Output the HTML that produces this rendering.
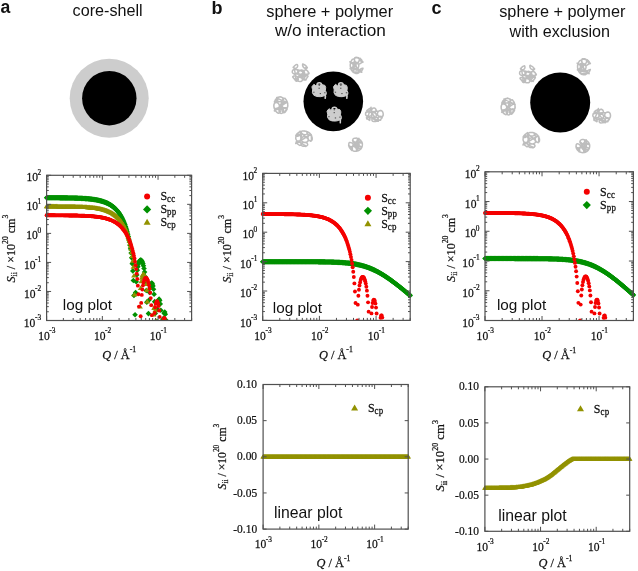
<!DOCTYPE html><html><head><meta charset="utf-8"><style>html,body{margin:0;padding:0;background:#fff;width:638px;height:571px;overflow:hidden}svg{display:block;will-change:transform}</style></head><body><svg width="638" height="571" viewBox="0 0 638 571">
<rect width="638" height="571" fill="#fff"/>
<text x="0.50" y="13.00" style="font-family:'Liberation Sans',sans-serif;font-size:17.6px;font-weight:bold" fill="#111">a</text>
<text x="211.60" y="14.20" style="font-family:'Liberation Sans',sans-serif;font-size:18px;font-weight:bold" fill="#111">b</text>
<text x="431.40" y="14.20" style="font-family:'Liberation Sans',sans-serif;font-size:18px;font-weight:bold" fill="#111">c</text>
<text x="72.60" y="15.70" textLength="70.00" lengthAdjust="spacingAndGlyphs" style="font-family:'Liberation Sans',sans-serif;font-size:16px" fill="#111">core-shell</text>
<text x="266.20" y="17.10" textLength="127.00" lengthAdjust="spacingAndGlyphs" style="font-family:'Liberation Sans',sans-serif;font-size:16.3px" fill="#111">sphere + polymer</text>
<text x="274.90" y="36.20" textLength="111.00" lengthAdjust="spacingAndGlyphs" style="font-family:'Liberation Sans',sans-serif;font-size:16.3px" fill="#111">w/o interaction</text>
<text x="499.20" y="17.00" textLength="126.20" lengthAdjust="spacingAndGlyphs" style="font-family:'Liberation Sans',sans-serif;font-size:16.3px" fill="#111">sphere + polymer</text>
<text x="509.50" y="36.90" textLength="100.50" lengthAdjust="spacingAndGlyphs" style="font-family:'Liberation Sans',sans-serif;font-size:16.3px" fill="#111">with exclusion</text>
<circle cx="109.2" cy="98.3" r="39.5" fill="#cdcdcd"/>
<circle cx="109.3" cy="98.2" r="27.2" fill="#000"/>
<circle cx="333.3" cy="101.4" r="29.8" fill="#000"/>
<circle cx="560.2" cy="102.5" r="30" fill="#000"/>
<path d="M293.2 67.4C293.3 67.5 293.6 67.9 293.9 68.1C294.2 68.3 294.8 68.4 295.2 68.4C295.6 68.4 296.1 68.2 296.5 68.0C296.9 67.8 297.2 67.4 297.4 67.0C297.6 66.6 297.7 66.2 297.7 65.7C297.6 65.3 297.4 64.7 297.2 64.5C297.0 64.3 296.8 64.4 296.5 64.5C296.3 64.5 296.0 64.8 295.7 64.9C295.4 65.1 295.1 65.4 294.8 65.6C294.6 65.8 294.3 66.1 294.1 66.3C293.9 66.6 293.7 66.8 293.5 67.0C293.3 67.2 293.0 67.3 293.2 67.5C293.3 67.7 293.8 66.1 294.2 68.2C294.7 70.3 295.8 78.4 295.8 80.1C295.9 81.9 294.8 79.4 294.4 79.0C293.9 78.5 293.5 78.0 293.2 77.6C293.0 77.2 292.5 76.9 292.8 76.6C293.2 76.3 294.5 75.7 295.3 75.8C296.0 75.9 297.0 76.4 297.5 77.0C298.0 77.6 298.3 78.7 298.3 79.4C298.3 80.0 297.8 80.8 297.4 80.9C297.0 81.1 296.5 80.5 296.0 80.3C295.5 80.0 295.0 79.5 294.5 79.1C294.1 78.7 293.6 78.2 293.3 77.8C293.0 77.4 292.4 77.0 292.7 76.7C293.0 76.4 294.2 75.8 295.0 75.8C295.7 75.8 295.9 76.9 297.3 76.8C298.7 76.6 302.4 75.6 303.3 75.0C304.2 74.3 302.6 73.5 302.6 72.8C302.7 72.1 303.1 71.2 303.7 70.7C304.2 70.3 305.1 70.0 305.8 70.1C306.5 70.1 307.3 70.7 307.8 71.2C308.2 71.8 308.4 72.8 308.3 73.5C308.2 74.2 307.7 75.1 307.1 75.5C306.5 75.9 305.6 76.1 304.9 75.9C304.2 75.8 303.4 75.2 303.1 74.6C302.7 74.0 302.5 73.0 302.7 72.3C302.8 71.6 303.4 70.8 304.0 70.4C304.6 70.1 305.6 70.0 306.2 70.1C306.9 70.3 307.7 71.0 308.0 71.6C308.3 72.2 310.1 73.6 308.2 73.9C306.2 74.3 298.1 74.1 296.4 73.9C294.6 73.7 297.4 73.2 297.6 72.7C297.9 72.2 297.9 71.5 297.8 71.0C297.6 70.5 297.2 70.0 296.7 69.7C296.2 69.3 295.5 69.2 294.9 69.2C294.3 69.2 293.6 69.5 293.2 69.8C292.7 70.2 292.4 70.8 292.3 71.3C292.2 71.8 292.3 72.5 292.6 72.9C292.9 73.4 293.5 73.8 294.1 74.0C294.6 74.2 295.4 74.2 296.0 74.0C296.5 73.9 297.1 73.5 297.4 73.0C297.8 72.6 297.9 71.9 297.9 71.4C297.8 70.9 297.5 70.3 297.1 69.9C296.6 69.5 294.2 68.8 295.3 69.2C296.5 69.5 302.4 71.1 303.9 72.0C305.3 72.8 304.2 73.7 303.9 74.4C303.7 75.2 303.1 76.0 302.5 76.3C301.9 76.6 301.0 76.7 300.4 76.5C299.7 76.3 299.0 75.6 298.7 74.9C298.4 74.3 298.2 73.2 298.4 72.5C298.6 71.7 299.1 70.9 299.7 70.5C300.3 70.1 301.2 69.9 301.8 70.0C302.5 70.2 303.2 70.8 303.6 71.4C304.0 72.0 304.2 73.1 304.1 73.8C304.0 74.6 303.5 75.5 303.0 76.0C302.4 76.4 301.5 76.7 300.9 76.6C300.2 76.5 299.4 76.0 299.0 75.4C298.6 74.9 297.3 72.3 298.3 73.1C299.3 73.8 303.7 78.9 305.0 79.8C306.4 80.7 306.0 79.0 306.4 78.6C306.8 78.2 307.1 77.7 307.4 77.3C307.6 76.9 307.9 76.5 307.9 76.3C307.9 76.0 307.8 75.8 307.3 75.7C306.8 75.6 305.5 75.5 304.7 75.7C304.0 75.9 303.2 76.4 302.8 76.8C302.4 77.3 302.3 78.0 302.5 78.6C302.7 79.1 303.5 79.8 304.0 80.0C304.5 80.1 305.2 79.6 305.7 79.3C306.2 79.0 306.6 78.4 306.9 78.0C307.2 77.6 307.5 77.1 307.7 76.8C307.8 76.4 308.3 76.2 308.0 76.0C307.8 75.8 307.1 74.9 306.2 75.6C305.2 76.2 303.2 79.2 302.4 80.1C301.6 81.1 301.8 81.1 301.3 81.3C300.8 81.5 300.1 81.4 299.5 81.4C298.9 81.3 298.2 81.2 297.7 81.0C297.2 80.8 296.8 80.4 296.6 80.0C296.5 79.5 296.7 78.8 297.1 78.4C297.4 78.0 298.0 77.6 298.6 77.4C299.2 77.3 300.0 77.3 300.6 77.5C301.2 77.7 301.8 78.1 302.1 78.5C302.4 78.9 302.5 79.6 302.4 80.1C302.3 80.5 301.8 81.1 301.4 81.3C300.9 81.5 300.1 81.4 299.5 81.4C298.9 81.3 298.2 81.2 297.7 81.0C297.3 80.8 295.2 82.1 296.7 80.0C298.1 77.9 305.4 70.2 306.7 68.2C308.0 66.2 305.0 68.4 304.4 68.0C303.7 67.7 303.1 66.8 302.8 66.2C302.5 65.5 302.6 64.3 302.7 64.0C302.9 63.7 303.2 64.1 303.5 64.3C303.9 64.5 304.4 64.7 304.8 65.0C305.3 65.3 305.8 65.8 306.1 66.1C306.5 66.5 306.9 67.0 307.1 67.3C307.3 67.6 307.5 67.8 307.1 68.0C306.8 68.2 305.5 68.5 304.8 68.2C304.1 68.0 303.3 67.3 303.0 66.6C302.6 66.0 302.6 64.5 302.7 64.1C302.7 63.7 303.0 64.1 303.3 64.2C303.6 64.3 304.3 64.7 304.6 64.9" fill="none" stroke="#bdbdbd" stroke-width="1.5" stroke-linejoin="round" stroke-linecap="round"/>
<path d="M520.5 68.8C520.6 68.9 520.9 69.3 521.2 69.5C521.5 69.7 522.1 69.8 522.5 69.8C522.9 69.8 523.4 69.6 523.8 69.4C524.2 69.2 524.5 68.8 524.7 68.4C524.9 68.0 525.0 67.6 525.0 67.1C524.9 66.7 524.7 66.1 524.5 65.9C524.3 65.7 524.1 65.8 523.8 65.9C523.6 65.9 523.3 66.2 523.0 66.3C522.7 66.5 522.4 66.8 522.1 67.0C521.9 67.2 521.6 67.5 521.4 67.7C521.2 68.0 521.0 68.2 520.8 68.4C520.6 68.6 520.3 68.7 520.5 68.9C520.6 69.1 521.1 67.5 521.5 69.6C522.0 71.7 523.1 79.8 523.1 81.5C523.2 83.3 522.1 80.8 521.7 80.4C521.2 79.9 520.8 79.4 520.5 79.0C520.3 78.6 519.8 78.3 520.1 78.0C520.5 77.7 521.8 77.1 522.6 77.2C523.3 77.3 524.3 77.8 524.8 78.4C525.3 79.0 525.6 80.1 525.6 80.8C525.6 81.4 525.1 82.2 524.7 82.3C524.3 82.5 523.8 81.9 523.3 81.7C522.8 81.4 522.3 80.9 521.8 80.5C521.4 80.1 520.9 79.6 520.6 79.2C520.3 78.8 519.7 78.4 520.0 78.1C520.3 77.8 521.5 77.2 522.3 77.2C523.0 77.2 523.2 78.3 524.6 78.2C526.0 78.0 529.7 77.0 530.6 76.4C531.5 75.7 529.9 74.9 529.9 74.2C530.0 73.5 530.4 72.6 531.0 72.1C531.5 71.7 532.4 71.4 533.1 71.5C533.8 71.5 534.6 72.1 535.1 72.6C535.5 73.2 535.7 74.2 535.6 74.9C535.5 75.6 535.0 76.5 534.4 76.9C533.8 77.3 532.9 77.5 532.2 77.3C531.5 77.2 530.7 76.6 530.4 76.0C530.0 75.4 529.8 74.4 530.0 73.7C530.1 73.0 530.7 72.2 531.3 71.8C531.9 71.5 532.9 71.4 533.5 71.5C534.2 71.7 535.0 72.4 535.3 73.0C535.6 73.6 537.4 75.0 535.5 75.3C533.5 75.7 525.4 75.5 523.7 75.3C521.9 75.1 524.7 74.6 524.9 74.1C525.2 73.6 525.2 72.9 525.1 72.4C524.9 71.9 524.5 71.4 524.0 71.1C523.5 70.7 522.8 70.6 522.2 70.6C521.6 70.6 520.9 70.9 520.5 71.2C520.0 71.6 519.7 72.2 519.6 72.7C519.5 73.2 519.6 73.9 519.9 74.3C520.2 74.8 520.8 75.2 521.4 75.4C521.9 75.6 522.7 75.6 523.3 75.4C523.8 75.3 524.4 74.9 524.7 74.4C525.1 74.0 525.2 73.3 525.2 72.8C525.1 72.3 524.8 71.7 524.4 71.3C523.9 70.9 521.5 70.2 522.6 70.6C523.8 70.9 529.7 72.5 531.2 73.4C532.6 74.2 531.5 75.1 531.2 75.8C531.0 76.6 530.4 77.4 529.8 77.7C529.2 78.0 528.3 78.1 527.7 77.9C527.0 77.7 526.3 77.0 526.0 76.3C525.7 75.7 525.5 74.6 525.7 73.9C525.9 73.1 526.4 72.3 527.0 71.9C527.6 71.5 528.5 71.3 529.1 71.4C529.8 71.6 530.5 72.2 530.9 72.8C531.3 73.4 531.5 74.5 531.4 75.2C531.3 76.0 530.8 76.9 530.3 77.4C529.7 77.8 528.8 78.1 528.2 78.0C527.5 77.9 526.7 77.4 526.3 76.8C525.9 76.3 524.6 73.7 525.6 74.5C526.6 75.2 531.0 80.3 532.3 81.2C533.7 82.1 533.3 80.4 533.7 80.0C534.1 79.6 534.4 79.1 534.7 78.7C534.9 78.3 535.2 77.9 535.2 77.7C535.2 77.4 535.1 77.2 534.6 77.1C534.1 77.0 532.8 76.9 532.0 77.1C531.3 77.3 530.5 77.8 530.1 78.2C529.7 78.7 529.6 79.4 529.8 80.0C530.0 80.5 530.8 81.2 531.3 81.4C531.8 81.5 532.5 81.0 533.0 80.7C533.5 80.4 533.9 79.8 534.2 79.4C534.5 79.0 534.8 78.5 535.0 78.2C535.1 77.8 535.6 77.6 535.3 77.4C535.1 77.2 534.4 76.3 533.5 77.0C532.5 77.6 530.5 80.6 529.7 81.5C528.9 82.5 529.1 82.5 528.6 82.7C528.1 82.9 527.4 82.8 526.8 82.8C526.2 82.7 525.5 82.6 525.0 82.4C524.5 82.2 524.1 81.8 523.9 81.4C523.8 80.9 524.0 80.2 524.4 79.8C524.7 79.4 525.3 79.0 525.9 78.8C526.5 78.7 527.3 78.7 527.9 78.9C528.5 79.1 529.1 79.5 529.4 79.9C529.7 80.3 529.8 81.0 529.7 81.5C529.6 81.9 529.1 82.5 528.7 82.7C528.2 82.9 527.4 82.8 526.8 82.8C526.2 82.7 525.5 82.6 525.0 82.4C524.6 82.2 522.5 83.5 524.0 81.4C525.4 79.3 532.7 71.6 534.0 69.6C535.3 67.6 532.3 69.8 531.7 69.4C531.0 69.1 530.4 68.2 530.1 67.6C529.8 66.9 529.9 65.7 530.0 65.4C530.2 65.1 530.5 65.5 530.8 65.7C531.2 65.9 531.7 66.1 532.1 66.4C532.6 66.7 533.1 67.2 533.4 67.5C533.8 67.9 534.2 68.4 534.4 68.7C534.6 69.0 534.8 69.2 534.4 69.4C534.1 69.6 532.8 69.9 532.1 69.6C531.4 69.4 530.6 68.7 530.3 68.0C529.9 67.4 529.9 65.9 530.0 65.5C530.0 65.1 530.3 65.5 530.6 65.6C530.9 65.7 531.6 66.1 531.9 66.3" fill="none" stroke="#bdbdbd" stroke-width="1.5" stroke-linejoin="round" stroke-linecap="round"/>
<path d="M351.5 68.8C351.8 68.7 352.8 68.5 353.2 68.1C353.7 67.8 354.1 67.2 354.3 66.7C354.5 66.2 354.5 65.5 354.3 65.0C354.1 64.5 353.7 63.9 353.2 63.6C352.7 63.2 351.8 63.0 351.4 63.0C350.9 63.0 350.6 63.3 350.4 63.6C350.2 63.9 350.3 64.4 350.3 64.8C350.2 65.2 350.2 65.7 350.3 66.1C350.3 66.5 350.4 67.0 350.5 67.4C350.5 67.8 350.5 68.4 350.8 68.6C351.1 68.8 351.9 68.8 352.4 68.6C352.9 68.4 353.6 67.9 353.9 67.5C354.2 67.0 354.1 66.7 354.4 65.8C354.7 65.0 355.2 62.9 355.7 62.4C356.2 61.9 356.9 62.5 357.3 62.8C357.8 63.1 358.2 63.6 358.5 64.1C358.7 64.6 358.8 65.3 358.8 65.8C358.7 66.4 358.5 67.1 358.2 67.5C357.8 68.0 357.3 68.4 356.8 68.5C356.3 68.7 355.7 68.7 355.2 68.6C354.7 68.4 354.1 68.1 353.8 67.6C353.4 67.2 353.2 66.6 353.1 66.0C353.0 65.4 353.1 64.8 353.3 64.2C353.5 63.7 353.9 63.2 354.4 62.9C354.8 62.6 355.5 62.4 356.0 62.4C356.5 62.4 357.1 62.6 357.5 62.9C358.0 63.3 357.7 64.5 358.6 64.3C359.4 64.2 362.0 62.3 362.7 62.0C363.4 61.6 363.0 62.3 362.8 62.3C362.7 62.3 362.1 62.2 361.7 61.9C361.3 61.6 360.8 61.0 360.6 60.4C360.3 59.9 360.3 58.9 360.2 58.5C360.2 58.2 360.1 58.4 360.1 58.5C360.2 58.5 360.4 58.7 360.6 58.9C360.8 59.0 361.1 59.3 361.3 59.6C361.6 59.9 361.8 60.2 362.0 60.6C362.2 60.9 362.4 61.3 362.6 61.6C362.7 61.9 362.9 62.2 362.8 62.3C362.8 62.4 362.7 62.4 362.4 62.2C362.1 62.0 361.3 61.7 361.0 61.2C360.7 60.8 361.2 59.9 360.3 59.3C359.5 58.7 356.7 57.6 355.7 57.5C354.8 57.3 354.7 57.8 354.5 58.3C354.4 58.9 354.4 60.1 354.6 60.8C354.8 61.6 355.3 62.3 355.8 62.7C356.3 63.0 357.0 63.1 357.5 62.9C358.0 62.7 358.6 62.1 358.9 61.4C359.2 60.8 359.4 59.6 359.3 59.0C359.2 58.4 358.8 57.9 358.4 57.6C358.0 57.3 357.4 57.4 356.9 57.4C356.4 57.3 355.9 57.3 355.5 57.5C355.0 57.8 354.6 58.2 354.5 58.9C354.3 59.5 354.5 60.6 354.8 61.3C355.1 62.0 355.6 62.6 356.1 62.9C356.7 63.1 358.8 61.8 357.9 62.7C356.9 63.6 351.9 67.5 350.7 68.4C349.5 69.2 350.4 67.9 350.6 67.9C350.7 67.8 351.2 67.9 351.6 68.1C352.0 68.3 352.9 68.7 353.2 69.2C353.5 69.6 353.5 70.4 353.4 70.8C353.4 71.2 352.9 71.6 352.7 71.6C352.4 71.6 352.1 71.1 351.9 70.7C351.7 70.4 351.4 70.0 351.2 69.6C351.0 69.2 350.9 68.8 350.8 68.6C350.7 68.3 350.5 68.0 350.6 67.9C350.6 67.8 350.8 67.9 351.2 68.0C351.6 68.2 352.5 68.5 352.9 68.9C353.3 69.3 353.5 70.0 353.5 70.5C353.5 71.0 351.6 71.5 352.8 71.7C353.9 72.0 359.0 72.1 360.3 72.1C361.6 72.1 360.6 72.0 360.7 71.8C360.9 71.7 361.2 71.4 361.4 71.2C361.6 70.9 361.8 70.7 362.0 70.4C362.1 70.1 362.3 69.8 362.4 69.5C362.6 69.2 362.7 69.0 362.8 68.8C362.8 68.5 362.9 68.3 362.9 68.2C363.0 68.1 363.1 68.1 363.0 68.2C362.8 68.2 362.2 68.2 361.8 68.4C361.4 68.6 360.8 68.8 360.5 69.2C360.2 69.5 360.0 70.0 359.9 70.4C359.9 70.9 360.0 71.5 360.1 71.8C360.3 72.0 360.4 72.0 360.6 71.9C360.8 71.9 362.8 73.0 361.2 71.4C359.6 69.8 352.5 63.8 350.7 62.3C349.0 60.9 350.4 62.7 350.6 62.8C350.8 62.9 351.5 63.0 352.1 62.9C352.7 62.7 353.6 62.4 354.0 62.0C354.4 61.6 354.7 61.0 354.7 60.5C354.6 59.9 354.1 59.1 353.7 59.0C353.3 58.8 352.8 59.1 352.4 59.4C352.1 59.7 351.8 60.2 351.5 60.6C351.3 61.0 351.1 61.5 350.9 61.8C350.8 62.1 350.7 62.5 350.6 62.6C350.6 62.8 350.4 62.8 350.8 62.8C351.2 62.8 352.4 62.9 353.0 62.6C353.6 62.4 354.2 61.9 354.5 61.4C354.7 60.9 354.0 58.4 354.4 59.7C354.8 61.1 356.9 68.0 357.0 69.7C357.1 71.3 355.7 69.5 355.1 69.6C354.5 69.6 353.9 69.8 353.4 70.1C352.9 70.4 352.5 70.9 352.4 71.2C352.3 71.4 352.6 71.6 352.8 71.8C353.1 72.0 353.4 72.3 353.8 72.6C354.3 72.8 354.8 73.1 355.3 73.2C355.9 73.4 356.6 73.5 357.1 73.4C357.6 73.4 358.2 73.3 358.6 73.0C358.9 72.7 359.1 72.2 359.2 71.8C359.2 71.4 359.0 71.0 358.7 70.6C358.4 70.3 357.8 70.0 357.3 69.8C356.8 69.6 356.0 69.5 355.4 69.5C354.8 69.6 353.9 69.9 353.6 70.0" fill="none" stroke="#bdbdbd" stroke-width="1.5" stroke-linejoin="round" stroke-linecap="round"/>
<path d="M578.8 70.2C579.1 70.1 580.1 69.9 580.5 69.5C581.0 69.2 581.4 68.6 581.6 68.1C581.8 67.6 581.8 66.9 581.6 66.4C581.4 65.9 581.0 65.3 580.5 65.0C580.0 64.6 579.1 64.4 578.7 64.4C578.2 64.4 577.9 64.7 577.7 65.0C577.5 65.3 577.6 65.8 577.6 66.2C577.5 66.6 577.5 67.1 577.6 67.5C577.6 67.9 577.7 68.4 577.8 68.8C577.8 69.2 577.8 69.8 578.1 70.0C578.4 70.2 579.2 70.2 579.7 70.0C580.2 69.8 580.9 69.3 581.2 68.9C581.5 68.4 581.4 68.1 581.7 67.2C582.0 66.4 582.5 64.3 583.0 63.8C583.5 63.3 584.2 63.9 584.6 64.2C585.1 64.5 585.5 65.0 585.8 65.5C586.0 66.0 586.1 66.7 586.1 67.2C586.0 67.8 585.8 68.5 585.5 68.9C585.1 69.4 584.6 69.8 584.1 69.9C583.6 70.1 583.0 70.1 582.5 70.0C582.0 69.8 581.4 69.5 581.1 69.0C580.7 68.6 580.5 68.0 580.4 67.4C580.3 66.8 580.4 66.2 580.6 65.6C580.8 65.1 581.2 64.6 581.7 64.3C582.1 64.0 582.8 63.8 583.3 63.8C583.8 63.8 584.4 64.0 584.8 64.3C585.3 64.7 585.0 65.9 585.9 65.7C586.7 65.6 589.3 63.7 590.0 63.4C590.7 63.0 590.3 63.7 590.1 63.7C590.0 63.7 589.4 63.6 589.0 63.3C588.6 63.0 588.1 62.4 587.9 61.8C587.6 61.3 587.6 60.3 587.5 59.9C587.5 59.6 587.4 59.8 587.4 59.9C587.5 59.9 587.7 60.1 587.9 60.3C588.1 60.4 588.4 60.7 588.6 61.0C588.9 61.3 589.1 61.6 589.3 62.0C589.5 62.3 589.7 62.7 589.9 63.0C590.0 63.3 590.2 63.6 590.1 63.7C590.1 63.8 590.0 63.8 589.7 63.6C589.4 63.4 588.6 63.1 588.3 62.6C588.0 62.2 588.5 61.3 587.6 60.7C586.8 60.1 584.0 59.0 583.0 58.9C582.1 58.7 582.0 59.2 581.8 59.7C581.7 60.3 581.7 61.5 581.9 62.2C582.1 63.0 582.6 63.7 583.1 64.1C583.6 64.4 584.3 64.5 584.8 64.3C585.3 64.1 585.9 63.5 586.2 62.8C586.5 62.2 586.7 61.0 586.6 60.4C586.5 59.8 586.1 59.3 585.7 59.0C585.3 58.7 584.7 58.8 584.2 58.8C583.7 58.7 583.2 58.7 582.8 58.9C582.3 59.2 581.9 59.6 581.8 60.3C581.6 60.9 581.8 62.0 582.1 62.7C582.4 63.4 582.9 64.0 583.4 64.3C584.0 64.5 586.1 63.2 585.2 64.1C584.2 65.0 579.2 68.9 578.0 69.8C576.8 70.6 577.7 69.3 577.9 69.3C578.0 69.2 578.5 69.3 578.9 69.5C579.3 69.7 580.2 70.1 580.5 70.6C580.8 71.0 580.8 71.8 580.7 72.2C580.7 72.6 580.2 73.0 580.0 73.0C579.7 73.0 579.4 72.5 579.2 72.1C579.0 71.8 578.7 71.4 578.5 71.0C578.3 70.6 578.2 70.2 578.1 70.0C578.0 69.7 577.8 69.4 577.9 69.3C577.9 69.2 578.1 69.3 578.5 69.4C578.9 69.6 579.8 69.9 580.2 70.3C580.6 70.7 580.8 71.4 580.8 71.9C580.8 72.4 578.9 72.9 580.1 73.1C581.2 73.4 586.3 73.5 587.6 73.5C588.9 73.5 587.9 73.4 588.0 73.2C588.2 73.1 588.5 72.8 588.7 72.6C588.9 72.3 589.1 72.1 589.3 71.8C589.4 71.5 589.6 71.2 589.7 70.9C589.9 70.6 590.0 70.4 590.1 70.2C590.1 69.9 590.2 69.7 590.2 69.6C590.3 69.5 590.4 69.5 590.3 69.6C590.1 69.6 589.5 69.6 589.1 69.8C588.7 70.0 588.1 70.2 587.8 70.6C587.5 70.9 587.3 71.4 587.2 71.8C587.2 72.3 587.3 72.9 587.4 73.2C587.6 73.4 587.7 73.4 587.9 73.3C588.1 73.3 590.1 74.4 588.5 72.8C586.9 71.2 579.8 65.2 578.0 63.7C576.3 62.3 577.7 64.1 577.9 64.2C578.1 64.3 578.8 64.4 579.4 64.3C580.0 64.1 580.9 63.8 581.3 63.4C581.7 63.0 582.0 62.4 582.0 61.9C581.9 61.3 581.4 60.5 581.0 60.4C580.6 60.2 580.1 60.5 579.7 60.8C579.4 61.1 579.1 61.6 578.8 62.0C578.6 62.4 578.4 62.9 578.2 63.2C578.1 63.5 578.0 63.9 577.9 64.0C577.9 64.2 577.7 64.2 578.1 64.2C578.5 64.2 579.7 64.3 580.3 64.0C580.9 63.8 581.5 63.3 581.8 62.8C582.0 62.3 581.3 59.8 581.7 61.1C582.1 62.5 584.2 69.4 584.3 71.1C584.4 72.7 583.0 70.9 582.4 71.0C581.8 71.0 581.2 71.2 580.7 71.5C580.2 71.8 579.8 72.3 579.7 72.6C579.6 72.8 579.9 73.0 580.1 73.2C580.4 73.4 580.7 73.7 581.1 74.0C581.6 74.2 582.1 74.5 582.6 74.6C583.2 74.8 583.9 74.9 584.4 74.8C584.9 74.8 585.5 74.7 585.9 74.4C586.2 74.1 586.4 73.6 586.5 73.2C586.5 72.8 586.3 72.4 586.0 72.0C585.7 71.7 585.1 71.4 584.6 71.2C584.1 71.0 583.3 70.9 582.7 70.9C582.1 71.0 581.2 71.3 580.9 71.4" fill="none" stroke="#bdbdbd" stroke-width="1.5" stroke-linejoin="round" stroke-linecap="round"/>
<path d="M279.2 109.2C279.3 109.0 279.7 108.3 280.0 108.0C280.4 107.7 280.8 107.6 281.2 107.5C281.6 107.5 282.1 107.7 282.4 107.9C282.8 108.2 283.1 108.6 283.3 109.0C283.5 109.5 283.6 110.1 283.6 110.6C283.6 111.1 283.5 111.7 283.3 112.1C283.1 112.5 282.7 113.0 282.3 113.2C282.0 113.4 281.5 113.5 281.1 113.5C280.7 113.5 280.3 113.2 279.9 112.9C279.6 112.6 279.3 112.2 279.2 111.7C279.0 111.2 278.9 110.6 279.0 110.1C279.0 109.6 279.2 109.0 279.5 108.6C279.7 108.2 280.9 108.9 280.5 107.7C280.1 106.5 277.7 102.2 276.8 101.2C276.0 100.3 275.9 101.7 275.5 101.8C275.1 101.9 274.6 101.8 274.5 101.8C274.3 101.7 274.5 101.7 274.5 101.6C274.6 101.5 274.7 101.2 274.8 101.0C274.9 100.8 275.1 100.5 275.2 100.2C275.4 99.9 275.6 99.6 275.8 99.4C276.0 99.1 276.3 98.8 276.5 98.6C276.7 98.4 276.9 98.2 277.1 98.1C277.3 98.0 277.4 97.7 277.5 97.9C277.6 98.1 277.8 98.8 277.8 99.3C277.8 99.7 277.6 100.3 277.4 100.6C277.1 101.0 276.7 101.4 276.3 101.6C275.9 101.8 275.3 101.5 275.0 101.8C274.6 102.1 274.5 102.7 274.4 103.4C274.2 104.0 273.9 104.8 273.9 105.6C273.8 106.3 273.9 107.3 274.2 107.9C274.5 108.6 275.0 109.4 275.6 109.6C276.2 109.8 277.2 109.6 277.8 109.2C278.5 108.8 279.1 108.0 279.3 107.2C279.5 106.4 279.4 105.4 279.1 104.6C278.8 103.9 278.1 103.2 277.4 102.9C276.8 102.6 275.8 102.5 275.2 102.8C274.6 103.1 274.1 103.9 273.9 104.6C273.7 105.3 273.9 106.2 274.0 107.0C274.1 107.8 274.2 108.8 274.7 109.2C275.2 109.7 276.3 109.8 277.0 109.6C277.6 109.5 277.8 109.9 278.9 108.2C279.9 106.4 282.5 100.8 283.1 99.0C283.6 97.3 282.7 97.9 282.2 97.6C281.7 97.2 280.8 96.8 280.1 96.8C279.4 96.8 278.6 97.2 278.0 97.5C277.4 97.8 276.8 98.2 276.5 98.6C276.2 99.0 276.1 99.5 276.3 99.9C276.4 100.4 277.0 101.0 277.6 101.2C278.2 101.5 279.1 101.7 279.8 101.7C280.5 101.7 281.4 101.4 281.9 101.1C282.4 100.8 282.9 100.2 283.0 99.7C283.2 99.2 283.0 98.6 282.7 98.1C282.4 97.7 281.7 97.2 281.0 97.0C280.4 96.8 279.5 97.0 278.8 97.1C278.2 97.3 275.7 97.3 277.1 98.1C278.4 99.0 285.0 101.4 286.8 102.4C288.5 103.3 287.5 103.3 287.6 103.8C287.8 104.3 287.8 104.9 287.7 105.5C287.7 106.0 287.9 106.7 287.6 107.1C287.3 107.6 286.7 108.0 286.1 108.2C285.5 108.3 284.6 108.2 284.0 108.0C283.4 107.8 282.8 107.3 282.5 106.8C282.1 106.3 281.9 105.6 282.0 105.0C282.0 104.4 282.2 103.7 282.6 103.3C283.0 102.8 283.7 102.4 284.3 102.2C284.9 102.0 285.8 102.0 286.3 102.2C286.9 102.4 287.3 102.9 287.6 103.4C287.8 103.9 287.7 104.5 287.7 105.1C287.8 105.6 288.2 105.5 287.6 106.7C287.1 108.0 284.9 111.7 284.6 112.4C284.3 113.1 285.6 111.5 285.9 111.0C286.3 110.6 286.6 110.0 286.8 109.6C287.0 109.2 287.4 108.9 287.2 108.6C287.0 108.3 286.4 107.8 285.8 107.7C285.1 107.7 284.1 107.8 283.5 108.1C282.9 108.4 282.3 109.0 282.1 109.6C281.9 110.2 282.0 111.0 282.3 111.5C282.6 112.1 283.5 112.8 284.0 112.8C284.6 112.8 285.0 112.1 285.5 111.6C285.9 111.2 286.2 110.6 286.5 110.2C286.8 109.7 287.1 109.3 287.1 108.9C287.1 108.6 287.1 108.2 286.6 108.0C286.2 107.8 285.5 107.5 284.3 107.8C283.2 108.1 280.7 109.2 280.0 109.9C279.2 110.6 280.3 111.4 280.1 111.9C279.8 112.5 279.0 113.3 278.5 113.3C277.9 113.4 277.3 112.7 276.8 112.2C276.3 111.8 275.8 111.3 275.5 110.8C275.2 110.4 274.9 109.9 274.8 109.5C274.7 109.2 274.4 109.0 274.8 108.7C275.3 108.5 276.5 108.2 277.3 108.3C278.1 108.4 279.0 108.8 279.5 109.3C280.0 109.8 280.3 110.6 280.3 111.3C280.2 111.9 279.6 112.9 279.1 113.1C278.6 113.3 277.9 113.0 277.3 112.7C276.8 112.3 276.3 111.7 275.9 111.3C275.5 110.8 273.2 111.4 275.0 109.9C276.7 108.5 284.6 104.0 286.2 102.6C287.7 101.3 284.7 102.2 284.2 101.9C283.7 101.5 283.3 100.9 283.2 100.4C283.1 99.9 283.3 99.1 283.6 98.8C283.9 98.5 284.4 98.3 284.8 98.3C285.2 98.4 285.5 99.0 285.8 99.4C286.1 99.7 286.3 100.2 286.6 100.5C286.8 100.9 286.9 101.3 287.1 101.6C287.2 101.9 287.3 102.2 287.3 102.4C287.4 102.6 287.6 102.7 287.4 102.7C287.2 102.8 286.6 102.8 286.1 102.6C285.6 102.4 284.6 102.2 284.1 101.8C283.7 101.4 283.3 100.9 283.2 100.4C283.1 99.8 283.5 99.0 283.6 98.8" fill="none" stroke="#bdbdbd" stroke-width="1.5" stroke-linejoin="round" stroke-linecap="round"/>
<path d="M506.5 110.6C506.6 110.4 507.0 109.7 507.3 109.4C507.7 109.1 508.1 109.0 508.5 108.9C508.9 108.9 509.4 109.1 509.7 109.3C510.1 109.6 510.4 110.0 510.6 110.4C510.8 110.9 510.9 111.5 510.9 112.0C510.9 112.5 510.8 113.1 510.6 113.5C510.4 113.9 510.0 114.4 509.6 114.6C509.3 114.8 508.8 114.9 508.4 114.9C508.0 114.9 507.6 114.6 507.2 114.3C506.9 114.0 506.6 113.6 506.5 113.1C506.3 112.6 506.2 112.0 506.3 111.5C506.3 111.0 506.5 110.4 506.8 110.0C507.0 109.6 508.2 110.3 507.8 109.1C507.4 107.9 505.0 103.6 504.1 102.6C503.3 101.7 503.2 103.1 502.8 103.2C502.4 103.3 501.9 103.2 501.8 103.2C501.6 103.1 501.8 103.1 501.8 103.0C501.9 102.9 502.0 102.6 502.1 102.4C502.2 102.2 502.4 101.9 502.5 101.6C502.7 101.3 502.9 101.0 503.1 100.8C503.3 100.5 503.6 100.2 503.8 100.0C504.0 99.8 504.2 99.6 504.4 99.5C504.6 99.4 504.7 99.1 504.8 99.3C504.9 99.5 505.1 100.2 505.1 100.7C505.1 101.1 504.9 101.7 504.7 102.0C504.4 102.4 504.0 102.8 503.6 103.0C503.2 103.2 502.6 102.9 502.3 103.2C501.9 103.5 501.8 104.1 501.7 104.8C501.5 105.4 501.2 106.2 501.2 107.0C501.1 107.7 501.2 108.7 501.5 109.3C501.8 110.0 502.3 110.8 502.9 111.0C503.5 111.2 504.5 111.0 505.1 110.6C505.8 110.2 506.4 109.4 506.6 108.6C506.8 107.8 506.7 106.8 506.4 106.0C506.1 105.3 505.4 104.6 504.7 104.3C504.1 104.0 503.1 103.9 502.5 104.2C501.9 104.5 501.4 105.3 501.2 106.0C501.0 106.7 501.2 107.6 501.3 108.4C501.4 109.2 501.5 110.2 502.0 110.6C502.5 111.1 503.6 111.2 504.3 111.0C504.9 110.9 505.1 111.3 506.2 109.6C507.2 107.8 509.8 102.2 510.4 100.4C510.9 98.7 510.0 99.3 509.5 99.0C509.0 98.6 508.1 98.2 507.4 98.2C506.7 98.2 505.9 98.6 505.3 98.9C504.7 99.2 504.1 99.6 503.8 100.0C503.5 100.4 503.4 100.9 503.6 101.3C503.7 101.8 504.3 102.4 504.9 102.6C505.5 102.9 506.4 103.1 507.1 103.1C507.8 103.1 508.7 102.8 509.2 102.5C509.7 102.2 510.2 101.6 510.3 101.1C510.5 100.6 510.3 100.0 510.0 99.5C509.7 99.1 509.0 98.6 508.3 98.4C507.7 98.2 506.8 98.4 506.1 98.5C505.5 98.7 503.0 98.7 504.4 99.5C505.7 100.4 512.3 102.8 514.1 103.8C515.8 104.7 514.8 104.7 514.9 105.2C515.1 105.7 515.1 106.3 515.0 106.9C515.0 107.4 515.2 108.1 514.9 108.5C514.6 109.0 514.0 109.4 513.4 109.6C512.8 109.7 511.9 109.6 511.3 109.4C510.7 109.2 510.1 108.7 509.8 108.2C509.4 107.7 509.2 107.0 509.3 106.4C509.3 105.8 509.5 105.1 509.9 104.7C510.3 104.2 511.0 103.8 511.6 103.6C512.2 103.4 513.1 103.4 513.6 103.6C514.2 103.8 514.6 104.3 514.9 104.8C515.1 105.3 515.0 105.9 515.0 106.5C515.1 107.0 515.5 106.9 514.9 108.1C514.4 109.4 512.2 113.1 511.9 113.8C511.6 114.5 512.9 112.9 513.2 112.4C513.6 112.0 513.9 111.4 514.1 111.0C514.3 110.6 514.7 110.3 514.5 110.0C514.3 109.7 513.7 109.2 513.1 109.1C512.4 109.1 511.4 109.2 510.8 109.5C510.2 109.8 509.6 110.4 509.4 111.0C509.2 111.6 509.3 112.4 509.6 112.9C509.9 113.5 510.8 114.2 511.3 114.2C511.9 114.2 512.3 113.5 512.8 113.0C513.2 112.6 513.5 112.0 513.8 111.6C514.1 111.1 514.4 110.7 514.4 110.3C514.4 110.0 514.4 109.6 513.9 109.4C513.5 109.2 512.8 108.9 511.6 109.2C510.5 109.5 508.0 110.6 507.3 111.3C506.5 112.0 507.6 112.8 507.4 113.3C507.1 113.9 506.3 114.7 505.8 114.7C505.2 114.8 504.6 114.1 504.1 113.6C503.6 113.2 503.1 112.7 502.8 112.2C502.5 111.8 502.2 111.3 502.1 110.9C502.0 110.6 501.7 110.4 502.1 110.1C502.6 109.9 503.8 109.6 504.6 109.7C505.4 109.8 506.3 110.2 506.8 110.7C507.3 111.2 507.6 112.0 507.6 112.7C507.5 113.3 506.9 114.3 506.4 114.5C505.9 114.7 505.2 114.4 504.6 114.1C504.1 113.7 503.6 113.1 503.2 112.7C502.8 112.2 500.5 112.8 502.3 111.3C504.0 109.9 511.9 105.4 513.5 104.0C515.0 102.7 512.0 103.6 511.5 103.3C511.0 102.9 510.6 102.3 510.5 101.8C510.4 101.3 510.6 100.5 510.9 100.2C511.2 99.9 511.7 99.7 512.1 99.7C512.5 99.8 512.8 100.4 513.1 100.8C513.4 101.1 513.6 101.6 513.9 101.9C514.1 102.3 514.2 102.7 514.4 103.0C514.5 103.3 514.6 103.6 514.6 103.8C514.7 104.0 514.9 104.1 514.7 104.1C514.5 104.2 513.9 104.2 513.4 104.0C512.9 103.8 511.9 103.6 511.4 103.2C511.0 102.8 510.6 102.3 510.5 101.8C510.4 101.2 510.8 100.4 510.9 100.2" fill="none" stroke="#bdbdbd" stroke-width="1.5" stroke-linejoin="round" stroke-linecap="round"/>
<path d="M378.6 117.1C378.9 116.9 379.9 116.2 380.5 116.3C381.1 116.3 382.2 116.8 382.3 117.2C382.5 117.5 382.0 118.0 381.6 118.4C381.3 118.8 380.8 119.3 380.3 119.6C379.9 119.9 379.4 120.2 379.0 120.4C378.7 120.6 378.3 120.9 378.1 120.8C377.9 120.7 377.7 120.5 377.7 120.0C377.7 119.5 377.8 118.3 378.1 117.7C378.5 117.1 379.2 116.5 379.8 116.4C380.4 116.2 381.4 116.4 381.8 116.7C382.1 116.9 382.1 117.6 382.0 118.0C381.8 118.4 381.2 118.9 380.8 119.2C380.4 119.6 381.5 120.5 379.5 120.2C377.4 119.8 370.4 117.6 368.3 117.1C366.3 116.6 367.2 116.9 366.9 117.0C366.6 117.1 366.5 117.3 366.5 117.6C366.6 117.8 366.9 118.1 367.1 118.3C367.3 118.6 367.6 118.9 367.9 119.1C368.2 119.4 368.5 119.6 368.8 119.8C369.0 120.0 369.3 120.1 369.4 120.2C369.6 120.3 369.6 120.5 369.7 120.3C369.7 120.2 369.9 119.6 369.8 119.2C369.8 118.8 369.6 118.2 369.3 117.8C369.0 117.4 368.5 117.1 368.1 117.0C367.7 116.9 366.9 117.0 366.7 117.1C366.4 117.2 366.5 117.5 366.6 117.7C366.7 117.9 366.5 120.1 367.2 118.5C367.9 116.9 370.2 109.7 370.8 107.9C371.5 106.2 370.9 107.9 370.9 108.2C370.9 108.4 370.9 109.1 370.7 109.5C370.5 109.9 370.2 110.3 369.8 110.6C369.4 110.9 368.8 111.1 368.3 111.1C367.8 111.2 367.0 111.0 366.8 110.9C366.5 110.8 366.8 110.8 366.9 110.7C367.0 110.5 367.2 110.3 367.4 110.1C367.6 109.9 367.9 109.7 368.1 109.5C368.4 109.3 368.7 109.0 369.0 108.9C369.2 108.7 369.6 108.5 369.8 108.4C370.1 108.2 370.4 108.1 370.6 108.1C370.7 108.0 370.9 107.8 370.9 107.9C371.0 108.0 370.8 108.3 370.9 108.7C371.1 109.0 371.3 110.0 371.6 109.9C371.9 109.9 372.1 108.7 372.6 108.3C373.0 108.0 373.8 107.9 374.3 108.0C374.8 108.1 375.5 108.6 375.8 109.1C376.0 109.6 376.2 110.4 376.0 111.0C375.9 111.6 375.4 112.2 375.0 112.5C374.5 112.8 373.7 112.9 373.2 112.8C372.7 112.6 372.1 112.1 371.9 111.6C371.6 111.0 371.5 110.2 371.7 109.7C371.8 109.1 372.3 108.5 372.8 108.2C373.3 107.9 374.1 107.9 374.6 108.1C375.1 108.3 375.7 108.8 375.9 109.4C376.1 109.9 376.1 110.7 375.9 111.3C375.8 111.8 373.9 111.7 374.7 112.7C375.5 113.6 379.4 116.5 380.7 117.0C382.1 117.6 382.4 116.5 382.9 116.0C383.3 115.5 383.2 114.5 383.2 113.8C383.1 113.0 382.9 112.1 382.5 111.6C382.1 111.1 381.3 110.6 380.6 110.5C380.0 110.5 379.0 110.9 378.4 111.4C377.9 111.9 377.5 112.8 377.4 113.6C377.4 114.3 377.7 115.3 378.2 115.9C378.7 116.5 379.6 116.9 380.3 117.0C381.0 117.1 382.0 116.8 382.5 116.3C383.0 115.8 383.2 114.9 383.2 114.2C383.2 113.5 383.0 112.6 382.7 112.0C382.3 111.4 381.7 110.7 381.1 110.6C380.5 110.4 381.1 110.8 378.8 111.1C376.5 111.3 369.3 111.7 367.1 112.0C364.9 112.4 366.0 112.7 365.7 113.1C365.5 113.6 365.5 114.2 365.6 114.6C365.7 115.1 366.0 115.6 366.6 115.9C367.1 116.2 368.1 116.3 368.8 116.3C369.5 116.3 370.4 116.0 371.0 115.7C371.5 115.4 371.9 114.8 372.0 114.4C372.2 113.9 372.0 113.3 371.6 112.9C371.2 112.5 370.4 112.1 369.8 111.9C369.1 111.8 368.1 111.8 367.4 112.0C366.7 112.1 366.1 112.5 365.8 113.0C365.5 113.4 365.5 114.0 365.6 114.4C365.7 114.9 365.8 115.4 366.3 115.7C366.8 116.1 366.7 115.4 368.5 116.3C370.3 117.2 375.7 120.4 377.3 121.1C379.0 121.7 378.4 120.5 378.5 120.0C378.6 119.5 378.3 118.7 377.9 118.2C377.5 117.7 376.8 117.3 376.2 117.1C375.5 116.9 374.7 116.9 374.0 117.1C373.4 117.3 372.7 117.8 372.3 118.3C372.0 118.8 371.8 119.6 371.9 120.1C372.0 120.6 372.5 121.1 372.9 121.4C373.4 121.6 374.1 121.5 374.8 121.4C375.4 121.4 376.1 121.3 376.6 121.2C377.2 121.1 378.0 121.1 378.3 120.7C378.6 120.3 378.5 119.4 378.3 118.8C378.1 118.3 377.5 117.7 376.9 117.4C376.4 117.1 375.6 117.6 374.8 117.0C374.0 116.3 372.6 113.9 372.1 113.5C371.5 113.2 371.6 114.5 371.6 115.0C371.5 115.5 371.6 116.1 371.8 116.6C372.0 117.0 372.3 117.5 372.7 117.7C373.0 118.0 373.5 118.2 374.0 118.2C374.4 118.2 374.9 118.0 375.2 117.7C375.6 117.4 375.9 117.0 376.1 116.5C376.3 116.0 376.3 115.4 376.3 114.9C376.2 114.4 376.0 113.9 375.8 113.5C375.5 113.1 375.1 112.7 374.7 112.6C374.3 112.4 373.8 112.4 373.4 112.5C373.0 112.6 372.5 112.9 372.2 113.3C371.9 113.7 371.7 114.2 371.6 114.7C371.5 115.2 371.7 116.0 371.7 116.3" fill="none" stroke="#bdbdbd" stroke-width="1.5" stroke-linejoin="round" stroke-linecap="round"/>
<path d="M605.9 118.5C606.2 118.3 607.2 117.6 607.8 117.7C608.4 117.7 609.5 118.2 609.6 118.6C609.8 118.9 609.3 119.4 608.9 119.8C608.6 120.2 608.1 120.7 607.6 121.0C607.2 121.3 606.7 121.6 606.3 121.8C606.0 122.0 605.6 122.3 605.4 122.2C605.2 122.1 605.0 121.9 605.0 121.4C605.0 120.9 605.1 119.7 605.4 119.1C605.8 118.5 606.5 117.9 607.1 117.8C607.7 117.6 608.7 117.8 609.1 118.1C609.4 118.3 609.4 119.0 609.3 119.4C609.1 119.8 608.5 120.3 608.1 120.6C607.7 121.0 608.8 121.9 606.8 121.6C604.7 121.2 597.7 119.0 595.6 118.5C593.6 118.0 594.5 118.3 594.2 118.4C593.9 118.5 593.8 118.7 593.8 119.0C593.9 119.2 594.2 119.5 594.4 119.7C594.6 120.0 594.9 120.3 595.2 120.5C595.5 120.8 595.8 121.0 596.1 121.2C596.3 121.4 596.6 121.5 596.7 121.6C596.9 121.7 596.9 121.9 597.0 121.7C597.0 121.6 597.2 121.0 597.1 120.6C597.1 120.2 596.9 119.6 596.6 119.2C596.3 118.8 595.8 118.5 595.4 118.4C595.0 118.3 594.2 118.4 594.0 118.5C593.7 118.6 593.8 118.9 593.9 119.1C594.0 119.3 593.8 121.5 594.5 119.9C595.2 118.3 597.5 111.1 598.1 109.3C598.8 107.6 598.2 109.3 598.2 109.6C598.2 109.8 598.2 110.5 598.0 110.9C597.8 111.3 597.5 111.7 597.1 112.0C596.7 112.3 596.1 112.5 595.6 112.5C595.1 112.6 594.3 112.4 594.1 112.3C593.8 112.2 594.1 112.2 594.2 112.1C594.3 111.9 594.5 111.7 594.7 111.5C594.9 111.3 595.2 111.1 595.4 110.9C595.7 110.7 596.0 110.4 596.3 110.3C596.5 110.1 596.9 109.9 597.1 109.8C597.4 109.6 597.7 109.5 597.9 109.5C598.0 109.4 598.2 109.2 598.2 109.3C598.3 109.4 598.1 109.7 598.2 110.1C598.4 110.4 598.6 111.4 598.9 111.3C599.2 111.3 599.4 110.1 599.9 109.7C600.3 109.4 601.1 109.3 601.6 109.4C602.1 109.5 602.8 110.0 603.1 110.5C603.3 111.0 603.5 111.8 603.3 112.4C603.2 113.0 602.7 113.6 602.3 113.9C601.8 114.2 601.0 114.3 600.5 114.2C600.0 114.0 599.4 113.5 599.2 113.0C598.9 112.4 598.8 111.6 599.0 111.1C599.1 110.5 599.6 109.9 600.1 109.6C600.6 109.3 601.4 109.3 601.9 109.5C602.4 109.7 603.0 110.2 603.2 110.8C603.4 111.3 603.4 112.1 603.2 112.7C603.1 113.2 601.2 113.1 602.0 114.1C602.8 115.0 606.7 117.9 608.0 118.4C609.4 119.0 609.7 117.9 610.2 117.4C610.6 116.9 610.5 115.9 610.5 115.2C610.4 114.4 610.2 113.5 609.8 113.0C609.4 112.5 608.6 112.0 607.9 111.9C607.3 111.9 606.3 112.3 605.7 112.8C605.2 113.3 604.8 114.2 604.7 115.0C604.7 115.7 605.0 116.7 605.5 117.3C606.0 117.9 606.9 118.3 607.6 118.4C608.3 118.5 609.3 118.2 609.8 117.7C610.3 117.2 610.5 116.3 610.5 115.6C610.5 114.9 610.3 114.0 610.0 113.4C609.6 112.8 609.0 112.1 608.4 112.0C607.8 111.8 608.4 112.2 606.1 112.5C603.8 112.7 596.6 113.1 594.4 113.4C592.2 113.8 593.3 114.1 593.0 114.5C592.8 115.0 592.8 115.6 592.9 116.0C593.0 116.5 593.3 117.0 593.9 117.3C594.4 117.6 595.4 117.7 596.1 117.7C596.8 117.7 597.7 117.4 598.3 117.1C598.8 116.8 599.2 116.2 599.3 115.8C599.5 115.3 599.3 114.7 598.9 114.3C598.5 113.9 597.7 113.5 597.1 113.3C596.4 113.2 595.4 113.2 594.7 113.4C594.0 113.5 593.4 113.9 593.1 114.4C592.8 114.8 592.8 115.4 592.9 115.8C593.0 116.3 593.1 116.8 593.6 117.1C594.1 117.5 594.0 116.8 595.8 117.7C597.6 118.6 603.0 121.8 604.6 122.5C606.3 123.1 605.7 121.9 605.8 121.4C605.9 120.9 605.6 120.1 605.2 119.6C604.8 119.1 604.1 118.7 603.5 118.5C602.8 118.3 602.0 118.3 601.3 118.5C600.7 118.7 600.0 119.2 599.6 119.7C599.3 120.2 599.1 121.0 599.2 121.5C599.3 122.0 599.8 122.5 600.2 122.8C600.7 123.0 601.4 122.9 602.1 122.8C602.7 122.8 603.4 122.7 603.9 122.6C604.5 122.5 605.3 122.5 605.6 122.1C605.9 121.7 605.8 120.8 605.6 120.2C605.4 119.7 604.8 119.1 604.2 118.8C603.7 118.5 602.9 119.0 602.1 118.4C601.3 117.7 599.9 115.3 599.4 114.9C598.8 114.6 598.9 115.9 598.9 116.4C598.8 116.9 598.9 117.5 599.1 118.0C599.3 118.4 599.6 118.9 600.0 119.1C600.3 119.4 600.8 119.6 601.3 119.6C601.7 119.6 602.2 119.4 602.5 119.1C602.9 118.8 603.2 118.4 603.4 117.9C603.6 117.4 603.6 116.8 603.6 116.3C603.5 115.8 603.3 115.3 603.1 114.9C602.8 114.5 602.4 114.1 602.0 114.0C601.6 113.8 601.1 113.8 600.7 113.9C600.3 114.0 599.8 114.3 599.5 114.7C599.2 115.1 599.0 115.6 598.9 116.1C598.8 116.6 599.0 117.4 599.0 117.7" fill="none" stroke="#bdbdbd" stroke-width="1.5" stroke-linejoin="round" stroke-linecap="round"/>
<path d="M302.5 146.1C302.8 146.1 303.6 146.2 304.1 146.2C304.7 146.2 305.3 146.1 305.8 146.0C306.3 145.9 306.9 145.8 307.2 145.5C307.5 145.3 307.7 144.8 307.7 144.4C307.6 144.0 307.4 143.5 307.1 143.2C306.7 142.9 306.2 142.6 305.6 142.5C305.1 142.3 304.4 142.3 303.8 142.3C303.3 142.4 302.6 142.7 302.2 142.9C301.8 143.2 301.5 143.6 301.3 144.0C301.2 144.4 301.3 145.0 301.5 145.3C301.7 145.6 302.1 146.0 302.6 146.1C303.0 146.3 303.6 146.2 304.2 146.2C304.7 146.2 306.9 146.8 305.8 146.0C304.8 145.1 298.7 142.2 297.7 141.3C296.6 140.5 299.1 141.4 299.6 141.0C300.1 140.6 300.6 139.8 300.8 139.0C301.0 138.2 300.9 137.1 300.6 136.4C300.4 135.7 299.7 134.9 299.2 134.7C298.6 134.4 297.8 134.5 297.2 134.8C296.7 135.2 296.1 136.0 295.9 136.7C295.7 137.5 295.7 138.6 296.0 139.4C296.2 140.1 296.8 140.9 297.4 141.2C297.9 141.5 298.7 141.5 299.3 141.2C299.9 140.9 300.5 140.1 300.7 139.4C300.9 138.7 301.0 137.5 300.8 136.8C300.6 136.0 300.0 135.2 299.5 134.8C298.9 134.5 297.7 135.1 297.6 134.6C297.4 134.2 298.5 132.8 298.8 132.4C299.2 131.9 299.5 132.0 299.8 131.9C300.0 131.7 300.2 131.5 300.3 131.6C300.5 131.7 300.5 131.9 300.5 132.4C300.4 132.9 300.3 133.8 300.0 134.4C299.7 134.9 299.2 135.5 298.6 135.8C298.1 136.1 297.2 136.2 296.7 136.2C296.2 136.2 295.9 136.0 295.8 135.8C295.7 135.6 296.0 135.4 296.2 135.1C296.3 134.8 296.6 134.4 296.8 134.1C297.1 133.8 297.4 133.5 297.7 133.2C298.1 132.9 298.4 132.6 298.7 132.4C299.1 132.2 299.4 132.0 299.7 131.9C299.9 131.8 300.0 130.6 300.3 131.6C300.7 132.6 301.6 136.4 301.8 137.8C302.0 139.2 301.2 139.4 301.4 140.1C301.5 140.8 302.2 141.6 302.9 142.0C303.5 142.4 304.6 142.6 305.4 142.5C306.2 142.4 307.2 141.8 307.7 141.3C308.1 140.7 308.4 139.7 308.3 139.0C308.2 138.3 307.6 137.4 306.9 137.0C306.3 136.6 305.2 136.3 304.4 136.4C303.6 136.5 302.6 136.9 302.1 137.5C301.6 138.1 301.2 139.0 301.3 139.7C301.4 140.4 301.9 141.3 302.5 141.8C303.1 142.3 304.2 142.6 305.0 142.6C305.8 142.5 306.8 142.1 307.4 141.6C307.9 141.0 309.3 140.8 308.3 139.4C307.3 138.0 302.6 134.4 301.5 133.0C300.3 131.7 301.2 131.6 301.5 131.3C301.7 130.9 302.5 131.0 303.1 131.0C303.7 131.0 304.5 131.0 305.1 131.1C305.8 131.2 306.5 131.4 307.0 131.6C307.5 131.8 308.0 132.0 308.0 132.4C308.0 132.8 307.5 133.6 307.0 134.0C306.4 134.4 305.5 134.7 304.8 134.7C304.0 134.7 303.1 134.5 302.5 134.1C301.9 133.8 301.4 133.1 301.3 132.6C301.2 132.1 301.4 131.4 301.8 131.2C302.2 130.9 303.0 131.0 303.6 131.0C304.3 131.0 305.0 131.1 305.7 131.2C306.3 131.3 306.9 131.6 307.4 131.7C307.8 131.9 308.1 132.1 308.5 132.3C308.8 132.5 309.3 132.8 309.6 133.1C309.9 133.4 310.3 133.8 310.5 134.1C310.8 134.4 311.0 134.7 311.1 134.9C311.2 135.1 311.5 135.2 311.3 135.2C311.1 135.2 310.4 135.3 309.8 135.1C309.2 135.0 308.3 134.7 307.8 134.3C307.3 134.0 307.0 133.3 306.9 132.8C306.9 132.4 307.2 131.9 307.4 131.8C307.6 131.7 308.0 132.0 308.3 132.2C308.7 132.4 309.1 132.7 309.5 133.0C309.8 133.3 310.2 133.6 310.4 133.9C310.7 134.2 310.9 134.6 311.0 134.8C311.2 135.0 311.3 134.2 311.3 135.2C311.3 136.2 311.6 139.9 311.3 140.8C311.0 141.7 309.9 140.9 309.4 140.6C308.9 140.3 308.4 139.7 308.1 139.1C307.9 138.5 307.8 137.6 308.0 137.0C308.2 136.3 308.6 135.6 309.1 135.3C309.6 134.9 310.5 134.7 311.0 134.9C311.4 135.0 311.6 135.6 311.8 136.2C312.0 136.7 312.1 137.4 312.2 138.0C312.2 138.6 312.3 139.4 312.1 139.9C311.8 140.4 311.3 140.8 310.8 140.9C310.2 140.9 309.4 140.7 309.0 140.3C308.5 139.9 308.1 139.2 308.0 138.5C307.8 137.9 307.9 137.0 308.2 136.4C308.5 135.8 311.5 133.9 309.6 135.0C307.7 136.1 299.1 141.9 296.9 143.1C294.6 144.3 296.3 142.6 296.3 142.3C296.3 142.1 296.4 141.7 296.8 141.5C297.2 141.4 297.9 141.2 298.4 141.2C298.9 141.2 299.5 141.4 299.9 141.7C300.3 142.0 300.7 142.5 300.9 142.9C301.0 143.3 301.0 143.9 300.9 144.3C300.7 144.7 300.3 145.3 300.0 145.4C299.7 145.5 299.4 145.2 299.1 145.0C298.8 144.8 298.4 144.6 298.1 144.3C297.8 144.1 297.5 143.8 297.2 143.5C296.9 143.2 296.7 142.9 296.5 142.6C296.3 142.4 296.0 142.2 296.2 141.9C296.4 141.7 297.4 141.4 297.7 141.2" fill="none" stroke="#bdbdbd" stroke-width="1.5" stroke-linejoin="round" stroke-linecap="round"/>
<path d="M529.8 147.5C530.1 147.5 530.9 147.6 531.4 147.6C532.0 147.6 532.6 147.5 533.1 147.4C533.6 147.3 534.2 147.2 534.5 146.9C534.8 146.7 535.0 146.2 535.0 145.8C534.9 145.4 534.7 144.9 534.4 144.6C534.0 144.3 533.5 144.0 532.9 143.9C532.4 143.7 531.7 143.7 531.1 143.7C530.6 143.8 529.9 144.1 529.5 144.3C529.1 144.6 528.8 145.0 528.6 145.4C528.5 145.8 528.6 146.4 528.8 146.7C529.0 147.0 529.4 147.4 529.9 147.5C530.3 147.7 530.9 147.6 531.5 147.6C532.0 147.6 534.2 148.2 533.1 147.4C532.1 146.5 526.0 143.6 525.0 142.7C523.9 141.9 526.4 142.8 526.9 142.4C527.4 142.0 527.9 141.2 528.1 140.4C528.3 139.6 528.2 138.5 527.9 137.8C527.7 137.1 527.0 136.3 526.5 136.1C525.9 135.8 525.1 135.9 524.5 136.2C524.0 136.6 523.4 137.4 523.2 138.1C523.0 138.9 523.0 140.0 523.3 140.8C523.5 141.5 524.1 142.3 524.7 142.6C525.2 142.9 526.0 142.9 526.6 142.6C527.2 142.3 527.8 141.5 528.0 140.8C528.2 140.1 528.3 138.9 528.1 138.2C527.9 137.4 527.3 136.6 526.8 136.2C526.2 135.9 525.0 136.5 524.9 136.0C524.7 135.6 525.8 134.2 526.1 133.8C526.5 133.3 526.8 133.4 527.1 133.3C527.3 133.1 527.5 132.9 527.6 133.0C527.8 133.1 527.8 133.3 527.8 133.8C527.7 134.3 527.6 135.2 527.3 135.8C527.0 136.3 526.5 136.9 525.9 137.2C525.4 137.5 524.5 137.6 524.0 137.6C523.5 137.6 523.2 137.4 523.1 137.2C523.0 137.0 523.3 136.8 523.5 136.5C523.6 136.2 523.9 135.8 524.1 135.5C524.4 135.2 524.7 134.9 525.0 134.6C525.4 134.3 525.7 134.0 526.0 133.8C526.4 133.6 526.7 133.4 527.0 133.3C527.2 133.2 527.3 132.0 527.6 133.0C528.0 134.0 528.9 137.8 529.1 139.2C529.3 140.6 528.5 140.8 528.7 141.5C528.8 142.2 529.5 143.0 530.2 143.4C530.8 143.8 531.9 144.0 532.7 143.9C533.5 143.8 534.5 143.2 535.0 142.7C535.4 142.1 535.7 141.1 535.6 140.4C535.5 139.7 534.9 138.8 534.2 138.4C533.6 138.0 532.5 137.7 531.7 137.8C530.9 137.9 529.9 138.3 529.4 138.9C528.9 139.5 528.5 140.4 528.6 141.1C528.7 141.8 529.2 142.7 529.8 143.2C530.4 143.7 531.5 144.0 532.3 144.0C533.1 143.9 534.1 143.5 534.7 143.0C535.2 142.4 536.6 142.2 535.6 140.8C534.6 139.4 529.9 135.8 528.8 134.4C527.6 133.1 528.5 133.0 528.8 132.7C529.0 132.3 529.8 132.4 530.4 132.4C531.0 132.4 531.8 132.4 532.4 132.5C533.1 132.6 533.8 132.8 534.3 133.0C534.8 133.2 535.3 133.4 535.3 133.8C535.3 134.2 534.8 135.0 534.3 135.4C533.7 135.8 532.8 136.1 532.1 136.1C531.3 136.1 530.4 135.9 529.8 135.5C529.2 135.2 528.7 134.5 528.6 134.0C528.5 133.5 528.7 132.8 529.1 132.6C529.5 132.3 530.3 132.4 530.9 132.4C531.6 132.4 532.3 132.5 533.0 132.6C533.6 132.7 534.2 133.0 534.7 133.1C535.1 133.3 535.4 133.5 535.8 133.7C536.1 133.9 536.6 134.2 536.9 134.5C537.2 134.8 537.6 135.2 537.8 135.5C538.1 135.8 538.3 136.1 538.4 136.3C538.5 136.5 538.8 136.6 538.6 136.6C538.4 136.6 537.7 136.7 537.1 136.5C536.5 136.4 535.6 136.1 535.1 135.7C534.6 135.4 534.3 134.7 534.2 134.2C534.2 133.8 534.5 133.3 534.7 133.2C534.9 133.1 535.3 133.4 535.6 133.6C536.0 133.8 536.4 134.1 536.8 134.4C537.1 134.7 537.5 135.0 537.7 135.3C538.0 135.6 538.2 136.0 538.3 136.2C538.5 136.4 538.6 135.6 538.6 136.6C538.6 137.6 538.9 141.3 538.6 142.2C538.3 143.1 537.2 142.3 536.7 142.0C536.2 141.7 535.7 141.1 535.4 140.5C535.2 139.9 535.1 139.0 535.3 138.4C535.5 137.7 535.9 137.0 536.4 136.7C536.9 136.3 537.8 136.1 538.3 136.3C538.7 136.4 538.9 137.0 539.1 137.6C539.3 138.1 539.4 138.8 539.5 139.4C539.5 140.0 539.6 140.8 539.4 141.3C539.1 141.8 538.6 142.2 538.1 142.3C537.5 142.3 536.7 142.1 536.3 141.7C535.8 141.3 535.4 140.6 535.3 139.9C535.1 139.3 535.2 138.4 535.5 137.8C535.8 137.2 538.8 135.3 536.9 136.4C535.0 137.5 526.4 143.3 524.2 144.5C521.9 145.7 523.6 144.0 523.6 143.7C523.6 143.5 523.7 143.1 524.1 142.9C524.5 142.8 525.2 142.6 525.7 142.6C526.2 142.6 526.8 142.8 527.2 143.1C527.6 143.4 528.0 143.9 528.2 144.3C528.3 144.7 528.3 145.3 528.2 145.7C528.0 146.1 527.6 146.7 527.3 146.8C527.0 146.9 526.7 146.6 526.4 146.4C526.1 146.2 525.7 146.0 525.4 145.7C525.1 145.5 524.8 145.2 524.5 144.9C524.2 144.6 524.0 144.3 523.8 144.0C523.6 143.8 523.3 143.6 523.5 143.3C523.7 143.1 524.7 142.8 525.0 142.6" fill="none" stroke="#bdbdbd" stroke-width="1.5" stroke-linejoin="round" stroke-linecap="round"/>
<path d="M358.0 150.8C358.2 150.7 359.0 150.4 359.4 150.1C359.9 149.8 360.3 149.4 360.7 149.0C361.1 148.6 361.6 148.2 361.6 147.7C361.6 147.3 361.2 146.6 360.7 146.4C360.2 146.1 359.1 146.0 358.5 146.3C357.8 146.5 357.1 147.1 356.8 147.8C356.4 148.4 356.4 149.5 356.5 150.1C356.6 150.6 357.1 150.9 357.5 151.0C357.9 151.0 358.4 150.7 358.9 150.4C359.3 150.2 359.9 149.8 360.3 149.5C360.7 149.1 361.2 148.6 361.3 148.2C361.5 147.8 361.7 147.2 361.4 146.8C361.0 146.5 360.7 147.1 359.3 146.1C357.9 145.0 353.8 141.1 352.9 140.5C351.9 139.9 353.3 142.0 353.8 142.5C354.2 142.9 354.9 143.2 355.4 143.1C356.0 143.0 356.7 142.6 357.0 142.0C357.4 141.5 357.6 140.5 357.6 139.8C357.6 139.2 357.2 138.5 356.8 138.2C356.4 138.0 355.8 138.1 355.3 138.2C354.8 138.2 354.2 138.1 353.8 138.4C353.4 138.6 352.9 139.1 352.8 139.7C352.8 140.3 353.0 141.4 353.3 141.9C353.7 142.5 354.3 143.0 354.9 143.1C355.4 143.2 356.1 143.0 356.6 142.6C357.0 142.1 357.4 141.3 357.5 140.6C357.7 139.9 356.9 138.6 357.2 138.3C357.5 138.1 359.1 139.2 359.4 139.3C359.7 139.4 358.9 139.0 358.8 138.9C358.6 138.8 358.6 138.7 358.6 138.8C358.5 139.0 358.6 139.3 358.7 139.8C358.8 140.3 358.9 141.1 359.2 141.6C359.5 142.1 359.9 142.6 360.4 142.8C360.8 143.0 361.6 143.0 361.8 142.9C362.1 142.9 362.0 142.7 362.0 142.4C361.9 142.2 361.7 141.8 361.5 141.5C361.4 141.2 361.1 140.9 360.9 140.6C360.6 140.3 360.3 140.0 360.1 139.8C359.8 139.6 359.5 139.4 359.3 139.2C359.1 139.1 358.9 139.0 358.7 138.9C358.6 138.8 359.4 137.8 358.6 138.8C357.8 139.9 354.5 144.2 354.0 145.2C353.6 146.3 355.3 144.9 355.8 145.1C356.3 145.3 356.9 145.7 357.3 146.2C357.6 146.7 357.9 147.4 358.0 148.0C358.0 148.7 357.9 149.5 357.6 150.0C357.3 150.5 356.8 151.0 356.3 151.2C355.8 151.4 355.2 151.3 354.7 151.2C354.2 151.1 353.5 151.1 353.1 150.8C352.7 150.4 352.3 149.7 352.2 149.1C352.1 148.5 352.1 147.7 352.3 147.1C352.5 146.5 353.0 145.9 353.4 145.5C353.9 145.2 354.6 145.0 355.1 145.0C355.7 145.0 356.3 145.3 356.8 145.7C357.2 146.0 358.0 146.9 357.8 147.3C357.7 147.7 355.8 147.9 355.8 148.1C355.8 148.2 357.2 148.3 357.7 148.0C358.2 147.7 358.8 146.9 359.0 146.2C359.2 145.5 359.2 144.5 359.0 143.8C358.7 143.1 358.2 142.3 357.7 142.0C357.1 141.7 356.3 141.7 355.8 142.0C355.3 142.2 354.7 142.9 354.4 143.6C354.2 144.3 354.2 145.4 354.4 146.1C354.5 146.8 355.1 147.6 355.6 147.9C356.1 148.3 356.9 148.3 357.4 148.1C358.0 147.9 358.6 147.2 358.9 146.5C359.1 145.9 359.2 144.8 359.0 144.1C358.9 143.4 358.4 142.5 357.9 142.2C357.4 141.8 357.1 141.0 356.1 141.9C355.1 142.7 352.5 146.3 351.9 147.4C351.3 148.6 352.4 148.6 352.4 149.0C352.4 149.5 352.1 150.1 352.0 150.2C351.8 150.4 351.7 150.1 351.5 149.9C351.3 149.8 351.0 149.5 350.7 149.3C350.5 149.0 350.2 148.7 350.0 148.4C349.8 148.1 349.6 147.8 349.5 147.5C349.3 147.2 349.2 146.9 349.1 146.7C349.0 146.5 348.8 146.3 349.0 146.3C349.2 146.2 350.0 146.2 350.5 146.4C351.0 146.6 351.6 147.0 351.9 147.4C352.2 147.9 352.4 148.5 352.4 149.0C352.4 149.5 352.1 150.1 352.0 150.2C351.8 150.4 352.0 150.8 351.5 149.9C351.0 149.1 349.2 145.8 348.8 145.2C348.4 144.7 348.9 146.1 349.1 146.5C349.2 146.8 349.4 147.3 349.9 147.4C350.4 147.4 351.3 147.2 351.9 146.9C352.4 146.6 352.9 146.1 353.0 145.6C353.2 145.1 353.2 144.4 352.9 144.0C352.7 143.5 352.1 143.0 351.6 142.8C351.0 142.5 350.0 142.4 349.5 142.5C349.1 142.6 349.1 143.1 348.9 143.4C348.8 143.8 348.8 144.3 348.8 144.7C348.8 145.1 348.8 145.5 348.9 145.9C349.0 146.3 348.9 146.9 349.3 147.1C349.6 147.3 350.5 147.4 351.0 147.2C351.6 147.1 351.6 146.2 352.7 146.2C353.7 146.2 356.9 147.3 357.6 147.2C358.3 147.0 356.9 145.9 356.9 145.3C356.8 144.7 357.0 143.9 357.4 143.4C357.7 142.8 358.3 142.3 358.9 142.1C359.5 141.8 360.4 141.7 361.0 141.8C361.5 142.0 361.9 142.5 362.2 142.9C362.4 143.4 362.4 144.0 362.4 144.6C362.4 145.1 362.3 145.7 362.2 146.2C362.1 146.8 362.0 147.4 361.6 147.8C361.2 148.1 360.6 148.5 360.0 148.4C359.5 148.4 358.6 148.1 358.1 147.7C357.6 147.3 357.2 146.7 357.0 146.0C356.8 145.4 356.8 144.7 357.0 144.1C357.2 143.4 358.0 142.7 358.2 142.4" fill="none" stroke="#bdbdbd" stroke-width="1.5" stroke-linejoin="round" stroke-linecap="round"/>
<path d="M585.3 152.2C585.5 152.1 586.3 151.8 586.7 151.5C587.2 151.2 587.6 150.8 588.0 150.4C588.4 150.0 588.9 149.6 588.9 149.1C588.9 148.7 588.5 148.0 588.0 147.8C587.5 147.5 586.4 147.4 585.8 147.7C585.1 147.9 584.4 148.5 584.1 149.2C583.7 149.8 583.7 150.9 583.8 151.5C583.9 152.0 584.4 152.3 584.8 152.4C585.2 152.4 585.7 152.1 586.2 151.8C586.6 151.6 587.2 151.2 587.6 150.9C588.0 150.5 588.5 150.0 588.6 149.6C588.8 149.2 589.0 148.6 588.7 148.2C588.3 147.9 588.0 148.5 586.6 147.5C585.2 146.4 581.1 142.5 580.2 141.9C579.2 141.3 580.6 143.4 581.1 143.9C581.5 144.3 582.2 144.6 582.7 144.5C583.3 144.4 584.0 144.0 584.3 143.4C584.7 142.9 584.9 141.9 584.9 141.2C584.9 140.6 584.5 139.9 584.1 139.6C583.7 139.4 583.1 139.5 582.6 139.6C582.1 139.6 581.5 139.5 581.1 139.8C580.7 140.0 580.2 140.5 580.1 141.1C580.1 141.7 580.3 142.8 580.6 143.3C581.0 143.9 581.6 144.4 582.2 144.5C582.7 144.6 583.4 144.4 583.9 144.0C584.3 143.5 584.7 142.7 584.8 142.0C585.0 141.3 584.2 140.0 584.5 139.7C584.8 139.5 586.4 140.6 586.7 140.7C587.0 140.8 586.2 140.4 586.1 140.3C585.9 140.2 585.9 140.1 585.9 140.2C585.8 140.4 585.9 140.7 586.0 141.2C586.1 141.7 586.2 142.5 586.5 143.0C586.8 143.5 587.2 144.0 587.7 144.2C588.1 144.4 588.9 144.4 589.1 144.3C589.4 144.3 589.3 144.1 589.3 143.8C589.2 143.6 589.0 143.2 588.8 142.9C588.7 142.6 588.4 142.3 588.2 142.0C587.9 141.7 587.6 141.4 587.4 141.2C587.1 141.0 586.8 140.8 586.6 140.6C586.4 140.5 586.2 140.4 586.0 140.3C585.9 140.2 586.7 139.2 585.9 140.2C585.1 141.3 581.8 145.6 581.3 146.6C580.9 147.7 582.6 146.3 583.1 146.5C583.6 146.7 584.2 147.1 584.6 147.6C584.9 148.1 585.2 148.8 585.3 149.4C585.3 150.1 585.2 150.9 584.9 151.4C584.6 151.9 584.1 152.4 583.6 152.6C583.1 152.8 582.5 152.7 582.0 152.6C581.5 152.5 580.8 152.5 580.4 152.2C580.0 151.8 579.6 151.1 579.5 150.5C579.4 149.9 579.4 149.1 579.6 148.5C579.8 147.9 580.3 147.3 580.7 146.9C581.2 146.6 581.9 146.4 582.4 146.4C583.0 146.4 583.6 146.7 584.1 147.1C584.5 147.4 585.3 148.3 585.1 148.7C585.0 149.1 583.1 149.3 583.1 149.5C583.1 149.6 584.5 149.7 585.0 149.4C585.5 149.1 586.1 148.3 586.3 147.6C586.5 146.9 586.5 145.9 586.3 145.2C586.0 144.5 585.5 143.7 585.0 143.4C584.4 143.1 583.6 143.1 583.1 143.4C582.6 143.6 582.0 144.3 581.7 145.0C581.5 145.7 581.5 146.8 581.7 147.5C581.8 148.2 582.4 149.0 582.9 149.3C583.4 149.7 584.2 149.7 584.7 149.5C585.3 149.3 585.9 148.6 586.2 147.9C586.4 147.3 586.5 146.2 586.3 145.5C586.2 144.8 585.7 143.9 585.2 143.6C584.7 143.2 584.4 142.4 583.4 143.3C582.4 144.1 579.8 147.7 579.2 148.8C578.6 150.0 579.7 150.0 579.7 150.4C579.7 150.9 579.4 151.5 579.3 151.6C579.1 151.8 579.0 151.5 578.8 151.3C578.6 151.2 578.3 150.9 578.0 150.7C577.8 150.4 577.5 150.1 577.3 149.8C577.1 149.5 576.9 149.2 576.8 148.9C576.6 148.6 576.5 148.3 576.4 148.1C576.3 147.9 576.1 147.7 576.3 147.7C576.5 147.6 577.3 147.6 577.8 147.8C578.3 148.0 578.9 148.4 579.2 148.8C579.5 149.3 579.7 149.9 579.7 150.4C579.7 150.9 579.4 151.5 579.3 151.6C579.1 151.8 579.3 152.2 578.8 151.3C578.3 150.5 576.5 147.2 576.1 146.6C575.7 146.1 576.2 147.5 576.4 147.9C576.5 148.2 576.7 148.7 577.2 148.8C577.7 148.8 578.6 148.6 579.2 148.3C579.7 148.0 580.2 147.5 580.3 147.0C580.5 146.5 580.5 145.8 580.2 145.4C580.0 144.9 579.4 144.4 578.9 144.2C578.3 143.9 577.3 143.8 576.8 143.9C576.4 144.0 576.4 144.5 576.2 144.8C576.1 145.2 576.1 145.7 576.1 146.1C576.1 146.5 576.1 146.9 576.2 147.3C576.3 147.7 576.2 148.3 576.6 148.5C576.9 148.7 577.8 148.8 578.3 148.6C578.9 148.5 578.9 147.6 580.0 147.6C581.0 147.6 584.2 148.7 584.9 148.6C585.6 148.4 584.2 147.3 584.2 146.7C584.1 146.1 584.3 145.3 584.7 144.8C585.0 144.2 585.6 143.7 586.2 143.5C586.8 143.2 587.7 143.1 588.3 143.2C588.8 143.4 589.2 143.9 589.5 144.3C589.7 144.8 589.7 145.4 589.7 146.0C589.7 146.5 589.6 147.1 589.5 147.6C589.4 148.2 589.3 148.8 588.9 149.2C588.5 149.5 587.9 149.9 587.3 149.8C586.8 149.8 585.9 149.5 585.4 149.1C584.9 148.7 584.5 148.1 584.3 147.4C584.1 146.8 584.1 146.1 584.3 145.5C584.5 144.8 585.3 144.1 585.5 143.8" fill="none" stroke="#bdbdbd" stroke-width="1.5" stroke-linejoin="round" stroke-linecap="round"/>
<path d="M311.9 86.8l2-2.5l2 1.5l1.5-1l2 .3l2.5-.5l3 .8l.8 2l-.3 3l1 2.5l-.5 2.2l-2.5 1l-3 .6l-3.5-.2l-3-1.2l-1.5-2.5l.2-3z" fill="#cdcdcd" stroke="#cdcdcd" stroke-width="1" stroke-linejoin="round"/><circle cx="319.3" cy="85.2" r="2.4" fill="none" stroke="#cdcdcd" stroke-width="1.4"/><path d="M324.4 93.8q1.5 2 .8 4.5" fill="none" stroke="#cdcdcd" stroke-width="1.6" stroke-linecap="round"/><rect x="318.6" y="84.8" width="1.3" height="1.1" fill="#555"/><rect x="318.5" y="87.7" width="1.3" height="1.1" fill="#555"/><rect x="313.2" y="91.7" width="1.3" height="1.1" fill="#555"/><rect x="319.7" y="93.0" width="1.3" height="1.1" fill="#555"/><rect x="324.2" y="92.2" width="1.3" height="1.1" fill="#555"/>
<path d="M333.5 86.8l2-2.5l2 1.5l1.5-1l2 .3l2.5-.5l3 .8l.8 2l-.3 3l1 2.5l-.5 2.2l-2.5 1l-3 .6l-3.5-.2l-3-1.2l-1.5-2.5l.2-3z" fill="#cdcdcd" stroke="#cdcdcd" stroke-width="1" stroke-linejoin="round"/><circle cx="340.9" cy="85.2" r="2.4" fill="none" stroke="#cdcdcd" stroke-width="1.4"/><path d="M346.0 93.8q1.5 2 .8 4.5" fill="none" stroke="#cdcdcd" stroke-width="1.6" stroke-linecap="round"/><rect x="340.2" y="84.8" width="1.3" height="1.1" fill="#555"/><rect x="340.1" y="87.7" width="1.3" height="1.1" fill="#555"/><rect x="334.8" y="91.7" width="1.3" height="1.1" fill="#555"/><rect x="341.3" y="93.0" width="1.3" height="1.1" fill="#555"/><rect x="345.8" y="92.2" width="1.3" height="1.1" fill="#555"/>
<path d="M327.0 111.2l2-2.5l2 1.5l1.5-1l2 .3l2.5-.5l3 .8l.8 2l-.3 3l1 2.5l-.5 2.2l-2.5 1l-3 .6l-3.5-.2l-3-1.2l-1.5-2.5l.2-3z" fill="#cdcdcd" stroke="#cdcdcd" stroke-width="1" stroke-linejoin="round"/><circle cx="334.4" cy="109.6" r="2.4" fill="none" stroke="#cdcdcd" stroke-width="1.4"/><path d="M339.5 118.2q1.5 2 .8 4.5" fill="none" stroke="#cdcdcd" stroke-width="1.6" stroke-linecap="round"/><rect x="333.7" y="109.2" width="1.3" height="1.1" fill="#555"/><rect x="333.6" y="112.1" width="1.3" height="1.1" fill="#555"/><rect x="328.3" y="116.1" width="1.3" height="1.1" fill="#555"/><rect x="334.8" y="117.4" width="1.3" height="1.1" fill="#555"/><rect x="339.3" y="116.6" width="1.3" height="1.1" fill="#555"/>
<defs>
<clipPath id="ca"><rect x="42.60" y="175.30" width="153.00" height="145.80"/></clipPath>
<clipPath id="cb"><rect x="258.70" y="173.40" width="155.50" height="147.60"/></clipPath>
<clipPath id="cc"><rect x="481.00" y="171.80" width="156.40" height="149.30"/></clipPath>
<clipPath id="clb"><rect x="259.10" y="384.50" width="153.10" height="145.20"/></clipPath>
<clipPath id="clc"><rect x="480.90" y="386.80" width="152.80" height="145.10"/></clipPath>
</defs>
<g clip-path="url(#ca)">
<path d="M46.60 194.96L49.40 197.76L46.60 200.56L43.80 197.76Z" fill="#009000"/><path d="M47.16 194.96L49.96 197.76L47.16 200.56L44.36 197.76Z" fill="#009000"/><path d="M47.72 194.96L50.52 197.76L47.72 200.56L44.92 197.76Z" fill="#009000"/><path d="M48.28 194.96L51.08 197.76L48.28 200.56L45.48 197.76Z" fill="#009000"/><path d="M48.84 194.96L51.64 197.76L48.84 200.56L46.04 197.76Z" fill="#009000"/><path d="M49.40 194.97L52.20 197.77L49.40 200.57L46.60 197.77Z" fill="#009000"/><path d="M49.96 194.97L52.76 197.77L49.96 200.57L47.16 197.77Z" fill="#009000"/><path d="M50.52 194.97L53.32 197.77L50.52 200.57L47.72 197.77Z" fill="#009000"/><path d="M51.08 194.97L53.88 197.77L51.08 200.57L48.28 197.77Z" fill="#009000"/><path d="M51.64 194.98L54.44 197.78L51.64 200.58L48.84 197.78Z" fill="#009000"/><path d="M52.20 194.98L55.00 197.78L52.20 200.58L49.40 197.78Z" fill="#009000"/><path d="M52.76 194.98L55.56 197.78L52.76 200.58L49.96 197.78Z" fill="#009000"/><path d="M53.32 194.98L56.12 197.78L53.32 200.58L50.52 197.78Z" fill="#009000"/><path d="M53.88 194.99L56.68 197.79L53.88 200.59L51.08 197.79Z" fill="#009000"/><path d="M54.44 194.99L57.24 197.79L54.44 200.59L51.64 197.79Z" fill="#009000"/><path d="M55.00 194.99L57.80 197.79L55.00 200.59L52.20 197.79Z" fill="#009000"/><path d="M55.56 195.00L58.36 197.80L55.56 200.60L52.76 197.80Z" fill="#009000"/><path d="M56.12 195.00L58.92 197.80L56.12 200.60L53.32 197.80Z" fill="#009000"/><path d="M56.68 195.00L59.48 197.80L56.68 200.60L53.88 197.80Z" fill="#009000"/><path d="M57.24 195.01L60.04 197.81L57.24 200.61L54.44 197.81Z" fill="#009000"/><path d="M57.80 195.01L60.60 197.81L57.80 200.61L55.00 197.81Z" fill="#009000"/><path d="M58.36 195.02L61.16 197.82L58.36 200.62L55.56 197.82Z" fill="#009000"/><path d="M58.92 195.02L61.72 197.82L58.92 200.62L56.12 197.82Z" fill="#009000"/><path d="M59.48 195.02L62.28 197.82L59.48 200.62L56.68 197.82Z" fill="#009000"/><path d="M60.04 195.03L62.84 197.83L60.04 200.63L57.24 197.83Z" fill="#009000"/><path d="M60.60 195.03L63.40 197.83L60.60 200.63L57.80 197.83Z" fill="#009000"/><path d="M61.16 195.04L63.96 197.84L61.16 200.64L58.36 197.84Z" fill="#009000"/><path d="M61.72 195.05L64.52 197.85L61.72 200.65L58.92 197.85Z" fill="#009000"/><path d="M62.28 195.05L65.08 197.85L62.28 200.65L59.48 197.85Z" fill="#009000"/><path d="M62.84 195.06L65.64 197.86L62.84 200.66L60.04 197.86Z" fill="#009000"/><path d="M63.40 195.06L66.20 197.86L63.40 200.66L60.60 197.86Z" fill="#009000"/><path d="M63.96 195.07L66.76 197.87L63.96 200.67L61.16 197.87Z" fill="#009000"/><path d="M64.52 195.08L67.32 197.88L64.52 200.68L61.72 197.88Z" fill="#009000"/><path d="M65.07 195.08L67.87 197.88L65.07 200.68L62.27 197.88Z" fill="#009000"/><path d="M65.63 195.09L68.43 197.89L65.63 200.69L62.83 197.89Z" fill="#009000"/><path d="M66.19 195.10L68.99 197.90L66.19 200.70L63.39 197.90Z" fill="#009000"/><path d="M66.75 195.11L69.55 197.91L66.75 200.71L63.95 197.91Z" fill="#009000"/><path d="M67.31 195.12L70.11 197.92L67.31 200.72L64.51 197.92Z" fill="#009000"/><path d="M67.87 195.13L70.67 197.93L67.87 200.73L65.07 197.93Z" fill="#009000"/><path d="M68.43 195.14L71.23 197.94L68.43 200.74L65.63 197.94Z" fill="#009000"/><path d="M68.99 195.15L71.79 197.95L68.99 200.75L66.19 197.95Z" fill="#009000"/><path d="M69.55 195.16L72.35 197.96L69.55 200.76L66.75 197.96Z" fill="#009000"/><path d="M70.11 195.17L72.91 197.97L70.11 200.77L67.31 197.97Z" fill="#009000"/><path d="M70.67 195.18L73.47 197.98L70.67 200.78L67.87 197.98Z" fill="#009000"/><path d="M71.23 195.19L74.03 197.99L71.23 200.79L68.43 197.99Z" fill="#009000"/><path d="M71.79 195.21L74.59 198.01L71.79 200.81L68.99 198.01Z" fill="#009000"/><path d="M72.35 195.22L75.15 198.02L72.35 200.82L69.55 198.02Z" fill="#009000"/><path d="M72.91 195.23L75.71 198.03L72.91 200.83L70.11 198.03Z" fill="#009000"/><path d="M73.47 195.25L76.27 198.05L73.47 200.85L70.67 198.05Z" fill="#009000"/><path d="M74.03 195.26L76.83 198.06L74.03 200.86L71.23 198.06Z" fill="#009000"/><path d="M74.59 195.28L77.39 198.08L74.59 200.88L71.79 198.08Z" fill="#009000"/><path d="M75.15 195.30L77.95 198.10L75.15 200.90L72.35 198.10Z" fill="#009000"/><path d="M75.71 195.31L78.51 198.11L75.71 200.91L72.91 198.11Z" fill="#009000"/><path d="M76.27 195.33L79.07 198.13L76.27 200.93L73.47 198.13Z" fill="#009000"/><path d="M76.83 195.35L79.63 198.15L76.83 200.95L74.03 198.15Z" fill="#009000"/><path d="M77.39 195.37L80.19 198.17L77.39 200.97L74.59 198.17Z" fill="#009000"/><path d="M77.95 195.39L80.75 198.19L77.95 200.99L75.15 198.19Z" fill="#009000"/><path d="M78.51 195.42L81.31 198.22L78.51 201.02L75.71 198.22Z" fill="#009000"/><path d="M79.07 195.44L81.87 198.24L79.07 201.04L76.27 198.24Z" fill="#009000"/><path d="M79.63 195.47L82.43 198.27L79.63 201.07L76.83 198.27Z" fill="#009000"/><path d="M80.19 195.49L82.99 198.29L80.19 201.09L77.39 198.29Z" fill="#009000"/><path d="M80.75 195.52L83.55 198.32L80.75 201.12L77.95 198.32Z" fill="#009000"/><path d="M81.31 195.55L84.11 198.35L81.31 201.15L78.51 198.35Z" fill="#009000"/><path d="M81.87 195.58L84.67 198.38L81.87 201.18L79.07 198.38Z" fill="#009000"/><path d="M82.43 195.61L85.23 198.41L82.43 201.21L79.63 198.41Z" fill="#009000"/><path d="M82.99 195.64L85.79 198.44L82.99 201.24L80.19 198.44Z" fill="#009000"/><path d="M83.55 195.67L86.35 198.47L83.55 201.27L80.75 198.47Z" fill="#009000"/><path d="M84.11 195.71L86.91 198.51L84.11 201.31L81.31 198.51Z" fill="#009000"/><path d="M84.67 195.75L87.47 198.55L84.67 201.35L81.87 198.55Z" fill="#009000"/><path d="M85.23 195.79L88.03 198.59L85.23 201.39L82.43 198.59Z" fill="#009000"/><path d="M85.79 195.83L88.59 198.63L85.79 201.43L82.99 198.63Z" fill="#009000"/><path d="M86.35 195.87L89.15 198.67L86.35 201.47L83.55 198.67Z" fill="#009000"/><path d="M86.91 195.92L89.71 198.72L86.91 201.52L84.11 198.72Z" fill="#009000"/><path d="M87.47 195.96L90.27 198.76L87.47 201.56L84.67 198.76Z" fill="#009000"/><path d="M88.03 196.01L90.83 198.81L88.03 201.61L85.23 198.81Z" fill="#009000"/><path d="M88.59 196.06L91.39 198.86L88.59 201.66L85.79 198.86Z" fill="#009000"/><path d="M89.15 196.12L91.95 198.92L89.15 201.72L86.35 198.92Z" fill="#009000"/><path d="M89.71 196.18L92.51 198.98L89.71 201.78L86.91 198.98Z" fill="#009000"/><path d="M90.27 196.24L93.07 199.04L90.27 201.84L87.47 199.04Z" fill="#009000"/><path d="M90.83 196.30L93.63 199.10L90.83 201.90L88.03 199.10Z" fill="#009000"/><path d="M91.39 196.36L94.19 199.16L91.39 201.96L88.59 199.16Z" fill="#009000"/><path d="M91.95 196.43L94.75 199.23L91.95 202.03L89.15 199.23Z" fill="#009000"/><path d="M92.51 196.51L95.31 199.31L92.51 202.11L89.71 199.31Z" fill="#009000"/><path d="M93.07 196.58L95.87 199.38L93.07 202.18L90.27 199.38Z" fill="#009000"/><path d="M93.63 196.66L96.43 199.46L93.63 202.26L90.83 199.46Z" fill="#009000"/><path d="M94.19 196.74L96.99 199.54L94.19 202.34L91.39 199.54Z" fill="#009000"/><path d="M94.75 196.83L97.55 199.63L94.75 202.43L91.95 199.63Z" fill="#009000"/><path d="M95.31 196.92L98.11 199.72L95.31 202.52L92.51 199.72Z" fill="#009000"/><path d="M95.87 197.02L98.67 199.82L95.87 202.62L93.07 199.82Z" fill="#009000"/><path d="M96.43 197.12L99.23 199.92L96.43 202.72L93.63 199.92Z" fill="#009000"/><path d="M96.99 197.22L99.79 200.02L96.99 202.82L94.19 200.02Z" fill="#009000"/><path d="M97.55 197.33L100.35 200.13L97.55 202.93L94.75 200.13Z" fill="#009000"/><path d="M98.11 197.45L100.91 200.25L98.11 203.05L95.31 200.25Z" fill="#009000"/><path d="M98.67 197.57L101.47 200.37L98.67 203.17L95.87 200.37Z" fill="#009000"/><path d="M99.23 197.70L102.03 200.50L99.23 203.30L96.43 200.50Z" fill="#009000"/><path d="M99.79 197.83L102.59 200.63L99.79 203.43L96.99 200.63Z" fill="#009000"/><path d="M100.35 197.97L103.15 200.77L100.35 203.57L97.55 200.77Z" fill="#009000"/><path d="M100.91 198.12L103.71 200.92L100.91 203.72L98.11 200.92Z" fill="#009000"/><path d="M101.46 198.28L104.26 201.08L101.46 203.88L98.66 201.08Z" fill="#009000"/><path d="M102.02 198.44L104.82 201.24L102.02 204.04L99.22 201.24Z" fill="#009000"/><path d="M102.58 198.61L105.38 201.41L102.58 204.21L99.78 201.41Z" fill="#009000"/><path d="M103.14 198.79L105.94 201.59L103.14 204.39L100.34 201.59Z" fill="#009000"/><path d="M103.70 198.97L106.50 201.77L103.70 204.57L100.90 201.77Z" fill="#009000"/><path d="M104.26 199.17L107.06 201.97L104.26 204.77L101.46 201.97Z" fill="#009000"/><path d="M104.82 199.38L107.62 202.18L104.82 204.98L102.02 202.18Z" fill="#009000"/><path d="M105.38 199.59L108.18 202.39L105.38 205.19L102.58 202.39Z" fill="#009000"/><path d="M105.94 199.82L108.74 202.62L105.94 205.42L103.14 202.62Z" fill="#009000"/><path d="M106.50 200.06L109.30 202.86L106.50 205.66L103.70 202.86Z" fill="#009000"/><path d="M107.06 200.31L109.86 203.11L107.06 205.91L104.26 203.11Z" fill="#009000"/><path d="M107.62 200.57L110.42 203.37L107.62 206.17L104.82 203.37Z" fill="#009000"/><path d="M108.18 200.85L110.98 203.65L108.18 206.45L105.38 203.65Z" fill="#009000"/><path d="M108.74 201.14L111.54 203.94L108.74 206.74L105.94 203.94Z" fill="#009000"/><path d="M109.30 201.45L112.10 204.25L109.30 207.05L106.50 204.25Z" fill="#009000"/><path d="M109.86 201.77L112.66 204.57L109.86 207.37L107.06 204.57Z" fill="#009000"/><path d="M110.42 202.11L113.22 204.91L110.42 207.71L107.62 204.91Z" fill="#009000"/><path d="M110.98 202.47L113.78 205.27L110.98 208.07L108.18 205.27Z" fill="#009000"/><path d="M111.54 202.84L114.34 205.64L111.54 208.44L108.74 205.64Z" fill="#009000"/><path d="M112.10 203.23L114.90 206.03L112.10 208.83L109.30 206.03Z" fill="#009000"/><path d="M112.66 203.65L115.46 206.45L112.66 209.25L109.86 206.45Z" fill="#009000"/><path d="M113.22 204.09L116.02 206.89L113.22 209.69L110.42 206.89Z" fill="#009000"/><path d="M113.78 204.55L116.58 207.35L113.78 210.15L110.98 207.35Z" fill="#009000"/><path d="M114.34 205.03L117.14 207.83L114.34 210.63L111.54 207.83Z" fill="#009000"/><path d="M114.90 205.54L117.70 208.34L114.90 211.14L112.10 208.34Z" fill="#009000"/><path d="M115.46 206.08L118.26 208.88L115.46 211.68L112.66 208.88Z" fill="#009000"/><path d="M116.02 206.65L118.82 209.45L116.02 212.25L113.22 209.45Z" fill="#009000"/><path d="M116.58 207.25L119.38 210.05L116.58 212.85L113.78 210.05Z" fill="#009000"/><path d="M117.14 207.89L119.94 210.69L117.14 213.49L114.34 210.69Z" fill="#009000"/><path d="M117.70 208.55L120.50 211.35L117.70 214.15L114.90 211.35Z" fill="#009000"/><path d="M118.26 209.26L121.06 212.06L118.26 214.86L115.46 212.06Z" fill="#009000"/><path d="M118.82 210.01L121.62 212.81L118.82 215.61L116.02 212.81Z" fill="#009000"/><path d="M119.38 210.80L122.18 213.60L119.38 216.40L116.58 213.60Z" fill="#009000"/><path d="M119.94 211.64L122.74 214.44L119.94 217.24L117.14 214.44Z" fill="#009000"/><path d="M120.50 212.53L123.30 215.33L120.50 218.13L117.70 215.33Z" fill="#009000"/><path d="M121.06 213.48L123.86 216.28L121.06 219.08L118.26 216.28Z" fill="#009000"/><path d="M121.62 214.48L124.42 217.28L121.62 220.08L118.82 217.28Z" fill="#009000"/><path d="M122.18 215.54L124.98 218.34L122.18 221.14L119.38 218.34Z" fill="#009000"/><path d="M122.74 216.68L125.54 219.48L122.74 222.28L119.94 219.48Z" fill="#009000"/><path d="M123.30 217.89L126.10 220.69L123.30 223.49L120.50 220.69Z" fill="#009000"/><path d="M123.86 219.18L126.66 221.98L123.86 224.78L121.06 221.98Z" fill="#009000"/><path d="M124.42 220.56L127.22 223.36L124.42 226.16L121.62 223.36Z" fill="#009000"/><path d="M124.98 222.04L127.78 224.84L124.98 227.64L122.18 224.84Z" fill="#009000"/><path d="M125.54 223.63L128.34 226.43L125.54 229.23L122.74 226.43Z" fill="#009000"/><path d="M126.10 225.34L128.90 228.14L126.10 230.94L123.30 228.14Z" fill="#009000"/><path d="M126.66 227.18L129.46 229.98L126.66 232.78L123.86 229.98Z" fill="#009000"/><path d="M127.22 229.18L130.02 231.98L127.22 234.78L124.42 231.98Z" fill="#009000"/><path d="M127.78 231.36L130.58 234.16L127.78 236.96L124.98 234.16Z" fill="#009000"/><path d="M128.34 233.73L131.14 236.53L128.34 239.33L125.54 236.53Z" fill="#009000"/><path d="M128.90 236.34L131.70 239.14L128.90 241.94L126.10 239.14Z" fill="#009000"/><path d="M129.46 239.22L132.26 242.02L129.46 244.82L126.66 242.02Z" fill="#009000"/><path d="M130.02 242.44L132.82 245.24L130.02 248.04L127.22 245.24Z" fill="#009000"/><path d="M130.58 246.07L133.38 248.87L130.58 251.67L127.78 248.87Z" fill="#009000"/><path d="M131.14 250.22L133.94 253.02L131.14 255.82L128.34 253.02Z" fill="#009000"/><path d="M131.70 255.05L134.50 257.85L131.70 260.65L128.90 257.85Z" fill="#009000"/><path d="M132.26 260.85L135.06 263.65L132.26 266.45L129.46 263.65Z" fill="#009000"/><path d="M132.82 268.08L135.62 270.88L132.82 273.68L130.02 270.88Z" fill="#009000"/><path d="M133.38 277.74L136.18 280.54L133.38 283.34L130.58 280.54Z" fill="#009000"/><path d="M133.94 292.58L136.74 295.38L133.94 298.18L131.14 295.38Z" fill="#009000"/><path d="M135.06 311.99L137.86 314.79L135.06 317.59L132.26 314.79Z" fill="#009000"/><path d="M135.62 289.78L138.42 292.58L135.62 295.38L132.82 292.58Z" fill="#009000"/><path d="M136.18 278.99L138.98 281.79L136.18 284.59L133.38 281.79Z" fill="#009000"/><path d="M136.74 272.13L139.54 274.93L136.74 277.73L133.94 274.93Z" fill="#009000"/><path d="M137.29 267.33L140.09 270.13L137.29 272.93L134.49 270.13Z" fill="#009000"/><path d="M137.85 263.85L140.65 266.65L137.85 269.45L135.05 266.65Z" fill="#009000"/><path d="M138.41 261.29L141.21 264.09L138.41 266.89L135.61 264.09Z" fill="#009000"/><path d="M138.97 259.45L141.77 262.25L138.97 265.05L136.17 262.25Z" fill="#009000"/><path d="M139.53 258.21L142.33 261.01L139.53 263.81L136.73 261.01Z" fill="#009000"/><path d="M140.09 257.49L142.89 260.29L140.09 263.09L137.29 260.29Z" fill="#009000"/><path d="M140.65 257.24L143.45 260.04L140.65 262.84L137.85 260.04Z" fill="#009000"/><path d="M141.21 257.44L144.01 260.24L141.21 263.04L138.41 260.24Z" fill="#009000"/><path d="M141.77 258.09L144.57 260.89L141.77 263.69L138.97 260.89Z" fill="#009000"/><path d="M142.33 259.20L145.13 262.00L142.33 264.80L139.53 262.00Z" fill="#009000"/><path d="M142.89 260.81L145.69 263.61L142.89 266.41L140.09 263.61Z" fill="#009000"/><path d="M143.45 262.96L146.25 265.76L143.45 268.56L140.65 265.76Z" fill="#009000"/><path d="M144.01 265.75L146.81 268.55L144.01 271.35L141.21 268.55Z" fill="#009000"/><path d="M144.57 269.30L147.37 272.10L144.57 274.90L141.77 272.10Z" fill="#009000"/><path d="M145.13 273.83L147.93 276.63L145.13 279.43L142.33 276.63Z" fill="#009000"/><path d="M145.69 279.71L148.49 282.51L145.69 285.31L142.89 282.51Z" fill="#009000"/><path d="M146.25 287.65L149.05 290.45L146.25 293.25L143.45 290.45Z" fill="#009000"/><path d="M146.81 299.36L149.61 302.16L146.81 304.96L144.01 302.16Z" fill="#009000"/><path d="M148.49 310.80L151.29 313.60L148.49 316.40L145.69 313.60Z" fill="#009000"/><path d="M149.05 297.27L151.85 300.07L149.05 302.87L146.25 300.07Z" fill="#009000"/><path d="M149.61 289.68L152.41 292.48L149.61 295.28L146.81 292.48Z" fill="#009000"/><path d="M150.17 284.96L152.97 287.76L150.17 290.56L147.37 287.76Z" fill="#009000"/><path d="M150.73 282.07L153.53 284.87L150.73 287.67L147.93 284.87Z" fill="#009000"/><path d="M151.29 280.58L154.09 283.38L151.29 286.18L148.49 283.38Z" fill="#009000"/><path d="M151.85 280.28L154.65 283.08L151.85 285.88L149.05 283.08Z" fill="#009000"/><path d="M152.41 281.10L155.21 283.90L152.41 286.70L149.61 283.90Z" fill="#009000"/><path d="M152.97 283.09L155.77 285.89L152.97 288.69L150.17 285.89Z" fill="#009000"/><path d="M153.53 286.41L156.33 289.21L153.53 292.01L150.73 289.21Z" fill="#009000"/><path d="M154.09 291.42L156.89 294.22L154.09 297.02L151.29 294.22Z" fill="#009000"/><path d="M154.65 298.87L157.45 301.67L154.65 304.47L151.85 301.67Z" fill="#009000"/><path d="M155.21 310.65L158.01 313.45L155.21 316.25L152.41 313.45Z" fill="#009000"/><path d="M156.89 318.69L159.69 321.49L156.89 324.29L154.09 321.49Z" fill="#009000"/><path d="M157.45 306.65L160.25 309.45L157.45 312.25L154.65 309.45Z" fill="#009000"/><path d="M158.01 300.35L160.81 303.15L158.01 305.95L155.21 303.15Z" fill="#009000"/><path d="M158.57 297.21L161.37 300.01L158.57 302.81L155.77 300.01Z" fill="#009000"/><path d="M159.13 296.37L161.93 299.17L159.13 301.97L156.33 299.17Z" fill="#009000"/><path d="M159.69 297.61L162.49 300.41L159.69 303.21L156.89 300.41Z" fill="#009000"/><path d="M160.25 301.09L163.05 303.89L160.25 306.69L157.45 303.89Z" fill="#009000"/><path d="M160.81 307.44L163.61 310.24L160.81 313.04L158.01 310.24Z" fill="#009000"/><path d="M161.37 318.46L164.17 321.26L161.37 324.06L158.57 321.26Z" fill="#009000"/><path d="M163.61 315.42L166.41 318.22L163.61 321.02L160.81 318.22Z" fill="#009000"/><path d="M164.17 310.39L166.97 313.19L164.17 315.99L161.37 313.19Z" fill="#009000"/><path d="M164.73 309.20L167.53 312.00L164.73 314.80L161.93 312.00Z" fill="#009000"/><path d="M165.29 311.34L168.09 314.14L165.29 316.94L162.49 314.14Z" fill="#009000"/><path d="M165.85 317.31L168.65 320.11L165.85 322.91L163.05 320.11Z" fill="#009000"/><path d="M169.21 320.11L172.01 322.91L169.21 325.71L166.41 322.91Z" fill="#009000"/>
<path d="M46.60 203.83L49.40 208.33L43.80 208.33Z" fill="#929200"/><path d="M47.16 203.83L49.96 208.33L44.36 208.33Z" fill="#929200"/><path d="M47.72 203.83L50.52 208.33L44.92 208.33Z" fill="#929200"/><path d="M48.28 203.83L51.08 208.33L45.48 208.33Z" fill="#929200"/><path d="M48.84 203.84L51.64 208.34L46.04 208.34Z" fill="#929200"/><path d="M49.40 203.84L52.20 208.34L46.60 208.34Z" fill="#929200"/><path d="M49.96 203.84L52.76 208.34L47.16 208.34Z" fill="#929200"/><path d="M50.52 203.84L53.32 208.34L47.72 208.34Z" fill="#929200"/><path d="M51.08 203.84L53.88 208.34L48.28 208.34Z" fill="#929200"/><path d="M51.64 203.85L54.44 208.35L48.84 208.35Z" fill="#929200"/><path d="M52.20 203.85L55.00 208.35L49.40 208.35Z" fill="#929200"/><path d="M52.76 203.85L55.56 208.35L49.96 208.35Z" fill="#929200"/><path d="M53.32 203.85L56.12 208.35L50.52 208.35Z" fill="#929200"/><path d="M53.88 203.85L56.68 208.35L51.08 208.35Z" fill="#929200"/><path d="M54.44 203.86L57.24 208.36L51.64 208.36Z" fill="#929200"/><path d="M55.00 203.86L57.80 208.36L52.20 208.36Z" fill="#929200"/><path d="M55.56 203.86L58.36 208.36L52.76 208.36Z" fill="#929200"/><path d="M56.12 203.87L58.92 208.37L53.32 208.37Z" fill="#929200"/><path d="M56.68 203.87L59.48 208.37L53.88 208.37Z" fill="#929200"/><path d="M57.24 203.87L60.04 208.37L54.44 208.37Z" fill="#929200"/><path d="M57.80 203.88L60.60 208.38L55.00 208.38Z" fill="#929200"/><path d="M58.36 203.88L61.16 208.38L55.56 208.38Z" fill="#929200"/><path d="M58.92 203.88L61.72 208.38L56.12 208.38Z" fill="#929200"/><path d="M59.48 203.89L62.28 208.39L56.68 208.39Z" fill="#929200"/><path d="M60.04 203.89L62.84 208.39L57.24 208.39Z" fill="#929200"/><path d="M60.60 203.89L63.40 208.39L57.80 208.39Z" fill="#929200"/><path d="M61.16 203.90L63.96 208.40L58.36 208.40Z" fill="#929200"/><path d="M61.72 203.90L64.52 208.40L58.92 208.40Z" fill="#929200"/><path d="M62.28 203.91L65.08 208.41L59.48 208.41Z" fill="#929200"/><path d="M62.84 203.91L65.64 208.41L60.04 208.41Z" fill="#929200"/><path d="M63.40 203.92L66.20 208.42L60.60 208.42Z" fill="#929200"/><path d="M63.96 203.92L66.76 208.42L61.16 208.42Z" fill="#929200"/><path d="M64.52 203.93L67.32 208.43L61.72 208.43Z" fill="#929200"/><path d="M65.07 203.94L67.87 208.44L62.27 208.44Z" fill="#929200"/><path d="M65.63 203.94L68.43 208.44L62.83 208.44Z" fill="#929200"/><path d="M66.19 203.95L68.99 208.45L63.39 208.45Z" fill="#929200"/><path d="M66.75 203.96L69.55 208.46L63.95 208.46Z" fill="#929200"/><path d="M67.31 203.96L70.11 208.46L64.51 208.46Z" fill="#929200"/><path d="M67.87 203.97L70.67 208.47L65.07 208.47Z" fill="#929200"/><path d="M68.43 203.98L71.23 208.48L65.63 208.48Z" fill="#929200"/><path d="M68.99 203.99L71.79 208.49L66.19 208.49Z" fill="#929200"/><path d="M69.55 204.00L72.35 208.50L66.75 208.50Z" fill="#929200"/><path d="M70.11 204.01L72.91 208.51L67.31 208.51Z" fill="#929200"/><path d="M70.67 204.01L73.47 208.51L67.87 208.51Z" fill="#929200"/><path d="M71.23 204.02L74.03 208.52L68.43 208.52Z" fill="#929200"/><path d="M71.79 204.04L74.59 208.54L68.99 208.54Z" fill="#929200"/><path d="M72.35 204.05L75.15 208.55L69.55 208.55Z" fill="#929200"/><path d="M72.91 204.06L75.71 208.56L70.11 208.56Z" fill="#929200"/><path d="M73.47 204.07L76.27 208.57L70.67 208.57Z" fill="#929200"/><path d="M74.03 204.08L76.83 208.58L71.23 208.58Z" fill="#929200"/><path d="M74.59 204.10L77.39 208.60L71.79 208.60Z" fill="#929200"/><path d="M75.15 204.11L77.95 208.61L72.35 208.61Z" fill="#929200"/><path d="M75.71 204.13L78.51 208.63L72.91 208.63Z" fill="#929200"/><path d="M76.27 204.14L79.07 208.64L73.47 208.64Z" fill="#929200"/><path d="M76.83 204.16L79.63 208.66L74.03 208.66Z" fill="#929200"/><path d="M77.39 204.17L80.19 208.67L74.59 208.67Z" fill="#929200"/><path d="M77.95 204.19L80.75 208.69L75.15 208.69Z" fill="#929200"/><path d="M78.51 204.21L81.31 208.71L75.71 208.71Z" fill="#929200"/><path d="M79.07 204.23L81.87 208.73L76.27 208.73Z" fill="#929200"/><path d="M79.63 204.25L82.43 208.75L76.83 208.75Z" fill="#929200"/><path d="M80.19 204.27L82.99 208.77L77.39 208.77Z" fill="#929200"/><path d="M80.75 204.29L83.55 208.79L77.95 208.79Z" fill="#929200"/><path d="M81.31 204.32L84.11 208.82L78.51 208.82Z" fill="#929200"/><path d="M81.87 204.34L84.67 208.84L79.07 208.84Z" fill="#929200"/><path d="M82.43 204.37L85.23 208.87L79.63 208.87Z" fill="#929200"/><path d="M82.99 204.39L85.79 208.89L80.19 208.89Z" fill="#929200"/><path d="M83.55 204.42L86.35 208.92L80.75 208.92Z" fill="#929200"/><path d="M84.11 204.45L86.91 208.95L81.31 208.95Z" fill="#929200"/><path d="M84.67 204.48L87.47 208.98L81.87 208.98Z" fill="#929200"/><path d="M85.23 204.51L88.03 209.01L82.43 209.01Z" fill="#929200"/><path d="M85.79 204.55L88.59 209.05L82.99 209.05Z" fill="#929200"/><path d="M86.35 204.58L89.15 209.08L83.55 209.08Z" fill="#929200"/><path d="M86.91 204.62L89.71 209.12L84.11 209.12Z" fill="#929200"/><path d="M87.47 204.66L90.27 209.16L84.67 209.16Z" fill="#929200"/><path d="M88.03 204.70L90.83 209.20L85.23 209.20Z" fill="#929200"/><path d="M88.59 204.74L91.39 209.24L85.79 209.24Z" fill="#929200"/><path d="M89.15 204.79L91.95 209.29L86.35 209.29Z" fill="#929200"/><path d="M89.71 204.84L92.51 209.34L86.91 209.34Z" fill="#929200"/><path d="M90.27 204.88L93.07 209.38L87.47 209.38Z" fill="#929200"/><path d="M90.83 204.94L93.63 209.44L88.03 209.44Z" fill="#929200"/><path d="M91.39 204.99L94.19 209.49L88.59 209.49Z" fill="#929200"/><path d="M91.95 205.05L94.75 209.55L89.15 209.55Z" fill="#929200"/><path d="M92.51 205.11L95.31 209.61L89.71 209.61Z" fill="#929200"/><path d="M93.07 205.17L95.87 209.67L90.27 209.67Z" fill="#929200"/><path d="M93.63 205.23L96.43 209.73L90.83 209.73Z" fill="#929200"/><path d="M94.19 205.30L96.99 209.80L91.39 209.80Z" fill="#929200"/><path d="M94.75 205.37L97.55 209.87L91.95 209.87Z" fill="#929200"/><path d="M95.31 205.45L98.11 209.95L92.51 209.95Z" fill="#929200"/><path d="M95.87 205.53L98.67 210.03L93.07 210.03Z" fill="#929200"/><path d="M96.43 205.61L99.23 210.11L93.63 210.11Z" fill="#929200"/><path d="M96.99 205.70L99.79 210.20L94.19 210.20Z" fill="#929200"/><path d="M97.55 205.79L100.35 210.29L94.75 210.29Z" fill="#929200"/><path d="M98.11 205.88L100.91 210.38L95.31 210.38Z" fill="#929200"/><path d="M98.67 205.98L101.47 210.48L95.87 210.48Z" fill="#929200"/><path d="M99.23 206.09L102.03 210.59L96.43 210.59Z" fill="#929200"/><path d="M99.79 206.20L102.59 210.70L96.99 210.70Z" fill="#929200"/><path d="M100.35 206.31L103.15 210.81L97.55 210.81Z" fill="#929200"/><path d="M100.91 206.43L103.71 210.93L98.11 210.93Z" fill="#929200"/><path d="M101.46 206.56L104.26 211.06L98.66 211.06Z" fill="#929200"/><path d="M102.02 206.69L104.82 211.19L99.22 211.19Z" fill="#929200"/><path d="M102.58 206.83L105.38 211.33L99.78 211.33Z" fill="#929200"/><path d="M103.14 206.98L105.94 211.48L100.34 211.48Z" fill="#929200"/><path d="M103.70 207.13L106.50 211.63L100.90 211.63Z" fill="#929200"/><path d="M104.26 207.29L107.06 211.79L101.46 211.79Z" fill="#929200"/><path d="M104.82 207.46L107.62 211.96L102.02 211.96Z" fill="#929200"/><path d="M105.38 207.64L108.18 212.14L102.58 212.14Z" fill="#929200"/><path d="M105.94 207.83L108.74 212.33L103.14 212.33Z" fill="#929200"/><path d="M106.50 208.02L109.30 212.52L103.70 212.52Z" fill="#929200"/><path d="M107.06 208.23L109.86 212.73L104.26 212.73Z" fill="#929200"/><path d="M107.62 208.44L110.42 212.94L104.82 212.94Z" fill="#929200"/><path d="M108.18 208.67L110.98 213.17L105.38 213.17Z" fill="#929200"/><path d="M108.74 208.91L111.54 213.41L105.94 213.41Z" fill="#929200"/><path d="M109.30 209.16L112.10 213.66L106.50 213.66Z" fill="#929200"/><path d="M109.86 209.42L112.66 213.92L107.06 213.92Z" fill="#929200"/><path d="M110.42 209.70L113.22 214.20L107.62 214.20Z" fill="#929200"/><path d="M110.98 209.99L113.78 214.49L108.18 214.49Z" fill="#929200"/><path d="M111.54 210.29L114.34 214.79L108.74 214.79Z" fill="#929200"/><path d="M112.10 210.61L114.90 215.11L109.30 215.11Z" fill="#929200"/><path d="M112.66 210.95L115.46 215.45L109.86 215.45Z" fill="#929200"/><path d="M113.22 211.30L116.02 215.80L110.42 215.80Z" fill="#929200"/><path d="M113.78 211.68L116.58 216.18L110.98 216.18Z" fill="#929200"/><path d="M114.34 212.07L117.14 216.57L111.54 216.57Z" fill="#929200"/><path d="M114.90 212.49L117.70 216.99L112.10 216.99Z" fill="#929200"/><path d="M115.46 212.92L118.26 217.42L112.66 217.42Z" fill="#929200"/><path d="M116.02 213.38L118.82 217.88L113.22 217.88Z" fill="#929200"/><path d="M116.58 213.87L119.38 218.37L113.78 218.37Z" fill="#929200"/><path d="M117.14 214.38L119.94 218.88L114.34 218.88Z" fill="#929200"/><path d="M117.70 214.92L120.50 219.42L114.90 219.42Z" fill="#929200"/><path d="M118.26 215.48L121.06 219.98L115.46 219.98Z" fill="#929200"/><path d="M118.82 216.09L121.62 220.59L116.02 220.59Z" fill="#929200"/><path d="M119.38 216.72L122.18 221.22L116.58 221.22Z" fill="#929200"/><path d="M119.94 217.39L122.74 221.89L117.14 221.89Z" fill="#929200"/><path d="M120.50 218.10L123.30 222.60L117.70 222.60Z" fill="#929200"/><path d="M121.06 218.85L123.86 223.35L118.26 223.35Z" fill="#929200"/><path d="M121.62 219.65L124.42 224.15L118.82 224.15Z" fill="#929200"/><path d="M122.18 220.49L124.98 224.99L119.38 224.99Z" fill="#929200"/><path d="M122.74 221.39L125.54 225.89L119.94 225.89Z" fill="#929200"/><path d="M123.30 222.34L126.10 226.84L120.50 226.84Z" fill="#929200"/><path d="M123.86 223.35L126.66 227.85L121.06 227.85Z" fill="#929200"/><path d="M124.42 224.43L127.22 228.93L121.62 228.93Z" fill="#929200"/><path d="M124.98 225.59L127.78 230.09L122.18 230.09Z" fill="#929200"/><path d="M125.54 226.82L128.34 231.32L122.74 231.32Z" fill="#929200"/><path d="M126.10 228.13L128.90 232.63L123.30 232.63Z" fill="#929200"/><path d="M126.66 229.55L129.46 234.05L123.86 234.05Z" fill="#929200"/><path d="M127.22 231.07L130.02 235.57L124.42 235.57Z" fill="#929200"/><path d="M127.78 232.71L130.58 237.21L124.98 237.21Z" fill="#929200"/><path d="M128.34 234.49L131.14 238.99L125.54 238.99Z" fill="#929200"/><path d="M128.90 236.43L131.70 240.93L126.10 240.93Z" fill="#929200"/><path d="M129.46 238.54L132.26 243.04L126.66 243.04Z" fill="#929200"/><path d="M130.02 240.87L132.82 245.37L127.22 245.37Z" fill="#929200"/><path d="M130.58 243.46L133.38 247.96L127.78 247.96Z" fill="#929200"/><path d="M131.14 246.37L133.94 250.87L128.34 250.87Z" fill="#929200"/><path d="M131.70 249.69L134.50 254.19L128.90 254.19Z" fill="#929200"/><path d="M132.26 253.56L135.06 258.06L129.46 258.06Z" fill="#929200"/><path d="M132.82 258.22L135.62 262.72L130.02 262.72Z" fill="#929200"/><path d="M133.38 264.21L136.18 268.71L130.58 268.71Z" fill="#929200"/><path d="M133.94 272.89L136.74 277.39L131.14 277.39Z" fill="#929200"/><path d="M134.50 292.08L137.30 296.58L131.70 296.58Z" fill="#929200"/><path d="M140.09 303.91L142.89 308.41L137.29 308.41Z" fill="#929200"/><path d="M140.65 285.48L143.45 289.98L137.85 289.98Z" fill="#929200"/><path d="M141.21 278.87L144.01 283.37L138.41 283.37Z" fill="#929200"/><path d="M141.77 275.21L144.57 279.71L138.97 279.71Z" fill="#929200"/><path d="M142.33 273.05L145.13 277.55L139.53 277.55Z" fill="#929200"/><path d="M142.89 271.90L145.69 276.40L140.09 276.40Z" fill="#929200"/><path d="M143.45 271.54L146.25 276.04L140.65 276.04Z" fill="#929200"/><path d="M144.01 271.90L146.81 276.40L141.21 276.40Z" fill="#929200"/><path d="M144.57 272.95L147.37 277.45L141.77 277.45Z" fill="#929200"/><path d="M145.13 274.77L147.93 279.27L142.33 279.27Z" fill="#929200"/><path d="M145.69 277.50L148.49 282.00L142.89 282.00Z" fill="#929200"/><path d="M146.25 281.49L149.05 285.99L143.45 285.99Z" fill="#929200"/><path d="M146.81 287.60L149.61 292.10L144.01 292.10Z" fill="#929200"/><path d="M147.37 298.95L150.17 303.45L144.57 303.45Z" fill="#929200"/><path d="M153.53 312.01L156.33 316.51L150.73 316.51Z" fill="#929200"/><path d="M154.09 305.50L156.89 310.00L151.29 310.00Z" fill="#929200"/><path d="M154.65 304.62L157.45 309.12L151.85 309.12Z" fill="#929200"/><path d="M155.21 307.71L158.01 312.21L152.41 312.21Z" fill="#929200"/><path d="M155.77 317.80L158.57 322.30L152.97 322.30Z" fill="#929200"/>
<circle cx="46.60" cy="215.30" r="1.95" fill="#f40000"/><circle cx="47.16" cy="215.30" r="1.95" fill="#f40000"/><circle cx="47.72" cy="215.31" r="1.95" fill="#f40000"/><circle cx="48.28" cy="215.31" r="1.95" fill="#f40000"/><circle cx="48.84" cy="215.31" r="1.95" fill="#f40000"/><circle cx="49.40" cy="215.31" r="1.95" fill="#f40000"/><circle cx="49.96" cy="215.31" r="1.95" fill="#f40000"/><circle cx="50.52" cy="215.31" r="1.95" fill="#f40000"/><circle cx="51.08" cy="215.31" r="1.95" fill="#f40000"/><circle cx="51.64" cy="215.32" r="1.95" fill="#f40000"/><circle cx="52.20" cy="215.32" r="1.95" fill="#f40000"/><circle cx="52.76" cy="215.32" r="1.95" fill="#f40000"/><circle cx="53.32" cy="215.32" r="1.95" fill="#f40000"/><circle cx="53.88" cy="215.32" r="1.95" fill="#f40000"/><circle cx="54.44" cy="215.32" r="1.95" fill="#f40000"/><circle cx="55.00" cy="215.33" r="1.95" fill="#f40000"/><circle cx="55.56" cy="215.33" r="1.95" fill="#f40000"/><circle cx="56.12" cy="215.33" r="1.95" fill="#f40000"/><circle cx="56.68" cy="215.33" r="1.95" fill="#f40000"/><circle cx="57.24" cy="215.34" r="1.95" fill="#f40000"/><circle cx="57.80" cy="215.34" r="1.95" fill="#f40000"/><circle cx="58.36" cy="215.34" r="1.95" fill="#f40000"/><circle cx="58.92" cy="215.34" r="1.95" fill="#f40000"/><circle cx="59.48" cy="215.35" r="1.95" fill="#f40000"/><circle cx="60.04" cy="215.35" r="1.95" fill="#f40000"/><circle cx="60.60" cy="215.35" r="1.95" fill="#f40000"/><circle cx="61.16" cy="215.36" r="1.95" fill="#f40000"/><circle cx="61.72" cy="215.36" r="1.95" fill="#f40000"/><circle cx="62.28" cy="215.36" r="1.95" fill="#f40000"/><circle cx="62.84" cy="215.37" r="1.95" fill="#f40000"/><circle cx="63.40" cy="215.37" r="1.95" fill="#f40000"/><circle cx="63.96" cy="215.38" r="1.95" fill="#f40000"/><circle cx="64.52" cy="215.38" r="1.95" fill="#f40000"/><circle cx="65.07" cy="215.39" r="1.95" fill="#f40000"/><circle cx="65.63" cy="215.39" r="1.95" fill="#f40000"/><circle cx="66.19" cy="215.40" r="1.95" fill="#f40000"/><circle cx="66.75" cy="215.40" r="1.95" fill="#f40000"/><circle cx="67.31" cy="215.41" r="1.95" fill="#f40000"/><circle cx="67.87" cy="215.41" r="1.95" fill="#f40000"/><circle cx="68.43" cy="215.42" r="1.95" fill="#f40000"/><circle cx="68.99" cy="215.43" r="1.95" fill="#f40000"/><circle cx="69.55" cy="215.43" r="1.95" fill="#f40000"/><circle cx="70.11" cy="215.44" r="1.95" fill="#f40000"/><circle cx="70.67" cy="215.45" r="1.95" fill="#f40000"/><circle cx="71.23" cy="215.46" r="1.95" fill="#f40000"/><circle cx="71.79" cy="215.47" r="1.95" fill="#f40000"/><circle cx="72.35" cy="215.47" r="1.95" fill="#f40000"/><circle cx="72.91" cy="215.48" r="1.95" fill="#f40000"/><circle cx="73.47" cy="215.49" r="1.95" fill="#f40000"/><circle cx="74.03" cy="215.50" r="1.95" fill="#f40000"/><circle cx="74.59" cy="215.51" r="1.95" fill="#f40000"/><circle cx="75.15" cy="215.52" r="1.95" fill="#f40000"/><circle cx="75.71" cy="215.54" r="1.95" fill="#f40000"/><circle cx="76.27" cy="215.55" r="1.95" fill="#f40000"/><circle cx="76.83" cy="215.56" r="1.95" fill="#f40000"/><circle cx="77.39" cy="215.57" r="1.95" fill="#f40000"/><circle cx="77.95" cy="215.59" r="1.95" fill="#f40000"/><circle cx="78.51" cy="215.60" r="1.95" fill="#f40000"/><circle cx="79.07" cy="215.62" r="1.95" fill="#f40000"/><circle cx="79.63" cy="215.63" r="1.95" fill="#f40000"/><circle cx="80.19" cy="215.65" r="1.95" fill="#f40000"/><circle cx="80.75" cy="215.67" r="1.95" fill="#f40000"/><circle cx="81.31" cy="215.69" r="1.95" fill="#f40000"/><circle cx="81.87" cy="215.71" r="1.95" fill="#f40000"/><circle cx="82.43" cy="215.73" r="1.95" fill="#f40000"/><circle cx="82.99" cy="215.75" r="1.95" fill="#f40000"/><circle cx="83.55" cy="215.77" r="1.95" fill="#f40000"/><circle cx="84.11" cy="215.79" r="1.95" fill="#f40000"/><circle cx="84.67" cy="215.82" r="1.95" fill="#f40000"/><circle cx="85.23" cy="215.84" r="1.95" fill="#f40000"/><circle cx="85.79" cy="215.87" r="1.95" fill="#f40000"/><circle cx="86.35" cy="215.90" r="1.95" fill="#f40000"/><circle cx="86.91" cy="215.93" r="1.95" fill="#f40000"/><circle cx="87.47" cy="215.96" r="1.95" fill="#f40000"/><circle cx="88.03" cy="215.99" r="1.95" fill="#f40000"/><circle cx="88.59" cy="216.02" r="1.95" fill="#f40000"/><circle cx="89.15" cy="216.06" r="1.95" fill="#f40000"/><circle cx="89.71" cy="216.09" r="1.95" fill="#f40000"/><circle cx="90.27" cy="216.13" r="1.95" fill="#f40000"/><circle cx="90.83" cy="216.17" r="1.95" fill="#f40000"/><circle cx="91.39" cy="216.22" r="1.95" fill="#f40000"/><circle cx="91.95" cy="216.26" r="1.95" fill="#f40000"/><circle cx="92.51" cy="216.31" r="1.95" fill="#f40000"/><circle cx="93.07" cy="216.36" r="1.95" fill="#f40000"/><circle cx="93.63" cy="216.41" r="1.95" fill="#f40000"/><circle cx="94.19" cy="216.46" r="1.95" fill="#f40000"/><circle cx="94.75" cy="216.52" r="1.95" fill="#f40000"/><circle cx="95.31" cy="216.58" r="1.95" fill="#f40000"/><circle cx="95.87" cy="216.64" r="1.95" fill="#f40000"/><circle cx="96.43" cy="216.70" r="1.95" fill="#f40000"/><circle cx="96.99" cy="216.77" r="1.95" fill="#f40000"/><circle cx="97.55" cy="216.84" r="1.95" fill="#f40000"/><circle cx="98.11" cy="216.92" r="1.95" fill="#f40000"/><circle cx="98.67" cy="216.99" r="1.95" fill="#f40000"/><circle cx="99.23" cy="217.08" r="1.95" fill="#f40000"/><circle cx="99.79" cy="217.16" r="1.95" fill="#f40000"/><circle cx="100.35" cy="217.25" r="1.95" fill="#f40000"/><circle cx="100.91" cy="217.35" r="1.95" fill="#f40000"/><circle cx="101.46" cy="217.45" r="1.95" fill="#f40000"/><circle cx="102.02" cy="217.55" r="1.95" fill="#f40000"/><circle cx="102.58" cy="217.66" r="1.95" fill="#f40000"/><circle cx="103.14" cy="217.77" r="1.95" fill="#f40000"/><circle cx="103.70" cy="217.89" r="1.95" fill="#f40000"/><circle cx="104.26" cy="218.02" r="1.95" fill="#f40000"/><circle cx="104.82" cy="218.15" r="1.95" fill="#f40000"/><circle cx="105.38" cy="218.29" r="1.95" fill="#f40000"/><circle cx="105.94" cy="218.43" r="1.95" fill="#f40000"/><circle cx="106.50" cy="218.59" r="1.95" fill="#f40000"/><circle cx="107.06" cy="218.75" r="1.95" fill="#f40000"/><circle cx="107.62" cy="218.91" r="1.95" fill="#f40000"/><circle cx="108.18" cy="219.09" r="1.95" fill="#f40000"/><circle cx="108.74" cy="219.27" r="1.95" fill="#f40000"/><circle cx="109.30" cy="219.47" r="1.95" fill="#f40000"/><circle cx="109.86" cy="219.67" r="1.95" fill="#f40000"/><circle cx="110.42" cy="219.88" r="1.95" fill="#f40000"/><circle cx="110.98" cy="220.11" r="1.95" fill="#f40000"/><circle cx="111.54" cy="220.34" r="1.95" fill="#f40000"/><circle cx="112.10" cy="220.59" r="1.95" fill="#f40000"/><circle cx="112.66" cy="220.85" r="1.95" fill="#f40000"/><circle cx="113.22" cy="221.12" r="1.95" fill="#f40000"/><circle cx="113.78" cy="221.41" r="1.95" fill="#f40000"/><circle cx="114.34" cy="221.71" r="1.95" fill="#f40000"/><circle cx="114.90" cy="222.03" r="1.95" fill="#f40000"/><circle cx="115.46" cy="222.36" r="1.95" fill="#f40000"/><circle cx="116.02" cy="222.71" r="1.95" fill="#f40000"/><circle cx="116.58" cy="223.08" r="1.95" fill="#f40000"/><circle cx="117.14" cy="223.47" r="1.95" fill="#f40000"/><circle cx="117.70" cy="223.88" r="1.95" fill="#f40000"/><circle cx="118.26" cy="224.31" r="1.95" fill="#f40000"/><circle cx="118.82" cy="224.76" r="1.95" fill="#f40000"/><circle cx="119.38" cy="225.24" r="1.95" fill="#f40000"/><circle cx="119.94" cy="225.74" r="1.95" fill="#f40000"/><circle cx="120.50" cy="226.27" r="1.95" fill="#f40000"/><circle cx="121.06" cy="226.83" r="1.95" fill="#f40000"/><circle cx="121.62" cy="227.42" r="1.95" fill="#f40000"/><circle cx="122.18" cy="228.04" r="1.95" fill="#f40000"/><circle cx="122.74" cy="228.70" r="1.95" fill="#f40000"/><circle cx="123.30" cy="229.39" r="1.95" fill="#f40000"/><circle cx="123.86" cy="230.13" r="1.95" fill="#f40000"/><circle cx="124.42" cy="230.91" r="1.95" fill="#f40000"/><circle cx="124.98" cy="231.73" r="1.95" fill="#f40000"/><circle cx="125.54" cy="232.60" r="1.95" fill="#f40000"/><circle cx="126.10" cy="233.53" r="1.95" fill="#f40000"/><circle cx="126.66" cy="234.51" r="1.95" fill="#f40000"/><circle cx="127.22" cy="235.55" r="1.95" fill="#f40000"/><circle cx="127.78" cy="236.67" r="1.95" fill="#f40000"/><circle cx="128.34" cy="237.85" r="1.95" fill="#f40000"/><circle cx="128.90" cy="239.11" r="1.95" fill="#f40000"/><circle cx="129.46" cy="240.46" r="1.95" fill="#f40000"/><circle cx="130.02" cy="241.91" r="1.95" fill="#f40000"/><circle cx="130.58" cy="243.46" r="1.95" fill="#f40000"/><circle cx="131.14" cy="245.12" r="1.95" fill="#f40000"/><circle cx="131.70" cy="246.92" r="1.95" fill="#f40000"/><circle cx="132.26" cy="248.86" r="1.95" fill="#f40000"/><circle cx="132.82" cy="250.97" r="1.95" fill="#f40000"/><circle cx="133.38" cy="253.27" r="1.95" fill="#f40000"/><circle cx="133.94" cy="255.79" r="1.95" fill="#f40000"/><circle cx="134.50" cy="258.57" r="1.95" fill="#f40000"/><circle cx="135.06" cy="261.67" r="1.95" fill="#f40000"/><circle cx="135.62" cy="265.13" r="1.95" fill="#f40000"/><circle cx="136.18" cy="269.08" r="1.95" fill="#f40000"/><circle cx="136.74" cy="273.64" r="1.95" fill="#f40000"/><circle cx="137.29" cy="279.04" r="1.95" fill="#f40000"/><circle cx="137.85" cy="285.66" r="1.95" fill="#f40000"/><circle cx="138.41" cy="294.25" r="1.95" fill="#f40000"/><circle cx="138.97" cy="306.60" r="1.95" fill="#f40000"/><circle cx="140.65" cy="316.32" r="1.95" fill="#f40000"/><circle cx="141.21" cy="302.91" r="1.95" fill="#f40000"/><circle cx="141.77" cy="294.92" r="1.95" fill="#f40000"/><circle cx="142.33" cy="289.49" r="1.95" fill="#f40000"/><circle cx="142.89" cy="285.58" r="1.95" fill="#f40000"/><circle cx="143.45" cy="282.72" r="1.95" fill="#f40000"/><circle cx="144.01" cy="280.64" r="1.95" fill="#f40000"/><circle cx="144.57" cy="279.20" r="1.95" fill="#f40000"/><circle cx="145.13" cy="278.30" r="1.95" fill="#f40000"/><circle cx="145.69" cy="277.89" r="1.95" fill="#f40000"/><circle cx="146.25" cy="277.94" r="1.95" fill="#f40000"/><circle cx="146.81" cy="278.44" r="1.95" fill="#f40000"/><circle cx="147.37" cy="279.39" r="1.95" fill="#f40000"/><circle cx="147.93" cy="280.82" r="1.95" fill="#f40000"/><circle cx="148.49" cy="282.77" r="1.95" fill="#f40000"/><circle cx="149.05" cy="285.33" r="1.95" fill="#f40000"/><circle cx="149.61" cy="288.59" r="1.95" fill="#f40000"/><circle cx="150.17" cy="292.74" r="1.95" fill="#f40000"/><circle cx="150.73" cy="298.08" r="1.95" fill="#f40000"/><circle cx="151.29" cy="305.14" r="1.95" fill="#f40000"/><circle cx="151.85" cy="315.14" r="1.95" fill="#f40000"/><circle cx="154.09" cy="322.18" r="1.95" fill="#f40000"/><circle cx="154.65" cy="312.97" r="1.95" fill="#f40000"/><circle cx="155.21" cy="307.38" r="1.95" fill="#f40000"/><circle cx="155.77" cy="303.91" r="1.95" fill="#f40000"/><circle cx="156.33" cy="301.97" r="1.95" fill="#f40000"/><circle cx="156.89" cy="301.26" r="1.95" fill="#f40000"/><circle cx="157.45" cy="301.70" r="1.95" fill="#f40000"/><circle cx="158.01" cy="303.27" r="1.95" fill="#f40000"/><circle cx="158.57" cy="306.10" r="1.95" fill="#f40000"/><circle cx="159.13" cy="310.46" r="1.95" fill="#f40000"/><circle cx="159.69" cy="316.91" r="1.95" fill="#f40000"/><circle cx="163.61" cy="319.56" r="1.95" fill="#f40000"/><circle cx="164.17" cy="317.97" r="1.95" fill="#f40000"/><circle cx="164.73" cy="318.50" r="1.95" fill="#f40000"/><circle cx="165.29" cy="321.16" r="1.95" fill="#f40000"/>
</g>
<rect x="46.60" y="175.30" width="145.00" height="145.20" fill="none" stroke="#505050" stroke-width="1.2"/>
<path d="M46.60 320.50v-4.5M46.60 175.30v4.5M63.37 320.50v-2.5M63.37 175.30v2.5M73.19 320.50v-2.5M73.19 175.30v2.5M80.15 320.50v-2.5M80.15 175.30v2.5M85.55 320.50v-2.5M85.55 175.30v2.5M89.96 320.50v-2.5M89.96 175.30v2.5M93.69 320.50v-2.5M93.69 175.30v2.5M96.92 320.50v-2.5M96.92 175.30v2.5M99.78 320.50v-2.5M99.78 175.30v2.5M102.33 320.50v-4.5M102.33 175.30v4.5M119.10 320.50v-2.5M119.10 175.30v2.5M128.91 320.50v-2.5M128.91 175.30v2.5M135.87 320.50v-2.5M135.87 175.30v2.5M141.28 320.50v-2.5M141.28 175.30v2.5M145.69 320.50v-2.5M145.69 175.30v2.5M149.42 320.50v-2.5M149.42 175.30v2.5M152.65 320.50v-2.5M152.65 175.30v2.5M155.50 320.50v-2.5M155.50 175.30v2.5M158.05 320.50v-4.5M158.05 175.30v4.5M174.83 320.50v-2.5M174.83 175.30v2.5M184.64 320.50v-2.5M184.64 175.30v2.5M191.60 320.50v-2.5M191.60 175.30v2.5" stroke="#505050" stroke-width="1" fill="none"/>
<text transform="translate(38.22 339.80) scale(0.89 1)" style="font-family:'Liberation Serif',serif;font-size:13.0px" fill="#111" stroke="#111" stroke-width="0.25">10</text><text transform="translate(49.33 333.10) scale(0.9 1)" style="font-family:'Liberation Serif',serif;font-size:8.2px" fill="#111" stroke="#111" stroke-width="0.25">-3</text>
<text transform="translate(94.00 339.80) scale(0.89 1)" style="font-family:'Liberation Serif',serif;font-size:13.0px" fill="#111" stroke="#111" stroke-width="0.25">10</text><text transform="translate(105.11 333.10) scale(0.9 1)" style="font-family:'Liberation Serif',serif;font-size:8.2px" fill="#111" stroke="#111" stroke-width="0.25">-2</text>
<text transform="translate(149.75 339.80) scale(0.89 1)" style="font-family:'Liberation Serif',serif;font-size:13.0px" fill="#111" stroke="#111" stroke-width="0.25">10</text><text transform="translate(160.85 333.10) scale(0.9 1)" style="font-family:'Liberation Serif',serif;font-size:8.2px" fill="#111" stroke="#111" stroke-width="0.25">-1</text>
<path d="M46.60 320.50h4.5M191.60 320.50h-4.5M46.60 311.76h2.2M191.60 311.76h-2.2M46.60 306.64h2.2M191.60 306.64h-2.2M46.60 303.02h2.2M191.60 303.02h-2.2M46.60 300.20h2.2M191.60 300.20h-2.2M46.60 297.90h2.2M191.60 297.90h-2.2M46.60 295.96h2.2M191.60 295.96h-2.2M46.60 294.27h2.2M191.60 294.27h-2.2M46.60 292.79h2.2M191.60 292.79h-2.2M46.60 291.46h4.5M191.60 291.46h-4.5M46.60 282.72h2.2M191.60 282.72h-2.2M46.60 277.60h2.2M191.60 277.60h-2.2M46.60 273.98h2.2M191.60 273.98h-2.2M46.60 271.16h2.2M191.60 271.16h-2.2M46.60 268.86h2.2M191.60 268.86h-2.2M46.60 266.92h2.2M191.60 266.92h-2.2M46.60 265.23h2.2M191.60 265.23h-2.2M46.60 263.75h2.2M191.60 263.75h-2.2M46.60 262.42h4.5M191.60 262.42h-4.5M46.60 253.68h2.2M191.60 253.68h-2.2M46.60 248.56h2.2M191.60 248.56h-2.2M46.60 244.94h2.2M191.60 244.94h-2.2M46.60 242.12h2.2M191.60 242.12h-2.2M46.60 239.82h2.2M191.60 239.82h-2.2M46.60 237.88h2.2M191.60 237.88h-2.2M46.60 236.19h2.2M191.60 236.19h-2.2M46.60 234.71h2.2M191.60 234.71h-2.2M46.60 233.38h4.5M191.60 233.38h-4.5M46.60 224.64h2.2M191.60 224.64h-2.2M46.60 219.52h2.2M191.60 219.52h-2.2M46.60 215.90h2.2M191.60 215.90h-2.2M46.60 213.08h2.2M191.60 213.08h-2.2M46.60 210.78h2.2M191.60 210.78h-2.2M46.60 208.84h2.2M191.60 208.84h-2.2M46.60 207.15h2.2M191.60 207.15h-2.2M46.60 205.67h2.2M191.60 205.67h-2.2M46.60 204.34h4.5M191.60 204.34h-4.5M46.60 195.60h2.2M191.60 195.60h-2.2M46.60 190.48h2.2M191.60 190.48h-2.2M46.60 186.86h2.2M191.60 186.86h-2.2M46.60 184.04h2.2M191.60 184.04h-2.2M46.60 181.74h2.2M191.60 181.74h-2.2M46.60 179.80h2.2M191.60 179.80h-2.2M46.60 178.11h2.2M191.60 178.11h-2.2M46.60 176.63h2.2M191.60 176.63h-2.2M46.60 175.30h4.5M191.60 175.30h-4.5" stroke="#505050" stroke-width="1" fill="none"/>
<text transform="translate(23.83 326.60) scale(0.89 1)" style="font-family:'Liberation Serif',serif;font-size:13.0px" fill="#111" stroke="#111" stroke-width="0.25">10</text><text transform="translate(34.93 319.90) scale(0.9 1)" style="font-family:'Liberation Serif',serif;font-size:8.2px" fill="#111" stroke="#111" stroke-width="0.25">-3</text>
<text transform="translate(23.94 297.56) scale(0.89 1)" style="font-family:'Liberation Serif',serif;font-size:13.0px" fill="#111" stroke="#111" stroke-width="0.25">10</text><text transform="translate(35.04 290.86) scale(0.9 1)" style="font-family:'Liberation Serif',serif;font-size:8.2px" fill="#111" stroke="#111" stroke-width="0.25">-2</text>
<text transform="translate(23.97 268.52) scale(0.89 1)" style="font-family:'Liberation Serif',serif;font-size:13.0px" fill="#111" stroke="#111" stroke-width="0.25">10</text><text transform="translate(35.08 261.82) scale(0.9 1)" style="font-family:'Liberation Serif',serif;font-size:8.2px" fill="#111" stroke="#111" stroke-width="0.25">-1</text>
<text transform="translate(26.30 239.48) scale(0.89 1)" style="font-family:'Liberation Serif',serif;font-size:13.0px" fill="#111" stroke="#111" stroke-width="0.25">10</text><text transform="translate(37.41 232.78) scale(0.9 1)" style="font-family:'Liberation Serif',serif;font-size:8.2px" fill="#111" stroke="#111" stroke-width="0.25">0</text>
<text transform="translate(26.45 210.44) scale(0.89 1)" style="font-family:'Liberation Serif',serif;font-size:13.0px" fill="#111" stroke="#111" stroke-width="0.25">10</text><text transform="translate(37.55 203.74) scale(0.9 1)" style="font-family:'Liberation Serif',serif;font-size:8.2px" fill="#111" stroke="#111" stroke-width="0.25">1</text>
<text transform="translate(26.41 181.40) scale(0.89 1)" style="font-family:'Liberation Serif',serif;font-size:13.0px" fill="#111" stroke="#111" stroke-width="0.25">10</text><text transform="translate(37.52 174.70) scale(0.9 1)" style="font-family:'Liberation Serif',serif;font-size:8.2px" fill="#111" stroke="#111" stroke-width="0.25">2</text>
<text transform="translate(119.20 358.60) scale(0.95 1)" text-anchor="middle" style="font-family:'Liberation Serif',serif;font-size:13.0px" fill="#111" stroke="#111" stroke-width="0.25"><tspan font-style="italic">Q</tspan> / Å<tspan font-size="8.2px" dy="-6.8">-1</tspan></text>
<g transform="translate(14.90 248.60) rotate(-90) scale(0.9300 1)"><text x="0" y="0" text-anchor="middle" style="font-family:'Liberation Serif',serif;font-size:13.0px" fill="#111" stroke="#111" stroke-width="0.25"><tspan font-style="italic">S</tspan><tspan font-size="8.2px" dy="2.2">ii</tspan><tspan dy="-2.2"> / ×10</tspan><tspan font-size="8.2px" dy="-6.8">20</tspan><tspan dy="6.8"> cm</tspan><tspan font-size="8.2px" dy="-6.8">3</tspan></text></g>
<circle cx="147.10" cy="196.50" r="3.0" fill="#f40000"/>
<text transform="translate(160.40 200.30) scale(0.95 1)" style="font-family:'Liberation Serif',serif;font-size:12.6px" fill="#111" stroke="#111" stroke-width="0.25">S<tspan font-size="9.4px" dy="2.1" letter-spacing="0.25">cc</tspan></text>
<path d="M147.10 205.35L151.20 209.45L147.10 213.55L143.00 209.45Z" fill="#009000"/>
<text transform="translate(160.40 213.25) scale(0.95 1)" style="font-family:'Liberation Serif',serif;font-size:12.6px" fill="#111" stroke="#111" stroke-width="0.25">S<tspan font-size="9.4px" dy="2.1" letter-spacing="0.25">pp</tspan></text>
<path d="M147.10 218.80L150.60 224.80L143.60 224.80Z" fill="#929200"/>
<text transform="translate(160.40 226.20) scale(0.95 1)" style="font-family:'Liberation Serif',serif;font-size:12.6px" fill="#111" stroke="#111" stroke-width="0.25">S<tspan font-size="9.4px" dy="2.1" letter-spacing="0.25">cp</tspan></text>
<text x="62.80" y="309.50" style="font-family:'Liberation Sans',sans-serif;font-size:15.3px" fill="#111">log plot</text>
<g clip-path="url(#cb)">
<path d="M262.70 258.89L265.50 261.69L262.70 264.49L259.90 261.69Z" fill="#009000"/><path d="M263.27 258.89L266.07 261.69L263.27 264.49L260.47 261.69Z" fill="#009000"/><path d="M263.84 258.89L266.64 261.69L263.84 264.49L261.04 261.69Z" fill="#009000"/><path d="M264.41 258.89L267.21 261.69L264.41 264.49L261.61 261.69Z" fill="#009000"/><path d="M264.98 258.89L267.78 261.69L264.98 264.49L262.18 261.69Z" fill="#009000"/><path d="M265.55 258.89L268.35 261.69L265.55 264.49L262.75 261.69Z" fill="#009000"/><path d="M266.12 258.89L268.92 261.69L266.12 264.49L263.32 261.69Z" fill="#009000"/><path d="M266.69 258.89L269.49 261.69L266.69 264.49L263.89 261.69Z" fill="#009000"/><path d="M267.26 258.89L270.06 261.69L267.26 264.49L264.46 261.69Z" fill="#009000"/><path d="M267.83 258.89L270.63 261.69L267.83 264.49L265.03 261.69Z" fill="#009000"/><path d="M268.39 258.89L271.19 261.69L268.39 264.49L265.59 261.69Z" fill="#009000"/><path d="M268.96 258.89L271.76 261.69L268.96 264.49L266.16 261.69Z" fill="#009000"/><path d="M269.53 258.89L272.33 261.69L269.53 264.49L266.73 261.69Z" fill="#009000"/><path d="M270.10 258.89L272.90 261.69L270.10 264.49L267.30 261.69Z" fill="#009000"/><path d="M270.67 258.89L273.47 261.69L270.67 264.49L267.87 261.69Z" fill="#009000"/><path d="M271.24 258.89L274.04 261.69L271.24 264.49L268.44 261.69Z" fill="#009000"/><path d="M271.81 258.89L274.61 261.69L271.81 264.49L269.01 261.69Z" fill="#009000"/><path d="M272.38 258.89L275.18 261.69L272.38 264.49L269.58 261.69Z" fill="#009000"/><path d="M272.95 258.89L275.75 261.69L272.95 264.49L270.15 261.69Z" fill="#009000"/><path d="M273.52 258.89L276.32 261.69L273.52 264.49L270.72 261.69Z" fill="#009000"/><path d="M274.09 258.89L276.89 261.69L274.09 264.49L271.29 261.69Z" fill="#009000"/><path d="M274.66 258.89L277.46 261.69L274.66 264.49L271.86 261.69Z" fill="#009000"/><path d="M275.23 258.89L278.03 261.69L275.23 264.49L272.43 261.69Z" fill="#009000"/><path d="M275.80 258.89L278.60 261.69L275.80 264.49L273.00 261.69Z" fill="#009000"/><path d="M276.37 258.89L279.17 261.69L276.37 264.49L273.57 261.69Z" fill="#009000"/><path d="M276.94 258.89L279.74 261.69L276.94 264.49L274.14 261.69Z" fill="#009000"/><path d="M277.51 258.89L280.31 261.69L277.51 264.49L274.71 261.69Z" fill="#009000"/><path d="M278.08 258.89L280.88 261.69L278.08 264.49L275.28 261.69Z" fill="#009000"/><path d="M278.65 258.90L281.45 261.70L278.65 264.50L275.85 261.70Z" fill="#009000"/><path d="M279.22 258.90L282.02 261.70L279.22 264.50L276.42 261.70Z" fill="#009000"/><path d="M279.78 258.90L282.58 261.70L279.78 264.50L276.98 261.70Z" fill="#009000"/><path d="M280.35 258.90L283.15 261.70L280.35 264.50L277.55 261.70Z" fill="#009000"/><path d="M280.92 258.90L283.72 261.70L280.92 264.50L278.12 261.70Z" fill="#009000"/><path d="M281.49 258.90L284.29 261.70L281.49 264.50L278.69 261.70Z" fill="#009000"/><path d="M282.06 258.90L284.86 261.70L282.06 264.50L279.26 261.70Z" fill="#009000"/><path d="M282.63 258.90L285.43 261.70L282.63 264.50L279.83 261.70Z" fill="#009000"/><path d="M283.20 258.90L286.00 261.70L283.20 264.50L280.40 261.70Z" fill="#009000"/><path d="M283.77 258.90L286.57 261.70L283.77 264.50L280.97 261.70Z" fill="#009000"/><path d="M284.34 258.90L287.14 261.70L284.34 264.50L281.54 261.70Z" fill="#009000"/><path d="M284.91 258.90L287.71 261.70L284.91 264.50L282.11 261.70Z" fill="#009000"/><path d="M285.48 258.90L288.28 261.70L285.48 264.50L282.68 261.70Z" fill="#009000"/><path d="M286.05 258.90L288.85 261.70L286.05 264.50L283.25 261.70Z" fill="#009000"/><path d="M286.62 258.90L289.42 261.70L286.62 264.50L283.82 261.70Z" fill="#009000"/><path d="M287.19 258.90L289.99 261.70L287.19 264.50L284.39 261.70Z" fill="#009000"/><path d="M287.76 258.90L290.56 261.70L287.76 264.50L284.96 261.70Z" fill="#009000"/><path d="M288.33 258.90L291.13 261.70L288.33 264.50L285.53 261.70Z" fill="#009000"/><path d="M288.90 258.90L291.70 261.70L288.90 264.50L286.10 261.70Z" fill="#009000"/><path d="M289.47 258.90L292.27 261.70L289.47 264.50L286.67 261.70Z" fill="#009000"/><path d="M290.04 258.90L292.84 261.70L290.04 264.50L287.24 261.70Z" fill="#009000"/><path d="M290.61 258.90L293.41 261.70L290.61 264.50L287.81 261.70Z" fill="#009000"/><path d="M291.17 258.90L293.97 261.70L291.17 264.50L288.37 261.70Z" fill="#009000"/><path d="M291.74 258.91L294.54 261.71L291.74 264.51L288.94 261.71Z" fill="#009000"/><path d="M292.31 258.91L295.11 261.71L292.31 264.51L289.51 261.71Z" fill="#009000"/><path d="M292.88 258.91L295.68 261.71L292.88 264.51L290.08 261.71Z" fill="#009000"/><path d="M293.45 258.91L296.25 261.71L293.45 264.51L290.65 261.71Z" fill="#009000"/><path d="M294.02 258.91L296.82 261.71L294.02 264.51L291.22 261.71Z" fill="#009000"/><path d="M294.59 258.91L297.39 261.71L294.59 264.51L291.79 261.71Z" fill="#009000"/><path d="M295.16 258.91L297.96 261.71L295.16 264.51L292.36 261.71Z" fill="#009000"/><path d="M295.73 258.91L298.53 261.71L295.73 264.51L292.93 261.71Z" fill="#009000"/><path d="M296.30 258.91L299.10 261.71L296.30 264.51L293.50 261.71Z" fill="#009000"/><path d="M296.87 258.91L299.67 261.71L296.87 264.51L294.07 261.71Z" fill="#009000"/><path d="M297.44 258.91L300.24 261.71L297.44 264.51L294.64 261.71Z" fill="#009000"/><path d="M298.01 258.92L300.81 261.72L298.01 264.52L295.21 261.72Z" fill="#009000"/><path d="M298.58 258.92L301.38 261.72L298.58 264.52L295.78 261.72Z" fill="#009000"/><path d="M299.15 258.92L301.95 261.72L299.15 264.52L296.35 261.72Z" fill="#009000"/><path d="M299.72 258.92L302.52 261.72L299.72 264.52L296.92 261.72Z" fill="#009000"/><path d="M300.29 258.92L303.09 261.72L300.29 264.52L297.49 261.72Z" fill="#009000"/><path d="M300.86 258.92L303.66 261.72L300.86 264.52L298.06 261.72Z" fill="#009000"/><path d="M301.43 258.92L304.23 261.72L301.43 264.52L298.63 261.72Z" fill="#009000"/><path d="M302.00 258.93L304.80 261.73L302.00 264.53L299.20 261.73Z" fill="#009000"/><path d="M302.56 258.93L305.36 261.73L302.56 264.53L299.76 261.73Z" fill="#009000"/><path d="M303.13 258.93L305.93 261.73L303.13 264.53L300.33 261.73Z" fill="#009000"/><path d="M303.70 258.93L306.50 261.73L303.70 264.53L300.90 261.73Z" fill="#009000"/><path d="M304.27 258.93L307.07 261.73L304.27 264.53L301.47 261.73Z" fill="#009000"/><path d="M304.84 258.93L307.64 261.73L304.84 264.53L302.04 261.73Z" fill="#009000"/><path d="M305.41 258.94L308.21 261.74L305.41 264.54L302.61 261.74Z" fill="#009000"/><path d="M305.98 258.94L308.78 261.74L305.98 264.54L303.18 261.74Z" fill="#009000"/><path d="M306.55 258.94L309.35 261.74L306.55 264.54L303.75 261.74Z" fill="#009000"/><path d="M307.12 258.94L309.92 261.74L307.12 264.54L304.32 261.74Z" fill="#009000"/><path d="M307.69 258.95L310.49 261.75L307.69 264.55L304.89 261.75Z" fill="#009000"/><path d="M308.26 258.95L311.06 261.75L308.26 264.55L305.46 261.75Z" fill="#009000"/><path d="M308.83 258.95L311.63 261.75L308.83 264.55L306.03 261.75Z" fill="#009000"/><path d="M309.40 258.95L312.20 261.75L309.40 264.55L306.60 261.75Z" fill="#009000"/><path d="M309.97 258.96L312.77 261.76L309.97 264.56L307.17 261.76Z" fill="#009000"/><path d="M310.54 258.96L313.34 261.76L310.54 264.56L307.74 261.76Z" fill="#009000"/><path d="M311.11 258.96L313.91 261.76L311.11 264.56L308.31 261.76Z" fill="#009000"/><path d="M311.68 258.97L314.48 261.77L311.68 264.57L308.88 261.77Z" fill="#009000"/><path d="M312.25 258.97L315.05 261.77L312.25 264.57L309.45 261.77Z" fill="#009000"/><path d="M312.82 258.98L315.62 261.78L312.82 264.58L310.02 261.78Z" fill="#009000"/><path d="M313.39 258.98L316.19 261.78L313.39 264.58L310.59 261.78Z" fill="#009000"/><path d="M313.95 258.98L316.75 261.78L313.95 264.58L311.15 261.78Z" fill="#009000"/><path d="M314.52 258.99L317.32 261.79L314.52 264.59L311.72 261.79Z" fill="#009000"/><path d="M315.09 258.99L317.89 261.79L315.09 264.59L312.29 261.79Z" fill="#009000"/><path d="M315.66 259.00L318.46 261.80L315.66 264.60L312.86 261.80Z" fill="#009000"/><path d="M316.23 259.00L319.03 261.80L316.23 264.60L313.43 261.80Z" fill="#009000"/><path d="M316.80 259.01L319.60 261.81L316.80 264.61L314.00 261.81Z" fill="#009000"/><path d="M317.37 259.01L320.17 261.81L317.37 264.61L314.57 261.81Z" fill="#009000"/><path d="M317.94 259.02L320.74 261.82L317.94 264.62L315.14 261.82Z" fill="#009000"/><path d="M318.51 259.03L321.31 261.83L318.51 264.63L315.71 261.83Z" fill="#009000"/><path d="M319.08 259.03L321.88 261.83L319.08 264.63L316.28 261.83Z" fill="#009000"/><path d="M319.65 259.04L322.45 261.84L319.65 264.64L316.85 261.84Z" fill="#009000"/><path d="M320.22 259.05L323.02 261.85L320.22 264.65L317.42 261.85Z" fill="#009000"/><path d="M320.79 259.05L323.59 261.85L320.79 264.65L317.99 261.85Z" fill="#009000"/><path d="M321.36 259.06L324.16 261.86L321.36 264.66L318.56 261.86Z" fill="#009000"/><path d="M321.93 259.07L324.73 261.87L321.93 264.67L319.13 261.87Z" fill="#009000"/><path d="M322.50 259.08L325.30 261.88L322.50 264.68L319.70 261.88Z" fill="#009000"/><path d="M323.07 259.09L325.87 261.89L323.07 264.69L320.27 261.89Z" fill="#009000"/><path d="M323.64 259.09L326.44 261.89L323.64 264.69L320.84 261.89Z" fill="#009000"/><path d="M324.21 259.10L327.01 261.90L324.21 264.70L321.41 261.90Z" fill="#009000"/><path d="M324.78 259.11L327.58 261.91L324.78 264.71L321.98 261.91Z" fill="#009000"/><path d="M325.34 259.13L328.14 261.93L325.34 264.73L322.54 261.93Z" fill="#009000"/><path d="M325.91 259.14L328.71 261.94L325.91 264.74L323.11 261.94Z" fill="#009000"/><path d="M326.48 259.15L329.28 261.95L326.48 264.75L323.68 261.95Z" fill="#009000"/><path d="M327.05 259.16L329.85 261.96L327.05 264.76L324.25 261.96Z" fill="#009000"/><path d="M327.62 259.17L330.42 261.97L327.62 264.77L324.82 261.97Z" fill="#009000"/><path d="M328.19 259.19L330.99 261.99L328.19 264.79L325.39 261.99Z" fill="#009000"/><path d="M328.76 259.20L331.56 262.00L328.76 264.80L325.96 262.00Z" fill="#009000"/><path d="M329.33 259.21L332.13 262.01L329.33 264.81L326.53 262.01Z" fill="#009000"/><path d="M329.90 259.23L332.70 262.03L329.90 264.83L327.10 262.03Z" fill="#009000"/><path d="M330.47 259.24L333.27 262.04L330.47 264.84L327.67 262.04Z" fill="#009000"/><path d="M331.04 259.26L333.84 262.06L331.04 264.86L328.24 262.06Z" fill="#009000"/><path d="M331.61 259.28L334.41 262.08L331.61 264.88L328.81 262.08Z" fill="#009000"/><path d="M332.18 259.30L334.98 262.10L332.18 264.90L329.38 262.10Z" fill="#009000"/><path d="M332.75 259.32L335.55 262.12L332.75 264.92L329.95 262.12Z" fill="#009000"/><path d="M333.32 259.34L336.12 262.14L333.32 264.94L330.52 262.14Z" fill="#009000"/><path d="M333.89 259.36L336.69 262.16L333.89 264.96L331.09 262.16Z" fill="#009000"/><path d="M334.46 259.38L337.26 262.18L334.46 264.98L331.66 262.18Z" fill="#009000"/><path d="M335.03 259.40L337.83 262.20L335.03 265.00L332.23 262.20Z" fill="#009000"/><path d="M335.60 259.42L338.40 262.22L335.60 265.02L332.80 262.22Z" fill="#009000"/><path d="M336.17 259.45L338.97 262.25L336.17 265.05L333.37 262.25Z" fill="#009000"/><path d="M336.73 259.47L339.53 262.27L336.73 265.07L333.93 262.27Z" fill="#009000"/><path d="M337.30 259.50L340.10 262.30L337.30 265.10L334.50 262.30Z" fill="#009000"/><path d="M337.87 259.53L340.67 262.33L337.87 265.13L335.07 262.33Z" fill="#009000"/><path d="M338.44 259.56L341.24 262.36L338.44 265.16L335.64 262.36Z" fill="#009000"/><path d="M339.01 259.59L341.81 262.39L339.01 265.19L336.21 262.39Z" fill="#009000"/><path d="M339.58 259.62L342.38 262.42L339.58 265.22L336.78 262.42Z" fill="#009000"/><path d="M340.15 259.65L342.95 262.45L340.15 265.25L337.35 262.45Z" fill="#009000"/><path d="M340.72 259.69L343.52 262.49L340.72 265.29L337.92 262.49Z" fill="#009000"/><path d="M341.29 259.73L344.09 262.53L341.29 265.33L338.49 262.53Z" fill="#009000"/><path d="M341.86 259.76L344.66 262.56L341.86 265.36L339.06 262.56Z" fill="#009000"/><path d="M342.43 259.80L345.23 262.60L342.43 265.40L339.63 262.60Z" fill="#009000"/><path d="M343.00 259.85L345.80 262.65L343.00 265.45L340.20 262.65Z" fill="#009000"/><path d="M343.57 259.89L346.37 262.69L343.57 265.49L340.77 262.69Z" fill="#009000"/><path d="M344.14 259.93L346.94 262.73L344.14 265.53L341.34 262.73Z" fill="#009000"/><path d="M344.71 259.98L347.51 262.78L344.71 265.58L341.91 262.78Z" fill="#009000"/><path d="M345.28 260.03L348.08 262.83L345.28 265.63L342.48 262.83Z" fill="#009000"/><path d="M345.85 260.08L348.65 262.88L345.85 265.68L343.05 262.88Z" fill="#009000"/><path d="M346.42 260.13L349.22 262.93L346.42 265.73L343.62 262.93Z" fill="#009000"/><path d="M346.99 260.19L349.79 262.99L346.99 265.79L344.19 262.99Z" fill="#009000"/><path d="M347.56 260.25L350.36 263.05L347.56 265.85L344.76 263.05Z" fill="#009000"/><path d="M348.12 260.31L350.92 263.11L348.12 265.91L345.32 263.11Z" fill="#009000"/><path d="M348.69 260.37L351.49 263.17L348.69 265.97L345.89 263.17Z" fill="#009000"/><path d="M349.26 260.44L352.06 263.24L349.26 266.04L346.46 263.24Z" fill="#009000"/><path d="M349.83 260.50L352.63 263.30L349.83 266.10L347.03 263.30Z" fill="#009000"/><path d="M350.40 260.58L353.20 263.38L350.40 266.18L347.60 263.38Z" fill="#009000"/><path d="M350.97 260.65L353.77 263.45L350.97 266.25L348.17 263.45Z" fill="#009000"/><path d="M351.54 260.73L354.34 263.53L351.54 266.33L348.74 263.53Z" fill="#009000"/><path d="M352.11 260.81L354.91 263.61L352.11 266.41L349.31 263.61Z" fill="#009000"/><path d="M352.68 260.89L355.48 263.69L352.68 266.49L349.88 263.69Z" fill="#009000"/><path d="M353.25 260.97L356.05 263.77L353.25 266.57L350.45 263.77Z" fill="#009000"/><path d="M353.82 261.06L356.62 263.86L353.82 266.66L351.02 263.86Z" fill="#009000"/><path d="M354.39 261.16L357.19 263.96L354.39 266.76L351.59 263.96Z" fill="#009000"/><path d="M354.96 261.25L357.76 264.05L354.96 266.85L352.16 264.05Z" fill="#009000"/><path d="M355.53 261.35L358.33 264.15L355.53 266.95L352.73 264.15Z" fill="#009000"/><path d="M356.10 261.46L358.90 264.26L356.10 267.06L353.30 264.26Z" fill="#009000"/><path d="M356.67 261.56L359.47 264.36L356.67 267.16L353.87 264.36Z" fill="#009000"/><path d="M357.24 261.68L360.04 264.48L357.24 267.28L354.44 264.48Z" fill="#009000"/><path d="M357.81 261.79L360.61 264.59L357.81 267.39L355.01 264.59Z" fill="#009000"/><path d="M358.38 261.91L361.18 264.71L358.38 267.51L355.58 264.71Z" fill="#009000"/><path d="M358.95 262.04L361.75 264.84L358.95 267.64L356.15 264.84Z" fill="#009000"/><path d="M359.51 262.16L362.31 264.96L359.51 267.76L356.71 264.96Z" fill="#009000"/><path d="M360.08 262.30L362.88 265.10L360.08 267.90L357.28 265.10Z" fill="#009000"/><path d="M360.65 262.44L363.45 265.24L360.65 268.04L357.85 265.24Z" fill="#009000"/><path d="M361.22 262.58L364.02 265.38L361.22 268.18L358.42 265.38Z" fill="#009000"/><path d="M361.79 262.72L364.59 265.52L361.79 268.32L358.99 265.52Z" fill="#009000"/><path d="M362.36 262.88L365.16 265.68L362.36 268.48L359.56 265.68Z" fill="#009000"/><path d="M362.93 263.03L365.73 265.83L362.93 268.63L360.13 265.83Z" fill="#009000"/><path d="M363.50 263.20L366.30 266.00L363.50 268.80L360.70 266.00Z" fill="#009000"/><path d="M364.07 263.36L366.87 266.16L364.07 268.96L361.27 266.16Z" fill="#009000"/><path d="M364.64 263.53L367.44 266.33L364.64 269.13L361.84 266.33Z" fill="#009000"/><path d="M365.21 263.71L368.01 266.51L365.21 269.31L362.41 266.51Z" fill="#009000"/><path d="M365.78 263.89L368.58 266.69L365.78 269.49L362.98 266.69Z" fill="#009000"/><path d="M366.35 264.08L369.15 266.88L366.35 269.68L363.55 266.88Z" fill="#009000"/><path d="M366.92 264.28L369.72 267.08L366.92 269.88L364.12 267.08Z" fill="#009000"/><path d="M367.49 264.48L370.29 267.28L367.49 270.08L364.69 267.28Z" fill="#009000"/><path d="M368.06 264.68L370.86 267.48L368.06 270.28L365.26 267.48Z" fill="#009000"/><path d="M368.63 264.89L371.43 267.69L368.63 270.49L365.83 267.69Z" fill="#009000"/><path d="M369.20 265.11L372.00 267.91L369.20 270.71L366.40 267.91Z" fill="#009000"/><path d="M369.77 265.33L372.57 268.13L369.77 270.93L366.97 268.13Z" fill="#009000"/><path d="M370.34 265.56L373.14 268.36L370.34 271.16L367.54 268.36Z" fill="#009000"/><path d="M370.90 265.79L373.70 268.59L370.90 271.39L368.10 268.59Z" fill="#009000"/><path d="M371.47 266.03L374.27 268.83L371.47 271.63L368.67 268.83Z" fill="#009000"/><path d="M372.04 266.27L374.84 269.07L372.04 271.87L369.24 269.07Z" fill="#009000"/><path d="M372.61 266.53L375.41 269.33L372.61 272.13L369.81 269.33Z" fill="#009000"/><path d="M373.18 266.78L375.98 269.58L373.18 272.38L370.38 269.58Z" fill="#009000"/><path d="M373.75 267.04L376.55 269.84L373.75 272.64L370.95 269.84Z" fill="#009000"/><path d="M374.32 267.31L377.12 270.11L374.32 272.91L371.52 270.11Z" fill="#009000"/><path d="M374.89 267.59L377.69 270.39L374.89 273.19L372.09 270.39Z" fill="#009000"/><path d="M375.46 267.87L378.26 270.67L375.46 273.47L372.66 270.67Z" fill="#009000"/><path d="M376.03 268.15L378.83 270.95L376.03 273.75L373.23 270.95Z" fill="#009000"/><path d="M376.60 268.44L379.40 271.24L376.60 274.04L373.80 271.24Z" fill="#009000"/><path d="M377.17 268.74L379.97 271.54L377.17 274.34L374.37 271.54Z" fill="#009000"/><path d="M377.74 269.04L380.54 271.84L377.74 274.64L374.94 271.84Z" fill="#009000"/><path d="M378.31 269.35L381.11 272.15L378.31 274.95L375.51 272.15Z" fill="#009000"/><path d="M378.88 269.66L381.68 272.46L378.88 275.26L376.08 272.46Z" fill="#009000"/><path d="M379.45 269.98L382.25 272.78L379.45 275.58L376.65 272.78Z" fill="#009000"/><path d="M380.02 270.31L382.82 273.11L380.02 275.91L377.22 273.11Z" fill="#009000"/><path d="M380.59 270.63L383.39 273.43L380.59 276.23L377.79 273.43Z" fill="#009000"/><path d="M381.16 270.97L383.96 273.77L381.16 276.57L378.36 273.77Z" fill="#009000"/><path d="M381.73 271.31L384.53 274.11L381.73 276.91L378.93 274.11Z" fill="#009000"/><path d="M382.29 271.65L385.09 274.45L382.29 277.25L379.49 274.45Z" fill="#009000"/><path d="M382.86 272.00L385.66 274.80L382.86 277.60L380.06 274.80Z" fill="#009000"/><path d="M383.43 272.36L386.23 275.16L383.43 277.96L380.63 275.16Z" fill="#009000"/><path d="M384.00 272.72L386.80 275.52L384.00 278.32L381.20 275.52Z" fill="#009000"/><path d="M384.57 273.08L387.37 275.88L384.57 278.68L381.77 275.88Z" fill="#009000"/><path d="M385.14 273.45L387.94 276.25L385.14 279.05L382.34 276.25Z" fill="#009000"/><path d="M385.71 273.82L388.51 276.62L385.71 279.42L382.91 276.62Z" fill="#009000"/><path d="M386.28 274.20L389.08 277.00L386.28 279.80L383.48 277.00Z" fill="#009000"/><path d="M386.85 274.58L389.65 277.38L386.85 280.18L384.05 277.38Z" fill="#009000"/><path d="M387.42 274.97L390.22 277.77L387.42 280.57L384.62 277.77Z" fill="#009000"/><path d="M387.99 275.36L390.79 278.16L387.99 280.96L385.19 278.16Z" fill="#009000"/><path d="M388.56 275.75L391.36 278.55L388.56 281.35L385.76 278.55Z" fill="#009000"/><path d="M389.13 276.15L391.93 278.95L389.13 281.75L386.33 278.95Z" fill="#009000"/><path d="M389.70 276.55L392.50 279.35L389.70 282.15L386.90 279.35Z" fill="#009000"/><path d="M390.27 276.96L393.07 279.76L390.27 282.56L387.47 279.76Z" fill="#009000"/><path d="M390.84 277.37L393.64 280.17L390.84 282.97L388.04 280.17Z" fill="#009000"/><path d="M391.41 277.78L394.21 280.58L391.41 283.38L388.61 280.58Z" fill="#009000"/><path d="M391.98 278.19L394.78 280.99L391.98 283.79L389.18 280.99Z" fill="#009000"/><path d="M392.55 278.61L395.35 281.41L392.55 284.21L389.75 281.41Z" fill="#009000"/><path d="M393.12 279.03L395.92 281.83L393.12 284.63L390.32 281.83Z" fill="#009000"/><path d="M393.68 279.46L396.48 282.26L393.68 285.06L390.88 282.26Z" fill="#009000"/><path d="M394.25 279.89L397.05 282.69L394.25 285.49L391.45 282.69Z" fill="#009000"/><path d="M394.82 280.32L397.62 283.12L394.82 285.92L392.02 283.12Z" fill="#009000"/><path d="M395.39 280.75L398.19 283.55L395.39 286.35L392.59 283.55Z" fill="#009000"/><path d="M395.96 281.19L398.76 283.99L395.96 286.79L393.16 283.99Z" fill="#009000"/><path d="M396.53 281.63L399.33 284.43L396.53 287.23L393.73 284.43Z" fill="#009000"/><path d="M397.10 282.07L399.90 284.87L397.10 287.67L394.30 284.87Z" fill="#009000"/><path d="M397.67 282.51L400.47 285.31L397.67 288.11L394.87 285.31Z" fill="#009000"/><path d="M398.24 282.96L401.04 285.76L398.24 288.56L395.44 285.76Z" fill="#009000"/><path d="M398.81 283.41L401.61 286.21L398.81 289.01L396.01 286.21Z" fill="#009000"/><path d="M399.38 283.86L402.18 286.66L399.38 289.46L396.58 286.66Z" fill="#009000"/><path d="M399.95 284.31L402.75 287.11L399.95 289.91L397.15 287.11Z" fill="#009000"/><path d="M400.52 284.77L403.32 287.57L400.52 290.37L397.72 287.57Z" fill="#009000"/><path d="M401.09 285.22L403.89 288.02L401.09 290.82L398.29 288.02Z" fill="#009000"/><path d="M401.66 285.68L404.46 288.48L401.66 291.28L398.86 288.48Z" fill="#009000"/><path d="M402.23 286.14L405.03 288.94L402.23 291.74L399.43 288.94Z" fill="#009000"/><path d="M402.80 286.61L405.60 289.41L402.80 292.21L400.00 289.41Z" fill="#009000"/><path d="M403.37 287.07L406.17 289.87L403.37 292.67L400.57 289.87Z" fill="#009000"/><path d="M403.94 287.54L406.74 290.34L403.94 293.14L401.14 290.34Z" fill="#009000"/><path d="M404.51 288.00L407.31 290.80L404.51 293.60L401.71 290.80Z" fill="#009000"/><path d="M405.07 288.47L407.87 291.27L405.07 294.07L402.27 291.27Z" fill="#009000"/><path d="M405.64 288.94L408.44 291.74L405.64 294.54L402.84 291.74Z" fill="#009000"/><path d="M406.21 289.41L409.01 292.21L406.21 295.01L403.41 292.21Z" fill="#009000"/><path d="M406.78 289.88L409.58 292.68L406.78 295.48L403.98 292.68Z" fill="#009000"/><path d="M407.35 290.36L410.15 293.16L407.35 295.96L404.55 293.16Z" fill="#009000"/><path d="M407.92 290.83L410.72 293.63L407.92 296.43L405.12 293.63Z" fill="#009000"/><path d="M408.49 291.31L411.29 294.11L408.49 296.91L405.69 294.11Z" fill="#009000"/><path d="M409.06 291.79L411.86 294.59L409.06 297.39L406.26 294.59Z" fill="#009000"/><path d="M409.63 292.27L412.43 295.07L409.63 297.87L406.83 295.07Z" fill="#009000"/><path d="M410.20 292.74L413.00 295.54L410.20 298.34L407.40 295.54Z" fill="#009000"/>
<circle cx="262.70" cy="214.05" r="1.95" fill="#f40000"/><circle cx="263.27" cy="214.06" r="1.95" fill="#f40000"/><circle cx="263.84" cy="214.06" r="1.95" fill="#f40000"/><circle cx="264.41" cy="214.06" r="1.95" fill="#f40000"/><circle cx="264.98" cy="214.06" r="1.95" fill="#f40000"/><circle cx="265.55" cy="214.06" r="1.95" fill="#f40000"/><circle cx="266.12" cy="214.06" r="1.95" fill="#f40000"/><circle cx="266.69" cy="214.06" r="1.95" fill="#f40000"/><circle cx="267.26" cy="214.07" r="1.95" fill="#f40000"/><circle cx="267.83" cy="214.07" r="1.95" fill="#f40000"/><circle cx="268.39" cy="214.07" r="1.95" fill="#f40000"/><circle cx="268.96" cy="214.07" r="1.95" fill="#f40000"/><circle cx="269.53" cy="214.07" r="1.95" fill="#f40000"/><circle cx="270.10" cy="214.08" r="1.95" fill="#f40000"/><circle cx="270.67" cy="214.08" r="1.95" fill="#f40000"/><circle cx="271.24" cy="214.08" r="1.95" fill="#f40000"/><circle cx="271.81" cy="214.08" r="1.95" fill="#f40000"/><circle cx="272.38" cy="214.08" r="1.95" fill="#f40000"/><circle cx="272.95" cy="214.09" r="1.95" fill="#f40000"/><circle cx="273.52" cy="214.09" r="1.95" fill="#f40000"/><circle cx="274.09" cy="214.09" r="1.95" fill="#f40000"/><circle cx="274.66" cy="214.10" r="1.95" fill="#f40000"/><circle cx="275.23" cy="214.10" r="1.95" fill="#f40000"/><circle cx="275.80" cy="214.10" r="1.95" fill="#f40000"/><circle cx="276.37" cy="214.11" r="1.95" fill="#f40000"/><circle cx="276.94" cy="214.11" r="1.95" fill="#f40000"/><circle cx="277.51" cy="214.11" r="1.95" fill="#f40000"/><circle cx="278.08" cy="214.12" r="1.95" fill="#f40000"/><circle cx="278.65" cy="214.12" r="1.95" fill="#f40000"/><circle cx="279.22" cy="214.13" r="1.95" fill="#f40000"/><circle cx="279.78" cy="214.13" r="1.95" fill="#f40000"/><circle cx="280.35" cy="214.13" r="1.95" fill="#f40000"/><circle cx="280.92" cy="214.14" r="1.95" fill="#f40000"/><circle cx="281.49" cy="214.14" r="1.95" fill="#f40000"/><circle cx="282.06" cy="214.15" r="1.95" fill="#f40000"/><circle cx="282.63" cy="214.16" r="1.95" fill="#f40000"/><circle cx="283.20" cy="214.16" r="1.95" fill="#f40000"/><circle cx="283.77" cy="214.17" r="1.95" fill="#f40000"/><circle cx="284.34" cy="214.18" r="1.95" fill="#f40000"/><circle cx="284.91" cy="214.18" r="1.95" fill="#f40000"/><circle cx="285.48" cy="214.19" r="1.95" fill="#f40000"/><circle cx="286.05" cy="214.20" r="1.95" fill="#f40000"/><circle cx="286.62" cy="214.20" r="1.95" fill="#f40000"/><circle cx="287.19" cy="214.21" r="1.95" fill="#f40000"/><circle cx="287.76" cy="214.22" r="1.95" fill="#f40000"/><circle cx="288.33" cy="214.23" r="1.95" fill="#f40000"/><circle cx="288.90" cy="214.24" r="1.95" fill="#f40000"/><circle cx="289.47" cy="214.25" r="1.95" fill="#f40000"/><circle cx="290.04" cy="214.26" r="1.95" fill="#f40000"/><circle cx="290.61" cy="214.27" r="1.95" fill="#f40000"/><circle cx="291.17" cy="214.28" r="1.95" fill="#f40000"/><circle cx="291.74" cy="214.30" r="1.95" fill="#f40000"/><circle cx="292.31" cy="214.31" r="1.95" fill="#f40000"/><circle cx="292.88" cy="214.32" r="1.95" fill="#f40000"/><circle cx="293.45" cy="214.33" r="1.95" fill="#f40000"/><circle cx="294.02" cy="214.35" r="1.95" fill="#f40000"/><circle cx="294.59" cy="214.36" r="1.95" fill="#f40000"/><circle cx="295.16" cy="214.38" r="1.95" fill="#f40000"/><circle cx="295.73" cy="214.40" r="1.95" fill="#f40000"/><circle cx="296.30" cy="214.41" r="1.95" fill="#f40000"/><circle cx="296.87" cy="214.43" r="1.95" fill="#f40000"/><circle cx="297.44" cy="214.45" r="1.95" fill="#f40000"/><circle cx="298.01" cy="214.47" r="1.95" fill="#f40000"/><circle cx="298.58" cy="214.49" r="1.95" fill="#f40000"/><circle cx="299.15" cy="214.52" r="1.95" fill="#f40000"/><circle cx="299.72" cy="214.54" r="1.95" fill="#f40000"/><circle cx="300.29" cy="214.56" r="1.95" fill="#f40000"/><circle cx="300.86" cy="214.59" r="1.95" fill="#f40000"/><circle cx="301.43" cy="214.61" r="1.95" fill="#f40000"/><circle cx="302.00" cy="214.64" r="1.95" fill="#f40000"/><circle cx="302.56" cy="214.67" r="1.95" fill="#f40000"/><circle cx="303.13" cy="214.70" r="1.95" fill="#f40000"/><circle cx="303.70" cy="214.73" r="1.95" fill="#f40000"/><circle cx="304.27" cy="214.77" r="1.95" fill="#f40000"/><circle cx="304.84" cy="214.80" r="1.95" fill="#f40000"/><circle cx="305.41" cy="214.84" r="1.95" fill="#f40000"/><circle cx="305.98" cy="214.88" r="1.95" fill="#f40000"/><circle cx="306.55" cy="214.92" r="1.95" fill="#f40000"/><circle cx="307.12" cy="214.96" r="1.95" fill="#f40000"/><circle cx="307.69" cy="215.00" r="1.95" fill="#f40000"/><circle cx="308.26" cy="215.05" r="1.95" fill="#f40000"/><circle cx="308.83" cy="215.10" r="1.95" fill="#f40000"/><circle cx="309.40" cy="215.15" r="1.95" fill="#f40000"/><circle cx="309.97" cy="215.20" r="1.95" fill="#f40000"/><circle cx="310.54" cy="215.26" r="1.95" fill="#f40000"/><circle cx="311.11" cy="215.32" r="1.95" fill="#f40000"/><circle cx="311.68" cy="215.38" r="1.95" fill="#f40000"/><circle cx="312.25" cy="215.44" r="1.95" fill="#f40000"/><circle cx="312.82" cy="215.51" r="1.95" fill="#f40000"/><circle cx="313.39" cy="215.58" r="1.95" fill="#f40000"/><circle cx="313.95" cy="215.66" r="1.95" fill="#f40000"/><circle cx="314.52" cy="215.74" r="1.95" fill="#f40000"/><circle cx="315.09" cy="215.82" r="1.95" fill="#f40000"/><circle cx="315.66" cy="215.90" r="1.95" fill="#f40000"/><circle cx="316.23" cy="215.99" r="1.95" fill="#f40000"/><circle cx="316.80" cy="216.09" r="1.95" fill="#f40000"/><circle cx="317.37" cy="216.18" r="1.95" fill="#f40000"/><circle cx="317.94" cy="216.29" r="1.95" fill="#f40000"/><circle cx="318.51" cy="216.40" r="1.95" fill="#f40000"/><circle cx="319.08" cy="216.51" r="1.95" fill="#f40000"/><circle cx="319.65" cy="216.63" r="1.95" fill="#f40000"/><circle cx="320.22" cy="216.75" r="1.95" fill="#f40000"/><circle cx="320.79" cy="216.89" r="1.95" fill="#f40000"/><circle cx="321.36" cy="217.02" r="1.95" fill="#f40000"/><circle cx="321.93" cy="217.17" r="1.95" fill="#f40000"/><circle cx="322.50" cy="217.32" r="1.95" fill="#f40000"/><circle cx="323.07" cy="217.48" r="1.95" fill="#f40000"/><circle cx="323.64" cy="217.64" r="1.95" fill="#f40000"/><circle cx="324.21" cy="217.82" r="1.95" fill="#f40000"/><circle cx="324.78" cy="218.00" r="1.95" fill="#f40000"/><circle cx="325.34" cy="218.20" r="1.95" fill="#f40000"/><circle cx="325.91" cy="218.40" r="1.95" fill="#f40000"/><circle cx="326.48" cy="218.61" r="1.95" fill="#f40000"/><circle cx="327.05" cy="218.83" r="1.95" fill="#f40000"/><circle cx="327.62" cy="219.07" r="1.95" fill="#f40000"/><circle cx="328.19" cy="219.31" r="1.95" fill="#f40000"/><circle cx="328.76" cy="219.57" r="1.95" fill="#f40000"/><circle cx="329.33" cy="219.84" r="1.95" fill="#f40000"/><circle cx="329.90" cy="220.13" r="1.95" fill="#f40000"/><circle cx="330.47" cy="220.43" r="1.95" fill="#f40000"/><circle cx="331.04" cy="220.75" r="1.95" fill="#f40000"/><circle cx="331.61" cy="221.08" r="1.95" fill="#f40000"/><circle cx="332.18" cy="221.43" r="1.95" fill="#f40000"/><circle cx="332.75" cy="221.79" r="1.95" fill="#f40000"/><circle cx="333.32" cy="222.18" r="1.95" fill="#f40000"/><circle cx="333.89" cy="222.58" r="1.95" fill="#f40000"/><circle cx="334.46" cy="223.01" r="1.95" fill="#f40000"/><circle cx="335.03" cy="223.46" r="1.95" fill="#f40000"/><circle cx="335.60" cy="223.94" r="1.95" fill="#f40000"/><circle cx="336.17" cy="224.44" r="1.95" fill="#f40000"/><circle cx="336.73" cy="224.96" r="1.95" fill="#f40000"/><circle cx="337.30" cy="225.52" r="1.95" fill="#f40000"/><circle cx="337.87" cy="226.11" r="1.95" fill="#f40000"/><circle cx="338.44" cy="226.73" r="1.95" fill="#f40000"/><circle cx="339.01" cy="227.38" r="1.95" fill="#f40000"/><circle cx="339.58" cy="228.07" r="1.95" fill="#f40000"/><circle cx="340.15" cy="228.80" r="1.95" fill="#f40000"/><circle cx="340.72" cy="229.58" r="1.95" fill="#f40000"/><circle cx="341.29" cy="230.40" r="1.95" fill="#f40000"/><circle cx="341.86" cy="231.26" r="1.95" fill="#f40000"/><circle cx="342.43" cy="232.18" r="1.95" fill="#f40000"/><circle cx="343.00" cy="233.16" r="1.95" fill="#f40000"/><circle cx="343.57" cy="234.20" r="1.95" fill="#f40000"/><circle cx="344.14" cy="235.30" r="1.95" fill="#f40000"/><circle cx="344.71" cy="236.48" r="1.95" fill="#f40000"/><circle cx="345.28" cy="237.73" r="1.95" fill="#f40000"/><circle cx="345.85" cy="239.07" r="1.95" fill="#f40000"/><circle cx="346.42" cy="240.51" r="1.95" fill="#f40000"/><circle cx="346.99" cy="242.04" r="1.95" fill="#f40000"/><circle cx="347.56" cy="243.70" r="1.95" fill="#f40000"/><circle cx="348.12" cy="245.48" r="1.95" fill="#f40000"/><circle cx="348.69" cy="247.40" r="1.95" fill="#f40000"/><circle cx="349.26" cy="249.49" r="1.95" fill="#f40000"/><circle cx="349.83" cy="251.77" r="1.95" fill="#f40000"/><circle cx="350.40" cy="254.26" r="1.95" fill="#f40000"/><circle cx="350.97" cy="257.00" r="1.95" fill="#f40000"/><circle cx="351.54" cy="260.05" r="1.95" fill="#f40000"/><circle cx="352.11" cy="263.46" r="1.95" fill="#f40000"/><circle cx="352.68" cy="267.32" r="1.95" fill="#f40000"/><circle cx="353.25" cy="271.78" r="1.95" fill="#f40000"/><circle cx="353.82" cy="277.02" r="1.95" fill="#f40000"/><circle cx="354.39" cy="283.40" r="1.95" fill="#f40000"/><circle cx="354.96" cy="291.55" r="1.95" fill="#f40000"/><circle cx="355.53" cy="302.94" r="1.95" fill="#f40000"/><circle cx="356.10" cy="322.42" r="1.95" fill="#f40000"/><circle cx="357.24" cy="320.44" r="1.95" fill="#f40000"/><circle cx="357.81" cy="304.66" r="1.95" fill="#f40000"/><circle cx="358.38" cy="295.74" r="1.95" fill="#f40000"/><circle cx="358.95" cy="289.77" r="1.95" fill="#f40000"/><circle cx="359.51" cy="285.51" r="1.95" fill="#f40000"/><circle cx="360.08" cy="282.39" r="1.95" fill="#f40000"/><circle cx="360.65" cy="280.11" r="1.95" fill="#f40000"/><circle cx="361.22" cy="278.50" r="1.95" fill="#f40000"/><circle cx="361.79" cy="277.45" r="1.95" fill="#f40000"/><circle cx="362.36" cy="276.91" r="1.95" fill="#f40000"/><circle cx="362.93" cy="276.83" r="1.95" fill="#f40000"/><circle cx="363.50" cy="277.20" r="1.95" fill="#f40000"/><circle cx="364.07" cy="278.04" r="1.95" fill="#f40000"/><circle cx="364.64" cy="279.35" r="1.95" fill="#f40000"/><circle cx="365.21" cy="281.17" r="1.95" fill="#f40000"/><circle cx="365.78" cy="283.59" r="1.95" fill="#f40000"/><circle cx="366.35" cy="286.69" r="1.95" fill="#f40000"/><circle cx="366.92" cy="290.64" r="1.95" fill="#f40000"/><circle cx="367.49" cy="295.70" r="1.95" fill="#f40000"/><circle cx="368.06" cy="302.37" r="1.95" fill="#f40000"/><circle cx="368.63" cy="311.64" r="1.95" fill="#f40000"/><circle cx="371.47" cy="313.38" r="1.95" fill="#f40000"/><circle cx="372.04" cy="307.06" r="1.95" fill="#f40000"/><circle cx="372.61" cy="303.09" r="1.95" fill="#f40000"/><circle cx="373.18" cy="300.75" r="1.95" fill="#f40000"/><circle cx="373.75" cy="299.72" r="1.95" fill="#f40000"/><circle cx="374.32" cy="299.84" r="1.95" fill="#f40000"/><circle cx="374.89" cy="301.11" r="1.95" fill="#f40000"/><circle cx="375.46" cy="303.61" r="1.95" fill="#f40000"/><circle cx="376.03" cy="307.58" r="1.95" fill="#f40000"/><circle cx="376.60" cy="313.49" r="1.95" fill="#f40000"/><circle cx="377.17" cy="322.43" r="1.95" fill="#f40000"/><circle cx="380.02" cy="322.76" r="1.95" fill="#f40000"/><circle cx="380.59" cy="317.80" r="1.95" fill="#f40000"/><circle cx="381.16" cy="315.57" r="1.95" fill="#f40000"/><circle cx="381.73" cy="315.53" r="1.95" fill="#f40000"/><circle cx="382.29" cy="317.61" r="1.95" fill="#f40000"/><circle cx="382.86" cy="322.13" r="1.95" fill="#f40000"/>
</g>
<rect x="262.70" y="173.40" width="147.50" height="147.00" fill="none" stroke="#505050" stroke-width="1.2"/>
<path d="M262.70 320.40v-4.5M262.70 173.40v4.5M279.76 320.40v-2.5M279.76 173.40v2.5M289.75 320.40v-2.5M289.75 173.40v2.5M296.83 320.40v-2.5M296.83 173.40v2.5M302.32 320.40v-2.5M302.32 173.40v2.5M306.81 320.40v-2.5M306.81 173.40v2.5M310.61 320.40v-2.5M310.61 173.40v2.5M313.89 320.40v-2.5M313.89 173.40v2.5M316.79 320.40v-2.5M316.79 173.40v2.5M319.39 320.40v-4.5M319.39 173.40v4.5M336.45 320.40v-2.5M336.45 173.40v2.5M346.43 320.40v-2.5M346.43 173.40v2.5M353.51 320.40v-2.5M353.51 173.40v2.5M359.01 320.40v-2.5M359.01 173.40v2.5M363.50 320.40v-2.5M363.50 173.40v2.5M367.29 320.40v-2.5M367.29 173.40v2.5M370.58 320.40v-2.5M370.58 173.40v2.5M373.48 320.40v-2.5M373.48 173.40v2.5M376.07 320.40v-4.5M376.07 173.40v4.5M393.14 320.40v-2.5M393.14 173.40v2.5M403.12 320.40v-2.5M403.12 173.40v2.5M410.20 320.40v-2.5M410.20 173.40v2.5" stroke="#505050" stroke-width="1" fill="none"/>
<text transform="translate(254.32 339.70) scale(0.89 1)" style="font-family:'Liberation Serif',serif;font-size:13.0px" fill="#111" stroke="#111" stroke-width="0.25">10</text><text transform="translate(265.43 333.00) scale(0.9 1)" style="font-family:'Liberation Serif',serif;font-size:8.2px" fill="#111" stroke="#111" stroke-width="0.25">-3</text>
<text transform="translate(311.06 339.70) scale(0.89 1)" style="font-family:'Liberation Serif',serif;font-size:13.0px" fill="#111" stroke="#111" stroke-width="0.25">10</text><text transform="translate(322.17 333.00) scale(0.9 1)" style="font-family:'Liberation Serif',serif;font-size:8.2px" fill="#111" stroke="#111" stroke-width="0.25">-2</text>
<text transform="translate(367.77 339.70) scale(0.89 1)" style="font-family:'Liberation Serif',serif;font-size:13.0px" fill="#111" stroke="#111" stroke-width="0.25">10</text><text transform="translate(378.87 333.00) scale(0.9 1)" style="font-family:'Liberation Serif',serif;font-size:8.2px" fill="#111" stroke="#111" stroke-width="0.25">-1</text>
<path d="M262.70 320.40h4.5M410.20 320.40h-4.5M262.70 311.55h2.2M410.20 311.55h-2.2M262.70 306.37h2.2M410.20 306.37h-2.2M262.70 302.70h2.2M410.20 302.70h-2.2M262.70 299.85h2.2M410.20 299.85h-2.2M262.70 297.52h2.2M410.20 297.52h-2.2M262.70 295.55h2.2M410.20 295.55h-2.2M262.70 293.85h2.2M410.20 293.85h-2.2M262.70 292.35h2.2M410.20 292.35h-2.2M262.70 291.00h4.5M410.20 291.00h-4.5M262.70 282.15h2.2M410.20 282.15h-2.2M262.70 276.97h2.2M410.20 276.97h-2.2M262.70 273.30h2.2M410.20 273.30h-2.2M262.70 270.45h2.2M410.20 270.45h-2.2M262.70 268.12h2.2M410.20 268.12h-2.2M262.70 266.15h2.2M410.20 266.15h-2.2M262.70 264.45h2.2M410.20 264.45h-2.2M262.70 262.95h2.2M410.20 262.95h-2.2M262.70 261.60h4.5M410.20 261.60h-4.5M262.70 252.75h2.2M410.20 252.75h-2.2M262.70 247.57h2.2M410.20 247.57h-2.2M262.70 243.90h2.2M410.20 243.90h-2.2M262.70 241.05h2.2M410.20 241.05h-2.2M262.70 238.72h2.2M410.20 238.72h-2.2M262.70 236.75h2.2M410.20 236.75h-2.2M262.70 235.05h2.2M410.20 235.05h-2.2M262.70 233.55h2.2M410.20 233.55h-2.2M262.70 232.20h4.5M410.20 232.20h-4.5M262.70 223.35h2.2M410.20 223.35h-2.2M262.70 218.17h2.2M410.20 218.17h-2.2M262.70 214.50h2.2M410.20 214.50h-2.2M262.70 211.65h2.2M410.20 211.65h-2.2M262.70 209.32h2.2M410.20 209.32h-2.2M262.70 207.35h2.2M410.20 207.35h-2.2M262.70 205.65h2.2M410.20 205.65h-2.2M262.70 204.15h2.2M410.20 204.15h-2.2M262.70 202.80h4.5M410.20 202.80h-4.5M262.70 193.95h2.2M410.20 193.95h-2.2M262.70 188.77h2.2M410.20 188.77h-2.2M262.70 185.10h2.2M410.20 185.10h-2.2M262.70 182.25h2.2M410.20 182.25h-2.2M262.70 179.92h2.2M410.20 179.92h-2.2M262.70 177.95h2.2M410.20 177.95h-2.2M262.70 176.25h2.2M410.20 176.25h-2.2M262.70 174.75h2.2M410.20 174.75h-2.2M262.70 173.40h4.5M410.20 173.40h-4.5" stroke="#505050" stroke-width="1" fill="none"/>
<text transform="translate(239.93 326.50) scale(0.89 1)" style="font-family:'Liberation Serif',serif;font-size:13.0px" fill="#111" stroke="#111" stroke-width="0.25">10</text><text transform="translate(251.03 319.80) scale(0.9 1)" style="font-family:'Liberation Serif',serif;font-size:8.2px" fill="#111" stroke="#111" stroke-width="0.25">-3</text>
<text transform="translate(240.04 297.10) scale(0.89 1)" style="font-family:'Liberation Serif',serif;font-size:13.0px" fill="#111" stroke="#111" stroke-width="0.25">10</text><text transform="translate(251.14 290.40) scale(0.9 1)" style="font-family:'Liberation Serif',serif;font-size:8.2px" fill="#111" stroke="#111" stroke-width="0.25">-2</text>
<text transform="translate(240.07 267.70) scale(0.89 1)" style="font-family:'Liberation Serif',serif;font-size:13.0px" fill="#111" stroke="#111" stroke-width="0.25">10</text><text transform="translate(251.18 261.00) scale(0.9 1)" style="font-family:'Liberation Serif',serif;font-size:8.2px" fill="#111" stroke="#111" stroke-width="0.25">-1</text>
<text transform="translate(242.40 238.30) scale(0.89 1)" style="font-family:'Liberation Serif',serif;font-size:13.0px" fill="#111" stroke="#111" stroke-width="0.25">10</text><text transform="translate(253.51 231.60) scale(0.9 1)" style="font-family:'Liberation Serif',serif;font-size:8.2px" fill="#111" stroke="#111" stroke-width="0.25">0</text>
<text transform="translate(242.55 208.90) scale(0.89 1)" style="font-family:'Liberation Serif',serif;font-size:13.0px" fill="#111" stroke="#111" stroke-width="0.25">10</text><text transform="translate(253.65 202.20) scale(0.9 1)" style="font-family:'Liberation Serif',serif;font-size:8.2px" fill="#111" stroke="#111" stroke-width="0.25">1</text>
<text transform="translate(242.51 179.50) scale(0.89 1)" style="font-family:'Liberation Serif',serif;font-size:13.0px" fill="#111" stroke="#111" stroke-width="0.25">10</text><text transform="translate(253.62 172.80) scale(0.9 1)" style="font-family:'Liberation Serif',serif;font-size:8.2px" fill="#111" stroke="#111" stroke-width="0.25">2</text>
<text transform="translate(335.90 358.80) scale(0.95 1)" text-anchor="middle" style="font-family:'Liberation Serif',serif;font-size:13.0px" fill="#111" stroke="#111" stroke-width="0.25"><tspan font-style="italic">Q</tspan> / Å<tspan font-size="8.2px" dy="-6.8">-1</tspan></text>
<g transform="translate(230.50 248.90) rotate(-90) scale(0.9300 1)"><text x="0" y="0" text-anchor="middle" style="font-family:'Liberation Serif',serif;font-size:13.0px" fill="#111" stroke="#111" stroke-width="0.25"><tspan font-style="italic">S</tspan><tspan font-size="8.2px" dy="2.2">ii</tspan><tspan dy="-2.2"> / ×10</tspan><tspan font-size="8.2px" dy="-6.8">20</tspan><tspan dy="6.8"> cm</tspan><tspan font-size="8.2px" dy="-6.8">3</tspan></text></g>
<circle cx="367.90" cy="197.70" r="3.0" fill="#f40000"/>
<text transform="translate(381.20 201.50) scale(0.95 1)" style="font-family:'Liberation Serif',serif;font-size:12.6px" fill="#111" stroke="#111" stroke-width="0.25">S<tspan font-size="9.4px" dy="2.1" letter-spacing="0.25">cc</tspan></text>
<path d="M367.90 206.70L372.00 210.80L367.90 214.90L363.80 210.80Z" fill="#009000"/>
<text transform="translate(381.20 214.60) scale(0.95 1)" style="font-family:'Liberation Serif',serif;font-size:12.6px" fill="#111" stroke="#111" stroke-width="0.25">S<tspan font-size="9.4px" dy="2.1" letter-spacing="0.25">pp</tspan></text>
<path d="M367.90 220.30L371.40 226.30L364.40 226.30Z" fill="#929200"/>
<text transform="translate(381.20 227.70) scale(0.95 1)" style="font-family:'Liberation Serif',serif;font-size:12.6px" fill="#111" stroke="#111" stroke-width="0.25">S<tspan font-size="9.4px" dy="2.1" letter-spacing="0.25">cp</tspan></text>
<text x="272.80" y="312.90" style="font-family:'Liberation Sans',sans-serif;font-size:15.3px" fill="#111">log plot</text>
<g clip-path="url(#cc)">
<path d="M485.00 255.76L487.80 258.56L485.00 261.36L482.20 258.56Z" fill="#009000"/><path d="M485.57 255.76L488.37 258.56L485.57 261.36L482.77 258.56Z" fill="#009000"/><path d="M486.15 255.76L488.95 258.56L486.15 261.36L483.35 258.56Z" fill="#009000"/><path d="M486.72 255.76L489.52 258.56L486.72 261.36L483.92 258.56Z" fill="#009000"/><path d="M487.29 255.76L490.09 258.56L487.29 261.36L484.49 258.56Z" fill="#009000"/><path d="M487.86 255.76L490.66 258.56L487.86 261.36L485.06 258.56Z" fill="#009000"/><path d="M488.44 255.76L491.24 258.56L488.44 261.36L485.64 258.56Z" fill="#009000"/><path d="M489.01 255.76L491.81 258.56L489.01 261.36L486.21 258.56Z" fill="#009000"/><path d="M489.58 255.76L492.38 258.56L489.58 261.36L486.78 258.56Z" fill="#009000"/><path d="M490.16 255.76L492.96 258.56L490.16 261.36L487.36 258.56Z" fill="#009000"/><path d="M490.73 255.76L493.53 258.56L490.73 261.36L487.93 258.56Z" fill="#009000"/><path d="M491.30 255.76L494.10 258.56L491.30 261.36L488.50 258.56Z" fill="#009000"/><path d="M491.88 255.76L494.68 258.56L491.88 261.36L489.08 258.56Z" fill="#009000"/><path d="M492.45 255.76L495.25 258.56L492.45 261.36L489.65 258.56Z" fill="#009000"/><path d="M493.02 255.76L495.82 258.56L493.02 261.36L490.22 258.56Z" fill="#009000"/><path d="M493.59 255.76L496.39 258.56L493.59 261.36L490.79 258.56Z" fill="#009000"/><path d="M494.17 255.76L496.97 258.56L494.17 261.36L491.37 258.56Z" fill="#009000"/><path d="M494.74 255.76L497.54 258.56L494.74 261.36L491.94 258.56Z" fill="#009000"/><path d="M495.31 255.76L498.11 258.56L495.31 261.36L492.51 258.56Z" fill="#009000"/><path d="M495.89 255.76L498.69 258.56L495.89 261.36L493.09 258.56Z" fill="#009000"/><path d="M496.46 255.76L499.26 258.56L496.46 261.36L493.66 258.56Z" fill="#009000"/><path d="M497.03 255.76L499.83 258.56L497.03 261.36L494.23 258.56Z" fill="#009000"/><path d="M497.61 255.76L500.41 258.56L497.61 261.36L494.81 258.56Z" fill="#009000"/><path d="M498.18 255.76L500.98 258.56L498.18 261.36L495.38 258.56Z" fill="#009000"/><path d="M498.75 255.76L501.55 258.56L498.75 261.36L495.95 258.56Z" fill="#009000"/><path d="M499.32 255.76L502.12 258.56L499.32 261.36L496.52 258.56Z" fill="#009000"/><path d="M499.90 255.76L502.70 258.56L499.90 261.36L497.10 258.56Z" fill="#009000"/><path d="M500.47 255.76L503.27 258.56L500.47 261.36L497.67 258.56Z" fill="#009000"/><path d="M501.04 255.76L503.84 258.56L501.04 261.36L498.24 258.56Z" fill="#009000"/><path d="M501.62 255.76L504.42 258.56L501.62 261.36L498.82 258.56Z" fill="#009000"/><path d="M502.19 255.76L504.99 258.56L502.19 261.36L499.39 258.56Z" fill="#009000"/><path d="M502.76 255.76L505.56 258.56L502.76 261.36L499.96 258.56Z" fill="#009000"/><path d="M503.34 255.77L506.14 258.57L503.34 261.37L500.54 258.57Z" fill="#009000"/><path d="M503.91 255.77L506.71 258.57L503.91 261.37L501.11 258.57Z" fill="#009000"/><path d="M504.48 255.77L507.28 258.57L504.48 261.37L501.68 258.57Z" fill="#009000"/><path d="M505.05 255.77L507.85 258.57L505.05 261.37L502.25 258.57Z" fill="#009000"/><path d="M505.63 255.77L508.43 258.57L505.63 261.37L502.83 258.57Z" fill="#009000"/><path d="M506.20 255.77L509.00 258.57L506.20 261.37L503.40 258.57Z" fill="#009000"/><path d="M506.77 255.77L509.57 258.57L506.77 261.37L503.97 258.57Z" fill="#009000"/><path d="M507.35 255.77L510.15 258.57L507.35 261.37L504.55 258.57Z" fill="#009000"/><path d="M507.92 255.77L510.72 258.57L507.92 261.37L505.12 258.57Z" fill="#009000"/><path d="M508.49 255.77L511.29 258.57L508.49 261.37L505.69 258.57Z" fill="#009000"/><path d="M509.06 255.77L511.86 258.57L509.06 261.37L506.26 258.57Z" fill="#009000"/><path d="M509.64 255.77L512.44 258.57L509.64 261.37L506.84 258.57Z" fill="#009000"/><path d="M510.21 255.77L513.01 258.57L510.21 261.37L507.41 258.57Z" fill="#009000"/><path d="M510.78 255.77L513.58 258.57L510.78 261.37L507.98 258.57Z" fill="#009000"/><path d="M511.36 255.77L514.16 258.57L511.36 261.37L508.56 258.57Z" fill="#009000"/><path d="M511.93 255.77L514.73 258.57L511.93 261.37L509.13 258.57Z" fill="#009000"/><path d="M512.50 255.77L515.30 258.57L512.50 261.37L509.70 258.57Z" fill="#009000"/><path d="M513.08 255.77L515.88 258.57L513.08 261.37L510.28 258.57Z" fill="#009000"/><path d="M513.65 255.77L516.45 258.57L513.65 261.37L510.85 258.57Z" fill="#009000"/><path d="M514.22 255.77L517.02 258.57L514.22 261.37L511.42 258.57Z" fill="#009000"/><path d="M514.79 255.78L517.59 258.58L514.79 261.38L511.99 258.58Z" fill="#009000"/><path d="M515.37 255.78L518.17 258.58L515.37 261.38L512.57 258.58Z" fill="#009000"/><path d="M515.94 255.78L518.74 258.58L515.94 261.38L513.14 258.58Z" fill="#009000"/><path d="M516.51 255.78L519.31 258.58L516.51 261.38L513.71 258.58Z" fill="#009000"/><path d="M517.09 255.78L519.89 258.58L517.09 261.38L514.29 258.58Z" fill="#009000"/><path d="M517.66 255.78L520.46 258.58L517.66 261.38L514.86 258.58Z" fill="#009000"/><path d="M518.23 255.78L521.03 258.58L518.23 261.38L515.43 258.58Z" fill="#009000"/><path d="M518.81 255.78L521.61 258.58L518.81 261.38L516.01 258.58Z" fill="#009000"/><path d="M519.38 255.78L522.18 258.58L519.38 261.38L516.58 258.58Z" fill="#009000"/><path d="M519.95 255.78L522.75 258.58L519.95 261.38L517.15 258.58Z" fill="#009000"/><path d="M520.52 255.79L523.32 258.59L520.52 261.39L517.72 258.59Z" fill="#009000"/><path d="M521.10 255.79L523.90 258.59L521.10 261.39L518.30 258.59Z" fill="#009000"/><path d="M521.67 255.79L524.47 258.59L521.67 261.39L518.87 258.59Z" fill="#009000"/><path d="M522.24 255.79L525.04 258.59L522.24 261.39L519.44 258.59Z" fill="#009000"/><path d="M522.82 255.79L525.62 258.59L522.82 261.39L520.02 258.59Z" fill="#009000"/><path d="M523.39 255.79L526.19 258.59L523.39 261.39L520.59 258.59Z" fill="#009000"/><path d="M523.96 255.80L526.76 258.60L523.96 261.40L521.16 258.60Z" fill="#009000"/><path d="M524.54 255.80L527.34 258.60L524.54 261.40L521.74 258.60Z" fill="#009000"/><path d="M525.11 255.80L527.91 258.60L525.11 261.40L522.31 258.60Z" fill="#009000"/><path d="M525.68 255.80L528.48 258.60L525.68 261.40L522.88 258.60Z" fill="#009000"/><path d="M526.25 255.80L529.05 258.60L526.25 261.40L523.45 258.60Z" fill="#009000"/><path d="M526.83 255.81L529.63 258.61L526.83 261.41L524.03 258.61Z" fill="#009000"/><path d="M527.40 255.81L530.20 258.61L527.40 261.41L524.60 258.61Z" fill="#009000"/><path d="M527.97 255.81L530.77 258.61L527.97 261.41L525.17 258.61Z" fill="#009000"/><path d="M528.55 255.81L531.35 258.61L528.55 261.41L525.75 258.61Z" fill="#009000"/><path d="M529.12 255.81L531.92 258.61L529.12 261.41L526.32 258.61Z" fill="#009000"/><path d="M529.69 255.82L532.49 258.62L529.69 261.42L526.89 258.62Z" fill="#009000"/><path d="M530.26 255.82L533.06 258.62L530.26 261.42L527.46 258.62Z" fill="#009000"/><path d="M530.84 255.82L533.64 258.62L530.84 261.42L528.04 258.62Z" fill="#009000"/><path d="M531.41 255.83L534.21 258.63L531.41 261.43L528.61 258.63Z" fill="#009000"/><path d="M531.98 255.83L534.78 258.63L531.98 261.43L529.18 258.63Z" fill="#009000"/><path d="M532.56 255.83L535.36 258.63L532.56 261.43L529.76 258.63Z" fill="#009000"/><path d="M533.13 255.84L535.93 258.64L533.13 261.44L530.33 258.64Z" fill="#009000"/><path d="M533.70 255.84L536.50 258.64L533.70 261.44L530.90 258.64Z" fill="#009000"/><path d="M534.28 255.84L537.08 258.64L534.28 261.44L531.48 258.64Z" fill="#009000"/><path d="M534.85 255.85L537.65 258.65L534.85 261.45L532.05 258.65Z" fill="#009000"/><path d="M535.42 255.85L538.22 258.65L535.42 261.45L532.62 258.65Z" fill="#009000"/><path d="M535.99 255.86L538.79 258.66L535.99 261.46L533.19 258.66Z" fill="#009000"/><path d="M536.57 255.86L539.37 258.66L536.57 261.46L533.77 258.66Z" fill="#009000"/><path d="M537.14 255.87L539.94 258.67L537.14 261.47L534.34 258.67Z" fill="#009000"/><path d="M537.71 255.87L540.51 258.67L537.71 261.47L534.91 258.67Z" fill="#009000"/><path d="M538.29 255.88L541.09 258.68L538.29 261.48L535.49 258.68Z" fill="#009000"/><path d="M538.86 255.88L541.66 258.68L538.86 261.48L536.06 258.68Z" fill="#009000"/><path d="M539.43 255.89L542.23 258.69L539.43 261.49L536.63 258.69Z" fill="#009000"/><path d="M540.01 255.89L542.81 258.69L540.01 261.49L537.21 258.69Z" fill="#009000"/><path d="M540.58 255.90L543.38 258.70L540.58 261.50L537.78 258.70Z" fill="#009000"/><path d="M541.15 255.91L543.95 258.71L541.15 261.51L538.35 258.71Z" fill="#009000"/><path d="M541.72 255.91L544.52 258.71L541.72 261.51L538.92 258.71Z" fill="#009000"/><path d="M542.30 255.92L545.10 258.72L542.30 261.52L539.50 258.72Z" fill="#009000"/><path d="M542.87 255.93L545.67 258.73L542.87 261.53L540.07 258.73Z" fill="#009000"/><path d="M543.44 255.94L546.24 258.74L543.44 261.54L540.64 258.74Z" fill="#009000"/><path d="M544.02 255.95L546.82 258.75L544.02 261.55L541.22 258.75Z" fill="#009000"/><path d="M544.59 255.95L547.39 258.75L544.59 261.55L541.79 258.75Z" fill="#009000"/><path d="M545.16 255.96L547.96 258.76L545.16 261.56L542.36 258.76Z" fill="#009000"/><path d="M545.74 255.97L548.54 258.77L545.74 261.57L542.94 258.77Z" fill="#009000"/><path d="M546.31 255.98L549.11 258.78L546.31 261.58L543.51 258.78Z" fill="#009000"/><path d="M546.88 255.99L549.68 258.79L546.88 261.59L544.08 258.79Z" fill="#009000"/><path d="M547.45 256.00L550.25 258.80L547.45 261.60L544.65 258.80Z" fill="#009000"/><path d="M548.03 256.02L550.83 258.82L548.03 261.62L545.23 258.82Z" fill="#009000"/><path d="M548.60 256.03L551.40 258.83L548.60 261.63L545.80 258.83Z" fill="#009000"/><path d="M549.17 256.04L551.97 258.84L549.17 261.64L546.37 258.84Z" fill="#009000"/><path d="M549.75 256.05L552.55 258.85L549.75 261.65L546.95 258.85Z" fill="#009000"/><path d="M550.32 256.07L553.12 258.87L550.32 261.67L547.52 258.87Z" fill="#009000"/><path d="M550.89 256.08L553.69 258.88L550.89 261.68L548.09 258.88Z" fill="#009000"/><path d="M551.46 256.10L554.26 258.90L551.46 261.70L548.66 258.90Z" fill="#009000"/><path d="M552.04 256.11L554.84 258.91L552.04 261.71L549.24 258.91Z" fill="#009000"/><path d="M552.61 256.13L555.41 258.93L552.61 261.73L549.81 258.93Z" fill="#009000"/><path d="M553.18 256.15L555.98 258.95L553.18 261.75L550.38 258.95Z" fill="#009000"/><path d="M553.76 256.17L556.56 258.97L553.76 261.77L550.96 258.97Z" fill="#009000"/><path d="M554.33 256.18L557.13 258.98L554.33 261.78L551.53 258.98Z" fill="#009000"/><path d="M554.90 256.20L557.70 259.00L554.90 261.80L552.10 259.00Z" fill="#009000"/><path d="M555.48 256.22L558.28 259.02L555.48 261.82L552.68 259.02Z" fill="#009000"/><path d="M556.05 256.25L558.85 259.05L556.05 261.85L553.25 259.05Z" fill="#009000"/><path d="M556.62 256.27L559.42 259.07L556.62 261.87L553.82 259.07Z" fill="#009000"/><path d="M557.19 256.29L559.99 259.09L557.19 261.89L554.39 259.09Z" fill="#009000"/><path d="M557.77 256.32L560.57 259.12L557.77 261.92L554.97 259.12Z" fill="#009000"/><path d="M558.34 256.34L561.14 259.14L558.34 261.94L555.54 259.14Z" fill="#009000"/><path d="M558.91 256.37L561.71 259.17L558.91 261.97L556.11 259.17Z" fill="#009000"/><path d="M559.49 256.40L562.29 259.20L559.49 262.00L556.69 259.20Z" fill="#009000"/><path d="M560.06 256.43L562.86 259.23L560.06 262.03L557.26 259.23Z" fill="#009000"/><path d="M560.63 256.46L563.43 259.26L560.63 262.06L557.83 259.26Z" fill="#009000"/><path d="M561.21 256.49L564.01 259.29L561.21 262.09L558.41 259.29Z" fill="#009000"/><path d="M561.78 256.52L564.58 259.32L561.78 262.12L558.98 259.32Z" fill="#009000"/><path d="M562.35 256.56L565.15 259.36L562.35 262.16L559.55 259.36Z" fill="#009000"/><path d="M562.92 256.60L565.72 259.40L562.92 262.20L560.12 259.40Z" fill="#009000"/><path d="M563.50 256.63L566.30 259.43L563.50 262.23L560.70 259.43Z" fill="#009000"/><path d="M564.07 256.67L566.87 259.47L564.07 262.27L561.27 259.47Z" fill="#009000"/><path d="M564.64 256.72L567.44 259.52L564.64 262.32L561.84 259.52Z" fill="#009000"/><path d="M565.22 256.76L568.02 259.56L565.22 262.36L562.42 259.56Z" fill="#009000"/><path d="M565.79 256.80L568.59 259.60L565.79 262.40L562.99 259.60Z" fill="#009000"/><path d="M566.36 256.85L569.16 259.65L566.36 262.45L563.56 259.65Z" fill="#009000"/><path d="M566.94 256.90L569.74 259.70L566.94 262.50L564.14 259.70Z" fill="#009000"/><path d="M567.51 256.95L570.31 259.75L567.51 262.55L564.71 259.75Z" fill="#009000"/><path d="M568.08 257.01L570.88 259.81L568.08 262.61L565.28 259.81Z" fill="#009000"/><path d="M568.65 257.06L571.45 259.86L568.65 262.66L565.85 259.86Z" fill="#009000"/><path d="M569.23 257.12L572.03 259.92L569.23 262.72L566.43 259.92Z" fill="#009000"/><path d="M569.80 257.18L572.60 259.98L569.80 262.78L567.00 259.98Z" fill="#009000"/><path d="M570.37 257.25L573.17 260.05L570.37 262.85L567.57 260.05Z" fill="#009000"/><path d="M570.95 257.31L573.75 260.11L570.95 262.91L568.15 260.11Z" fill="#009000"/><path d="M571.52 257.38L574.32 260.18L571.52 262.98L568.72 260.18Z" fill="#009000"/><path d="M572.09 257.45L574.89 260.25L572.09 263.05L569.29 260.25Z" fill="#009000"/><path d="M572.66 257.53L575.46 260.33L572.66 263.13L569.86 260.33Z" fill="#009000"/><path d="M573.24 257.60L576.04 260.40L573.24 263.20L570.44 260.40Z" fill="#009000"/><path d="M573.81 257.68L576.61 260.48L573.81 263.28L571.01 260.48Z" fill="#009000"/><path d="M574.38 257.77L577.18 260.57L574.38 263.37L571.58 260.57Z" fill="#009000"/><path d="M574.96 257.85L577.76 260.65L574.96 263.45L572.16 260.65Z" fill="#009000"/><path d="M575.53 257.94L578.33 260.74L575.53 263.54L572.73 260.74Z" fill="#009000"/><path d="M576.10 258.04L578.90 260.84L576.10 263.64L573.30 260.84Z" fill="#009000"/><path d="M576.68 258.14L579.48 260.94L576.68 263.74L573.88 260.94Z" fill="#009000"/><path d="M577.25 258.24L580.05 261.04L577.25 263.84L574.45 261.04Z" fill="#009000"/><path d="M577.82 258.34L580.62 261.14L577.82 263.94L575.02 261.14Z" fill="#009000"/><path d="M578.39 258.45L581.19 261.25L578.39 264.05L575.59 261.25Z" fill="#009000"/><path d="M578.97 258.57L581.77 261.37L578.97 264.17L576.17 261.37Z" fill="#009000"/><path d="M579.54 258.68L582.34 261.48L579.54 264.28L576.74 261.48Z" fill="#009000"/><path d="M580.11 258.80L582.91 261.60L580.11 264.40L577.31 261.60Z" fill="#009000"/><path d="M580.69 258.93L583.49 261.73L580.69 264.53L577.89 261.73Z" fill="#009000"/><path d="M581.26 259.06L584.06 261.86L581.26 264.66L578.46 261.86Z" fill="#009000"/><path d="M581.83 259.20L584.63 262.00L581.83 264.80L579.03 262.00Z" fill="#009000"/><path d="M582.41 259.34L585.21 262.14L582.41 264.94L579.61 262.14Z" fill="#009000"/><path d="M582.98 259.48L585.78 262.28L582.98 265.08L580.18 262.28Z" fill="#009000"/><path d="M583.55 259.63L586.35 262.43L583.55 265.23L580.75 262.43Z" fill="#009000"/><path d="M584.12 259.79L586.92 262.59L584.12 265.39L581.32 262.59Z" fill="#009000"/><path d="M584.70 259.95L587.50 262.75L584.70 265.55L581.90 262.75Z" fill="#009000"/><path d="M585.27 260.11L588.07 262.91L585.27 265.71L582.47 262.91Z" fill="#009000"/><path d="M585.84 260.28L588.64 263.08L585.84 265.88L583.04 263.08Z" fill="#009000"/><path d="M586.42 260.46L589.22 263.26L586.42 266.06L583.62 263.26Z" fill="#009000"/><path d="M586.99 260.64L589.79 263.44L586.99 266.24L584.19 263.44Z" fill="#009000"/><path d="M587.56 260.83L590.36 263.63L587.56 266.43L584.76 263.63Z" fill="#009000"/><path d="M588.14 261.02L590.94 263.82L588.14 266.62L585.34 263.82Z" fill="#009000"/><path d="M588.71 261.22L591.51 264.02L588.71 266.82L585.91 264.02Z" fill="#009000"/><path d="M589.28 261.42L592.08 264.22L589.28 267.02L586.48 264.22Z" fill="#009000"/><path d="M589.85 261.64L592.65 264.44L589.85 267.24L587.05 264.44Z" fill="#009000"/><path d="M590.43 261.85L593.23 264.65L590.43 267.45L587.63 264.65Z" fill="#009000"/><path d="M591.00 262.07L593.80 264.87L591.00 267.67L588.20 264.87Z" fill="#009000"/><path d="M591.57 262.30L594.37 265.10L591.57 267.90L588.77 265.10Z" fill="#009000"/><path d="M592.15 262.54L594.95 265.34L592.15 268.14L589.35 265.34Z" fill="#009000"/><path d="M592.72 262.78L595.52 265.58L592.72 268.38L589.92 265.58Z" fill="#009000"/><path d="M593.29 263.02L596.09 265.82L593.29 268.62L590.49 265.82Z" fill="#009000"/><path d="M593.86 263.28L596.66 266.08L593.86 268.88L591.06 266.08Z" fill="#009000"/><path d="M594.44 263.54L597.24 266.34L594.44 269.14L591.64 266.34Z" fill="#009000"/><path d="M595.01 263.80L597.81 266.60L595.01 269.40L592.21 266.60Z" fill="#009000"/><path d="M595.58 264.07L598.38 266.87L595.58 269.67L592.78 266.87Z" fill="#009000"/><path d="M596.16 264.35L598.96 267.15L596.16 269.95L593.36 267.15Z" fill="#009000"/><path d="M596.73 264.64L599.53 267.44L596.73 270.24L593.93 267.44Z" fill="#009000"/><path d="M597.30 264.93L600.10 267.73L597.30 270.53L594.50 267.73Z" fill="#009000"/><path d="M597.88 265.22L600.68 268.02L597.88 270.82L595.08 268.02Z" fill="#009000"/><path d="M598.45 265.53L601.25 268.33L598.45 271.13L595.65 268.33Z" fill="#009000"/><path d="M599.02 265.83L601.82 268.63L599.02 271.43L596.22 268.63Z" fill="#009000"/><path d="M599.59 266.15L602.39 268.95L599.59 271.75L596.79 268.95Z" fill="#009000"/><path d="M600.17 266.47L602.97 269.27L600.17 272.07L597.37 269.27Z" fill="#009000"/><path d="M600.74 266.80L603.54 269.60L600.74 272.40L597.94 269.60Z" fill="#009000"/><path d="M601.31 267.13L604.11 269.93L601.31 272.73L598.51 269.93Z" fill="#009000"/><path d="M601.89 267.47L604.69 270.27L601.89 273.07L599.09 270.27Z" fill="#009000"/><path d="M602.46 267.81L605.26 270.61L602.46 273.41L599.66 270.61Z" fill="#009000"/><path d="M603.03 268.16L605.83 270.96L603.03 273.76L600.23 270.96Z" fill="#009000"/><path d="M603.61 268.52L606.41 271.32L603.61 274.12L600.81 271.32Z" fill="#009000"/><path d="M604.18 268.88L606.98 271.68L604.18 274.48L601.38 271.68Z" fill="#009000"/><path d="M604.75 269.25L607.55 272.05L604.75 274.85L601.95 272.05Z" fill="#009000"/><path d="M605.32 269.62L608.12 272.42L605.32 275.22L602.52 272.42Z" fill="#009000"/><path d="M605.90 269.99L608.70 272.79L605.90 275.59L603.10 272.79Z" fill="#009000"/><path d="M606.47 270.38L609.27 273.18L606.47 275.98L603.67 273.18Z" fill="#009000"/><path d="M607.04 270.76L609.84 273.56L607.04 276.36L604.24 273.56Z" fill="#009000"/><path d="M607.62 271.16L610.42 273.96L607.62 276.76L604.82 273.96Z" fill="#009000"/><path d="M608.19 271.55L610.99 274.35L608.19 277.15L605.39 274.35Z" fill="#009000"/><path d="M608.76 271.96L611.56 274.76L608.76 277.56L605.96 274.76Z" fill="#009000"/><path d="M609.34 272.36L612.14 275.16L609.34 277.96L606.54 275.16Z" fill="#009000"/><path d="M609.91 272.77L612.71 275.57L609.91 278.37L607.11 275.57Z" fill="#009000"/><path d="M610.48 273.19L613.28 275.99L610.48 278.79L607.68 275.99Z" fill="#009000"/><path d="M611.05 273.61L613.85 276.41L611.05 279.21L608.25 276.41Z" fill="#009000"/><path d="M611.63 274.03L614.43 276.83L611.63 279.63L608.83 276.83Z" fill="#009000"/><path d="M612.20 274.46L615.00 277.26L612.20 280.06L609.40 277.26Z" fill="#009000"/><path d="M612.77 274.89L615.57 277.69L612.77 280.49L609.97 277.69Z" fill="#009000"/><path d="M613.35 275.33L616.15 278.13L613.35 280.93L610.55 278.13Z" fill="#009000"/><path d="M613.92 275.77L616.72 278.57L613.92 281.37L611.12 278.57Z" fill="#009000"/><path d="M614.49 276.21L617.29 279.01L614.49 281.81L611.69 279.01Z" fill="#009000"/><path d="M615.06 276.66L617.86 279.46L615.06 282.26L612.26 279.46Z" fill="#009000"/><path d="M615.64 277.11L618.44 279.91L615.64 282.71L612.84 279.91Z" fill="#009000"/><path d="M616.21 277.56L619.01 280.36L616.21 283.16L613.41 280.36Z" fill="#009000"/><path d="M616.78 278.02L619.58 280.82L616.78 283.62L613.98 280.82Z" fill="#009000"/><path d="M617.36 278.48L620.16 281.28L617.36 284.08L614.56 281.28Z" fill="#009000"/><path d="M617.93 278.94L620.73 281.74L617.93 284.54L615.13 281.74Z" fill="#009000"/><path d="M618.50 279.41L621.30 282.21L618.50 285.01L615.70 282.21Z" fill="#009000"/><path d="M619.08 279.88L621.88 282.68L619.08 285.48L616.28 282.68Z" fill="#009000"/><path d="M619.65 280.35L622.45 283.15L619.65 285.95L616.85 283.15Z" fill="#009000"/><path d="M620.22 280.83L623.02 283.63L620.22 286.43L617.42 283.63Z" fill="#009000"/><path d="M620.79 281.30L623.59 284.10L620.79 286.90L617.99 284.10Z" fill="#009000"/><path d="M621.37 281.78L624.17 284.58L621.37 287.38L618.57 284.58Z" fill="#009000"/><path d="M621.94 282.26L624.74 285.06L621.94 287.86L619.14 285.06Z" fill="#009000"/><path d="M622.51 282.75L625.31 285.55L622.51 288.35L619.71 285.55Z" fill="#009000"/><path d="M623.09 283.23L625.89 286.03L623.09 288.83L620.29 286.03Z" fill="#009000"/><path d="M623.66 283.72L626.46 286.52L623.66 289.32L620.86 286.52Z" fill="#009000"/><path d="M624.23 284.21L627.03 287.01L624.23 289.81L621.43 287.01Z" fill="#009000"/><path d="M624.81 284.70L627.61 287.50L624.81 290.30L622.01 287.50Z" fill="#009000"/><path d="M625.38 285.20L628.18 288.00L625.38 290.80L622.58 288.00Z" fill="#009000"/><path d="M625.95 285.69L628.75 288.49L625.95 291.29L623.15 288.49Z" fill="#009000"/><path d="M626.52 286.19L629.32 288.99L626.52 291.79L623.72 288.99Z" fill="#009000"/><path d="M627.10 286.69L629.90 289.49L627.10 292.29L624.30 289.49Z" fill="#009000"/><path d="M627.67 287.19L630.47 289.99L627.67 292.79L624.87 289.99Z" fill="#009000"/><path d="M628.24 287.70L631.04 290.50L628.24 293.30L625.44 290.50Z" fill="#009000"/><path d="M628.82 288.20L631.62 291.00L628.82 293.80L626.02 291.00Z" fill="#009000"/><path d="M629.39 288.71L632.19 291.51L629.39 294.31L626.59 291.51Z" fill="#009000"/><path d="M629.96 289.21L632.76 292.01L629.96 294.81L627.16 292.01Z" fill="#009000"/><path d="M630.54 289.72L633.34 292.52L630.54 295.32L627.74 292.52Z" fill="#009000"/><path d="M631.11 290.23L633.91 293.03L631.11 295.83L628.31 293.03Z" fill="#009000"/><path d="M631.68 290.74L634.48 293.54L631.68 296.34L628.88 293.54Z" fill="#009000"/><path d="M632.25 291.25L635.05 294.05L632.25 296.85L629.45 294.05Z" fill="#009000"/><path d="M632.83 291.77L635.63 294.57L632.83 297.37L630.03 294.57Z" fill="#009000"/><path d="M633.40 292.28L636.20 295.08L633.40 297.88L630.60 295.08Z" fill="#009000"/>
<circle cx="485.00" cy="212.92" r="1.95" fill="#f40000"/><circle cx="485.57" cy="212.93" r="1.95" fill="#f40000"/><circle cx="486.15" cy="212.93" r="1.95" fill="#f40000"/><circle cx="486.72" cy="212.93" r="1.95" fill="#f40000"/><circle cx="487.29" cy="212.93" r="1.95" fill="#f40000"/><circle cx="487.86" cy="212.93" r="1.95" fill="#f40000"/><circle cx="488.44" cy="212.93" r="1.95" fill="#f40000"/><circle cx="489.01" cy="212.93" r="1.95" fill="#f40000"/><circle cx="489.58" cy="212.94" r="1.95" fill="#f40000"/><circle cx="490.16" cy="212.94" r="1.95" fill="#f40000"/><circle cx="490.73" cy="212.94" r="1.95" fill="#f40000"/><circle cx="491.30" cy="212.94" r="1.95" fill="#f40000"/><circle cx="491.88" cy="212.94" r="1.95" fill="#f40000"/><circle cx="492.45" cy="212.95" r="1.95" fill="#f40000"/><circle cx="493.02" cy="212.95" r="1.95" fill="#f40000"/><circle cx="493.59" cy="212.95" r="1.95" fill="#f40000"/><circle cx="494.17" cy="212.95" r="1.95" fill="#f40000"/><circle cx="494.74" cy="212.95" r="1.95" fill="#f40000"/><circle cx="495.31" cy="212.96" r="1.95" fill="#f40000"/><circle cx="495.89" cy="212.96" r="1.95" fill="#f40000"/><circle cx="496.46" cy="212.96" r="1.95" fill="#f40000"/><circle cx="497.03" cy="212.97" r="1.95" fill="#f40000"/><circle cx="497.61" cy="212.97" r="1.95" fill="#f40000"/><circle cx="498.18" cy="212.97" r="1.95" fill="#f40000"/><circle cx="498.75" cy="212.98" r="1.95" fill="#f40000"/><circle cx="499.32" cy="212.98" r="1.95" fill="#f40000"/><circle cx="499.90" cy="212.98" r="1.95" fill="#f40000"/><circle cx="500.47" cy="212.99" r="1.95" fill="#f40000"/><circle cx="501.04" cy="212.99" r="1.95" fill="#f40000"/><circle cx="501.62" cy="213.00" r="1.95" fill="#f40000"/><circle cx="502.19" cy="213.00" r="1.95" fill="#f40000"/><circle cx="502.76" cy="213.01" r="1.95" fill="#f40000"/><circle cx="503.34" cy="213.01" r="1.95" fill="#f40000"/><circle cx="503.91" cy="213.02" r="1.95" fill="#f40000"/><circle cx="504.48" cy="213.02" r="1.95" fill="#f40000"/><circle cx="505.05" cy="213.03" r="1.95" fill="#f40000"/><circle cx="505.63" cy="213.03" r="1.95" fill="#f40000"/><circle cx="506.20" cy="213.04" r="1.95" fill="#f40000"/><circle cx="506.77" cy="213.05" r="1.95" fill="#f40000"/><circle cx="507.35" cy="213.05" r="1.95" fill="#f40000"/><circle cx="507.92" cy="213.06" r="1.95" fill="#f40000"/><circle cx="508.49" cy="213.07" r="1.95" fill="#f40000"/><circle cx="509.06" cy="213.08" r="1.95" fill="#f40000"/><circle cx="509.64" cy="213.08" r="1.95" fill="#f40000"/><circle cx="510.21" cy="213.09" r="1.95" fill="#f40000"/><circle cx="510.78" cy="213.10" r="1.95" fill="#f40000"/><circle cx="511.36" cy="213.11" r="1.95" fill="#f40000"/><circle cx="511.93" cy="213.12" r="1.95" fill="#f40000"/><circle cx="512.50" cy="213.13" r="1.95" fill="#f40000"/><circle cx="513.08" cy="213.14" r="1.95" fill="#f40000"/><circle cx="513.65" cy="213.16" r="1.95" fill="#f40000"/><circle cx="514.22" cy="213.17" r="1.95" fill="#f40000"/><circle cx="514.79" cy="213.18" r="1.95" fill="#f40000"/><circle cx="515.37" cy="213.19" r="1.95" fill="#f40000"/><circle cx="515.94" cy="213.21" r="1.95" fill="#f40000"/><circle cx="516.51" cy="213.22" r="1.95" fill="#f40000"/><circle cx="517.09" cy="213.24" r="1.95" fill="#f40000"/><circle cx="517.66" cy="213.25" r="1.95" fill="#f40000"/><circle cx="518.23" cy="213.27" r="1.95" fill="#f40000"/><circle cx="518.81" cy="213.29" r="1.95" fill="#f40000"/><circle cx="519.38" cy="213.31" r="1.95" fill="#f40000"/><circle cx="519.95" cy="213.33" r="1.95" fill="#f40000"/><circle cx="520.52" cy="213.35" r="1.95" fill="#f40000"/><circle cx="521.10" cy="213.37" r="1.95" fill="#f40000"/><circle cx="521.67" cy="213.39" r="1.95" fill="#f40000"/><circle cx="522.24" cy="213.41" r="1.95" fill="#f40000"/><circle cx="522.82" cy="213.44" r="1.95" fill="#f40000"/><circle cx="523.39" cy="213.46" r="1.95" fill="#f40000"/><circle cx="523.96" cy="213.49" r="1.95" fill="#f40000"/><circle cx="524.54" cy="213.52" r="1.95" fill="#f40000"/><circle cx="525.11" cy="213.55" r="1.95" fill="#f40000"/><circle cx="525.68" cy="213.58" r="1.95" fill="#f40000"/><circle cx="526.25" cy="213.61" r="1.95" fill="#f40000"/><circle cx="526.83" cy="213.65" r="1.95" fill="#f40000"/><circle cx="527.40" cy="213.68" r="1.95" fill="#f40000"/><circle cx="527.97" cy="213.72" r="1.95" fill="#f40000"/><circle cx="528.55" cy="213.76" r="1.95" fill="#f40000"/><circle cx="529.12" cy="213.80" r="1.95" fill="#f40000"/><circle cx="529.69" cy="213.84" r="1.95" fill="#f40000"/><circle cx="530.26" cy="213.89" r="1.95" fill="#f40000"/><circle cx="530.84" cy="213.93" r="1.95" fill="#f40000"/><circle cx="531.41" cy="213.98" r="1.95" fill="#f40000"/><circle cx="531.98" cy="214.03" r="1.95" fill="#f40000"/><circle cx="532.56" cy="214.09" r="1.95" fill="#f40000"/><circle cx="533.13" cy="214.14" r="1.95" fill="#f40000"/><circle cx="533.70" cy="214.20" r="1.95" fill="#f40000"/><circle cx="534.28" cy="214.27" r="1.95" fill="#f40000"/><circle cx="534.85" cy="214.33" r="1.95" fill="#f40000"/><circle cx="535.42" cy="214.40" r="1.95" fill="#f40000"/><circle cx="535.99" cy="214.47" r="1.95" fill="#f40000"/><circle cx="536.57" cy="214.55" r="1.95" fill="#f40000"/><circle cx="537.14" cy="214.62" r="1.95" fill="#f40000"/><circle cx="537.71" cy="214.71" r="1.95" fill="#f40000"/><circle cx="538.29" cy="214.79" r="1.95" fill="#f40000"/><circle cx="538.86" cy="214.88" r="1.95" fill="#f40000"/><circle cx="539.43" cy="214.98" r="1.95" fill="#f40000"/><circle cx="540.01" cy="215.08" r="1.95" fill="#f40000"/><circle cx="540.58" cy="215.18" r="1.95" fill="#f40000"/><circle cx="541.15" cy="215.29" r="1.95" fill="#f40000"/><circle cx="541.72" cy="215.41" r="1.95" fill="#f40000"/><circle cx="542.30" cy="215.53" r="1.95" fill="#f40000"/><circle cx="542.87" cy="215.66" r="1.95" fill="#f40000"/><circle cx="543.44" cy="215.79" r="1.95" fill="#f40000"/><circle cx="544.02" cy="215.93" r="1.95" fill="#f40000"/><circle cx="544.59" cy="216.07" r="1.95" fill="#f40000"/><circle cx="545.16" cy="216.23" r="1.95" fill="#f40000"/><circle cx="545.74" cy="216.39" r="1.95" fill="#f40000"/><circle cx="546.31" cy="216.56" r="1.95" fill="#f40000"/><circle cx="546.88" cy="216.73" r="1.95" fill="#f40000"/><circle cx="547.45" cy="216.92" r="1.95" fill="#f40000"/><circle cx="548.03" cy="217.11" r="1.95" fill="#f40000"/><circle cx="548.60" cy="217.32" r="1.95" fill="#f40000"/><circle cx="549.17" cy="217.53" r="1.95" fill="#f40000"/><circle cx="549.75" cy="217.76" r="1.95" fill="#f40000"/><circle cx="550.32" cy="218.00" r="1.95" fill="#f40000"/><circle cx="550.89" cy="218.25" r="1.95" fill="#f40000"/><circle cx="551.46" cy="218.51" r="1.95" fill="#f40000"/><circle cx="552.04" cy="218.78" r="1.95" fill="#f40000"/><circle cx="552.61" cy="219.07" r="1.95" fill="#f40000"/><circle cx="553.18" cy="219.37" r="1.95" fill="#f40000"/><circle cx="553.76" cy="219.69" r="1.95" fill="#f40000"/><circle cx="554.33" cy="220.03" r="1.95" fill="#f40000"/><circle cx="554.90" cy="220.38" r="1.95" fill="#f40000"/><circle cx="555.48" cy="220.75" r="1.95" fill="#f40000"/><circle cx="556.05" cy="221.14" r="1.95" fill="#f40000"/><circle cx="556.62" cy="221.55" r="1.95" fill="#f40000"/><circle cx="557.19" cy="221.99" r="1.95" fill="#f40000"/><circle cx="557.77" cy="222.44" r="1.95" fill="#f40000"/><circle cx="558.34" cy="222.92" r="1.95" fill="#f40000"/><circle cx="558.91" cy="223.43" r="1.95" fill="#f40000"/><circle cx="559.49" cy="223.96" r="1.95" fill="#f40000"/><circle cx="560.06" cy="224.52" r="1.95" fill="#f40000"/><circle cx="560.63" cy="225.12" r="1.95" fill="#f40000"/><circle cx="561.21" cy="225.74" r="1.95" fill="#f40000"/><circle cx="561.78" cy="226.41" r="1.95" fill="#f40000"/><circle cx="562.35" cy="227.10" r="1.95" fill="#f40000"/><circle cx="562.92" cy="227.84" r="1.95" fill="#f40000"/><circle cx="563.50" cy="228.63" r="1.95" fill="#f40000"/><circle cx="564.07" cy="229.45" r="1.95" fill="#f40000"/><circle cx="564.64" cy="230.33" r="1.95" fill="#f40000"/><circle cx="565.22" cy="231.26" r="1.95" fill="#f40000"/><circle cx="565.79" cy="232.25" r="1.95" fill="#f40000"/><circle cx="566.36" cy="233.30" r="1.95" fill="#f40000"/><circle cx="566.94" cy="234.42" r="1.95" fill="#f40000"/><circle cx="567.51" cy="235.61" r="1.95" fill="#f40000"/><circle cx="568.08" cy="236.88" r="1.95" fill="#f40000"/><circle cx="568.65" cy="238.23" r="1.95" fill="#f40000"/><circle cx="569.23" cy="239.68" r="1.95" fill="#f40000"/><circle cx="569.80" cy="241.24" r="1.95" fill="#f40000"/><circle cx="570.37" cy="242.91" r="1.95" fill="#f40000"/><circle cx="570.95" cy="244.71" r="1.95" fill="#f40000"/><circle cx="571.52" cy="246.66" r="1.95" fill="#f40000"/><circle cx="572.09" cy="248.77" r="1.95" fill="#f40000"/><circle cx="572.66" cy="251.07" r="1.95" fill="#f40000"/><circle cx="573.24" cy="253.59" r="1.95" fill="#f40000"/><circle cx="573.81" cy="256.37" r="1.95" fill="#f40000"/><circle cx="574.38" cy="259.45" r="1.95" fill="#f40000"/><circle cx="574.96" cy="262.90" r="1.95" fill="#f40000"/><circle cx="575.53" cy="266.81" r="1.95" fill="#f40000"/><circle cx="576.10" cy="271.32" r="1.95" fill="#f40000"/><circle cx="576.68" cy="276.62" r="1.95" fill="#f40000"/><circle cx="577.25" cy="283.07" r="1.95" fill="#f40000"/><circle cx="577.82" cy="291.32" r="1.95" fill="#f40000"/><circle cx="578.39" cy="302.84" r="1.95" fill="#f40000"/><circle cx="578.97" cy="322.54" r="1.95" fill="#f40000"/><circle cx="580.11" cy="320.54" r="1.95" fill="#f40000"/><circle cx="580.69" cy="304.58" r="1.95" fill="#f40000"/><circle cx="581.26" cy="295.55" r="1.95" fill="#f40000"/><circle cx="581.83" cy="289.52" r="1.95" fill="#f40000"/><circle cx="582.41" cy="285.21" r="1.95" fill="#f40000"/><circle cx="582.98" cy="282.05" r="1.95" fill="#f40000"/><circle cx="583.55" cy="279.75" r="1.95" fill="#f40000"/><circle cx="584.12" cy="278.11" r="1.95" fill="#f40000"/><circle cx="584.70" cy="277.05" r="1.95" fill="#f40000"/><circle cx="585.27" cy="276.50" r="1.95" fill="#f40000"/><circle cx="585.84" cy="276.42" r="1.95" fill="#f40000"/><circle cx="586.42" cy="276.80" r="1.95" fill="#f40000"/><circle cx="586.99" cy="277.65" r="1.95" fill="#f40000"/><circle cx="587.56" cy="278.97" r="1.95" fill="#f40000"/><circle cx="588.14" cy="280.82" r="1.95" fill="#f40000"/><circle cx="588.71" cy="283.26" r="1.95" fill="#f40000"/><circle cx="589.28" cy="286.40" r="1.95" fill="#f40000"/><circle cx="589.85" cy="290.39" r="1.95" fill="#f40000"/><circle cx="590.43" cy="295.52" r="1.95" fill="#f40000"/><circle cx="591.00" cy="302.26" r="1.95" fill="#f40000"/><circle cx="591.57" cy="311.63" r="1.95" fill="#f40000"/><circle cx="594.44" cy="313.40" r="1.95" fill="#f40000"/><circle cx="595.01" cy="307.00" r="1.95" fill="#f40000"/><circle cx="595.58" cy="302.99" r="1.95" fill="#f40000"/><circle cx="596.16" cy="300.63" r="1.95" fill="#f40000"/><circle cx="596.73" cy="299.58" r="1.95" fill="#f40000"/><circle cx="597.30" cy="299.70" r="1.95" fill="#f40000"/><circle cx="597.88" cy="300.99" r="1.95" fill="#f40000"/><circle cx="598.45" cy="303.52" r="1.95" fill="#f40000"/><circle cx="599.02" cy="307.53" r="1.95" fill="#f40000"/><circle cx="599.59" cy="313.51" r="1.95" fill="#f40000"/><circle cx="600.17" cy="322.55" r="1.95" fill="#f40000"/><circle cx="603.03" cy="322.89" r="1.95" fill="#f40000"/><circle cx="603.61" cy="317.87" r="1.95" fill="#f40000"/><circle cx="604.18" cy="315.61" r="1.95" fill="#f40000"/><circle cx="604.75" cy="315.57" r="1.95" fill="#f40000"/><circle cx="605.32" cy="317.67" r="1.95" fill="#f40000"/><circle cx="605.90" cy="322.25" r="1.95" fill="#f40000"/>
</g>
<rect x="485.00" y="171.80" width="148.40" height="148.70" fill="none" stroke="#505050" stroke-width="1.2"/>
<path d="M485.00 320.50v-4.5M485.00 171.80v4.5M502.17 320.50v-2.5M502.17 171.80v2.5M512.21 320.50v-2.5M512.21 171.80v2.5M519.34 320.50v-2.5M519.34 171.80v2.5M524.86 320.50v-2.5M524.86 171.80v2.5M529.38 320.50v-2.5M529.38 171.80v2.5M533.20 320.50v-2.5M533.20 171.80v2.5M536.50 320.50v-2.5M536.50 171.80v2.5M539.42 320.50v-2.5M539.42 171.80v2.5M542.03 320.50v-4.5M542.03 171.80v4.5M559.20 320.50v-2.5M559.20 171.80v2.5M569.24 320.50v-2.5M569.24 171.80v2.5M576.37 320.50v-2.5M576.37 171.80v2.5M581.90 320.50v-2.5M581.90 171.80v2.5M586.41 320.50v-2.5M586.41 171.80v2.5M590.23 320.50v-2.5M590.23 171.80v2.5M593.54 320.50v-2.5M593.54 171.80v2.5M596.45 320.50v-2.5M596.45 171.80v2.5M599.06 320.50v-4.5M599.06 171.80v4.5M616.23 320.50v-2.5M616.23 171.80v2.5M626.27 320.50v-2.5M626.27 171.80v2.5M633.40 320.50v-2.5M633.40 171.80v2.5" stroke="#505050" stroke-width="1" fill="none"/>
<text transform="translate(476.62 339.80) scale(0.89 1)" style="font-family:'Liberation Serif',serif;font-size:13.0px" fill="#111" stroke="#111" stroke-width="0.25">10</text><text transform="translate(487.73 333.10) scale(0.9 1)" style="font-family:'Liberation Serif',serif;font-size:8.2px" fill="#111" stroke="#111" stroke-width="0.25">-3</text>
<text transform="translate(533.71 339.80) scale(0.89 1)" style="font-family:'Liberation Serif',serif;font-size:13.0px" fill="#111" stroke="#111" stroke-width="0.25">10</text><text transform="translate(544.82 333.10) scale(0.9 1)" style="font-family:'Liberation Serif',serif;font-size:8.2px" fill="#111" stroke="#111" stroke-width="0.25">-2</text>
<text transform="translate(590.76 339.80) scale(0.89 1)" style="font-family:'Liberation Serif',serif;font-size:13.0px" fill="#111" stroke="#111" stroke-width="0.25">10</text><text transform="translate(601.87 333.10) scale(0.9 1)" style="font-family:'Liberation Serif',serif;font-size:8.2px" fill="#111" stroke="#111" stroke-width="0.25">-1</text>
<path d="M485.00 320.50h4.5M633.40 320.50h-4.5M485.00 311.55h2.2M633.40 311.55h-2.2M485.00 306.31h2.2M633.40 306.31h-2.2M485.00 302.59h2.2M633.40 302.59h-2.2M485.00 299.71h2.2M633.40 299.71h-2.2M485.00 297.36h2.2M633.40 297.36h-2.2M485.00 295.37h2.2M633.40 295.37h-2.2M485.00 293.64h2.2M633.40 293.64h-2.2M485.00 292.12h2.2M633.40 292.12h-2.2M485.00 290.76h4.5M633.40 290.76h-4.5M485.00 281.81h2.2M633.40 281.81h-2.2M485.00 276.57h2.2M633.40 276.57h-2.2M485.00 272.85h2.2M633.40 272.85h-2.2M485.00 269.97h2.2M633.40 269.97h-2.2M485.00 267.62h2.2M633.40 267.62h-2.2M485.00 265.63h2.2M633.40 265.63h-2.2M485.00 263.90h2.2M633.40 263.90h-2.2M485.00 262.38h2.2M633.40 262.38h-2.2M485.00 261.02h4.5M633.40 261.02h-4.5M485.00 252.07h2.2M633.40 252.07h-2.2M485.00 246.83h2.2M633.40 246.83h-2.2M485.00 243.11h2.2M633.40 243.11h-2.2M485.00 240.23h2.2M633.40 240.23h-2.2M485.00 237.88h2.2M633.40 237.88h-2.2M485.00 235.89h2.2M633.40 235.89h-2.2M485.00 234.16h2.2M633.40 234.16h-2.2M485.00 232.64h2.2M633.40 232.64h-2.2M485.00 231.28h4.5M633.40 231.28h-4.5M485.00 222.33h2.2M633.40 222.33h-2.2M485.00 217.09h2.2M633.40 217.09h-2.2M485.00 213.37h2.2M633.40 213.37h-2.2M485.00 210.49h2.2M633.40 210.49h-2.2M485.00 208.14h2.2M633.40 208.14h-2.2M485.00 206.15h2.2M633.40 206.15h-2.2M485.00 204.42h2.2M633.40 204.42h-2.2M485.00 202.90h2.2M633.40 202.90h-2.2M485.00 201.54h4.5M633.40 201.54h-4.5M485.00 192.59h2.2M633.40 192.59h-2.2M485.00 187.35h2.2M633.40 187.35h-2.2M485.00 183.63h2.2M633.40 183.63h-2.2M485.00 180.75h2.2M633.40 180.75h-2.2M485.00 178.40h2.2M633.40 178.40h-2.2M485.00 176.41h2.2M633.40 176.41h-2.2M485.00 174.68h2.2M633.40 174.68h-2.2M485.00 173.16h2.2M633.40 173.16h-2.2M485.00 171.80h4.5M633.40 171.80h-4.5" stroke="#505050" stroke-width="1" fill="none"/>
<text transform="translate(462.23 326.60) scale(0.89 1)" style="font-family:'Liberation Serif',serif;font-size:13.0px" fill="#111" stroke="#111" stroke-width="0.25">10</text><text transform="translate(473.33 319.90) scale(0.9 1)" style="font-family:'Liberation Serif',serif;font-size:8.2px" fill="#111" stroke="#111" stroke-width="0.25">-3</text>
<text transform="translate(462.34 296.86) scale(0.89 1)" style="font-family:'Liberation Serif',serif;font-size:13.0px" fill="#111" stroke="#111" stroke-width="0.25">10</text><text transform="translate(473.44 290.16) scale(0.9 1)" style="font-family:'Liberation Serif',serif;font-size:8.2px" fill="#111" stroke="#111" stroke-width="0.25">-2</text>
<text transform="translate(462.37 267.12) scale(0.89 1)" style="font-family:'Liberation Serif',serif;font-size:13.0px" fill="#111" stroke="#111" stroke-width="0.25">10</text><text transform="translate(473.48 260.42) scale(0.9 1)" style="font-family:'Liberation Serif',serif;font-size:8.2px" fill="#111" stroke="#111" stroke-width="0.25">-1</text>
<text transform="translate(464.70 237.38) scale(0.89 1)" style="font-family:'Liberation Serif',serif;font-size:13.0px" fill="#111" stroke="#111" stroke-width="0.25">10</text><text transform="translate(475.81 230.68) scale(0.9 1)" style="font-family:'Liberation Serif',serif;font-size:8.2px" fill="#111" stroke="#111" stroke-width="0.25">0</text>
<text transform="translate(464.85 207.64) scale(0.89 1)" style="font-family:'Liberation Serif',serif;font-size:13.0px" fill="#111" stroke="#111" stroke-width="0.25">10</text><text transform="translate(475.95 200.94) scale(0.9 1)" style="font-family:'Liberation Serif',serif;font-size:8.2px" fill="#111" stroke="#111" stroke-width="0.25">1</text>
<text transform="translate(464.81 177.90) scale(0.89 1)" style="font-family:'Liberation Serif',serif;font-size:13.0px" fill="#111" stroke="#111" stroke-width="0.25">10</text><text transform="translate(475.92 171.20) scale(0.9 1)" style="font-family:'Liberation Serif',serif;font-size:8.2px" fill="#111" stroke="#111" stroke-width="0.25">2</text>
<text transform="translate(559.30 359.30) scale(0.95 1)" text-anchor="middle" style="font-family:'Liberation Serif',serif;font-size:13.0px" fill="#111" stroke="#111" stroke-width="0.25"><tspan font-style="italic">Q</tspan> / Å<tspan font-size="8.2px" dy="-6.8">-1</tspan></text>
<g transform="translate(454.80 248.00) rotate(-90) scale(0.9300 1)"><text x="0" y="0" text-anchor="middle" style="font-family:'Liberation Serif',serif;font-size:13.0px" fill="#111" stroke="#111" stroke-width="0.25"><tspan font-style="italic">S</tspan><tspan font-size="8.2px" dy="2.2">ii</tspan><tspan dy="-2.2"> / ×10</tspan><tspan font-size="8.2px" dy="-6.8">20</tspan><tspan dy="6.8"> cm</tspan><tspan font-size="8.2px" dy="-6.8">3</tspan></text></g>
<circle cx="586.80" cy="191.80" r="3.0" fill="#f40000"/>
<text transform="translate(600.10 195.60) scale(0.95 1)" style="font-family:'Liberation Serif',serif;font-size:12.6px" fill="#111" stroke="#111" stroke-width="0.25">S<tspan font-size="9.4px" dy="2.1" letter-spacing="0.25">cc</tspan></text>
<path d="M586.80 201.00L590.90 205.10L586.80 209.20L582.70 205.10Z" fill="#009000"/>
<text transform="translate(600.10 208.90) scale(0.95 1)" style="font-family:'Liberation Serif',serif;font-size:12.6px" fill="#111" stroke="#111" stroke-width="0.25">S<tspan font-size="9.4px" dy="2.1" letter-spacing="0.25">pp</tspan></text>
<text x="496.90" y="310.10" style="font-family:'Liberation Sans',sans-serif;font-size:15.3px" fill="#111">log plot</text>
<g clip-path="url(#clb)">
<path d="M263.10 454.10L265.90 458.60L260.30 458.60Z" fill="#929200"/><path d="M263.66 454.10L266.46 458.60L260.86 458.60Z" fill="#929200"/><path d="M264.22 454.10L267.02 458.60L261.42 458.60Z" fill="#929200"/><path d="M264.78 454.10L267.58 458.60L261.98 458.60Z" fill="#929200"/><path d="M265.34 454.10L268.14 458.60L262.54 458.60Z" fill="#929200"/><path d="M265.90 454.10L268.70 458.60L263.10 458.60Z" fill="#929200"/><path d="M266.46 454.10L269.26 458.60L263.66 458.60Z" fill="#929200"/><path d="M267.02 454.10L269.82 458.60L264.22 458.60Z" fill="#929200"/><path d="M267.58 454.10L270.38 458.60L264.78 458.60Z" fill="#929200"/><path d="M268.14 454.10L270.94 458.60L265.34 458.60Z" fill="#929200"/><path d="M268.70 454.10L271.50 458.60L265.90 458.60Z" fill="#929200"/><path d="M269.26 454.10L272.06 458.60L266.46 458.60Z" fill="#929200"/><path d="M269.82 454.10L272.62 458.60L267.02 458.60Z" fill="#929200"/><path d="M270.38 454.10L273.18 458.60L267.58 458.60Z" fill="#929200"/><path d="M270.94 454.10L273.74 458.60L268.14 458.60Z" fill="#929200"/><path d="M271.50 454.10L274.30 458.60L268.70 458.60Z" fill="#929200"/><path d="M272.06 454.10L274.86 458.60L269.26 458.60Z" fill="#929200"/><path d="M272.62 454.10L275.42 458.60L269.82 458.60Z" fill="#929200"/><path d="M273.18 454.10L275.98 458.60L270.38 458.60Z" fill="#929200"/><path d="M273.74 454.10L276.54 458.60L270.94 458.60Z" fill="#929200"/><path d="M274.30 454.10L277.10 458.60L271.50 458.60Z" fill="#929200"/><path d="M274.86 454.10L277.66 458.60L272.06 458.60Z" fill="#929200"/><path d="M275.43 454.10L278.23 458.60L272.63 458.60Z" fill="#929200"/><path d="M275.99 454.10L278.79 458.60L273.19 458.60Z" fill="#929200"/><path d="M276.55 454.10L279.35 458.60L273.75 458.60Z" fill="#929200"/><path d="M277.11 454.10L279.91 458.60L274.31 458.60Z" fill="#929200"/><path d="M277.67 454.10L280.47 458.60L274.87 458.60Z" fill="#929200"/><path d="M278.23 454.10L281.03 458.60L275.43 458.60Z" fill="#929200"/><path d="M278.79 454.10L281.59 458.60L275.99 458.60Z" fill="#929200"/><path d="M279.35 454.10L282.15 458.60L276.55 458.60Z" fill="#929200"/><path d="M279.91 454.10L282.71 458.60L277.11 458.60Z" fill="#929200"/><path d="M280.47 454.10L283.27 458.60L277.67 458.60Z" fill="#929200"/><path d="M281.03 454.10L283.83 458.60L278.23 458.60Z" fill="#929200"/><path d="M281.59 454.10L284.39 458.60L278.79 458.60Z" fill="#929200"/><path d="M282.15 454.10L284.95 458.60L279.35 458.60Z" fill="#929200"/><path d="M282.71 454.10L285.51 458.60L279.91 458.60Z" fill="#929200"/><path d="M283.27 454.10L286.07 458.60L280.47 458.60Z" fill="#929200"/><path d="M283.83 454.10L286.63 458.60L281.03 458.60Z" fill="#929200"/><path d="M284.39 454.10L287.19 458.60L281.59 458.60Z" fill="#929200"/><path d="M284.95 454.10L287.75 458.60L282.15 458.60Z" fill="#929200"/><path d="M285.51 454.10L288.31 458.60L282.71 458.60Z" fill="#929200"/><path d="M286.07 454.10L288.87 458.60L283.27 458.60Z" fill="#929200"/><path d="M286.63 454.10L289.43 458.60L283.83 458.60Z" fill="#929200"/><path d="M287.19 454.10L289.99 458.60L284.39 458.60Z" fill="#929200"/><path d="M287.75 454.10L290.55 458.60L284.95 458.60Z" fill="#929200"/><path d="M288.31 454.10L291.11 458.60L285.51 458.60Z" fill="#929200"/><path d="M288.87 454.10L291.67 458.60L286.07 458.60Z" fill="#929200"/><path d="M289.43 454.10L292.23 458.60L286.63 458.60Z" fill="#929200"/><path d="M289.99 454.10L292.79 458.60L287.19 458.60Z" fill="#929200"/><path d="M290.55 454.10L293.35 458.60L287.75 458.60Z" fill="#929200"/><path d="M291.11 454.10L293.91 458.60L288.31 458.60Z" fill="#929200"/><path d="M291.67 454.10L294.47 458.60L288.87 458.60Z" fill="#929200"/><path d="M292.23 454.10L295.03 458.60L289.43 458.60Z" fill="#929200"/><path d="M292.79 454.10L295.59 458.60L289.99 458.60Z" fill="#929200"/><path d="M293.35 454.10L296.15 458.60L290.55 458.60Z" fill="#929200"/><path d="M293.91 454.10L296.71 458.60L291.11 458.60Z" fill="#929200"/><path d="M294.47 454.10L297.27 458.60L291.67 458.60Z" fill="#929200"/><path d="M295.03 454.10L297.83 458.60L292.23 458.60Z" fill="#929200"/><path d="M295.59 454.10L298.39 458.60L292.79 458.60Z" fill="#929200"/><path d="M296.15 454.10L298.95 458.60L293.35 458.60Z" fill="#929200"/><path d="M296.71 454.10L299.51 458.60L293.91 458.60Z" fill="#929200"/><path d="M297.27 454.10L300.07 458.60L294.47 458.60Z" fill="#929200"/><path d="M297.83 454.10L300.63 458.60L295.03 458.60Z" fill="#929200"/><path d="M298.39 454.10L301.19 458.60L295.59 458.60Z" fill="#929200"/><path d="M298.95 454.10L301.75 458.60L296.15 458.60Z" fill="#929200"/><path d="M299.52 454.10L302.32 458.60L296.72 458.60Z" fill="#929200"/><path d="M300.08 454.10L302.88 458.60L297.28 458.60Z" fill="#929200"/><path d="M300.64 454.10L303.44 458.60L297.84 458.60Z" fill="#929200"/><path d="M301.20 454.10L304.00 458.60L298.40 458.60Z" fill="#929200"/><path d="M301.76 454.10L304.56 458.60L298.96 458.60Z" fill="#929200"/><path d="M302.32 454.10L305.12 458.60L299.52 458.60Z" fill="#929200"/><path d="M302.88 454.10L305.68 458.60L300.08 458.60Z" fill="#929200"/><path d="M303.44 454.10L306.24 458.60L300.64 458.60Z" fill="#929200"/><path d="M304.00 454.10L306.80 458.60L301.20 458.60Z" fill="#929200"/><path d="M304.56 454.10L307.36 458.60L301.76 458.60Z" fill="#929200"/><path d="M305.12 454.10L307.92 458.60L302.32 458.60Z" fill="#929200"/><path d="M305.68 454.10L308.48 458.60L302.88 458.60Z" fill="#929200"/><path d="M306.24 454.10L309.04 458.60L303.44 458.60Z" fill="#929200"/><path d="M306.80 454.10L309.60 458.60L304.00 458.60Z" fill="#929200"/><path d="M307.36 454.10L310.16 458.60L304.56 458.60Z" fill="#929200"/><path d="M307.92 454.10L310.72 458.60L305.12 458.60Z" fill="#929200"/><path d="M308.48 454.10L311.28 458.60L305.68 458.60Z" fill="#929200"/><path d="M309.04 454.10L311.84 458.60L306.24 458.60Z" fill="#929200"/><path d="M309.60 454.10L312.40 458.60L306.80 458.60Z" fill="#929200"/><path d="M310.16 454.10L312.96 458.60L307.36 458.60Z" fill="#929200"/><path d="M310.72 454.10L313.52 458.60L307.92 458.60Z" fill="#929200"/><path d="M311.28 454.10L314.08 458.60L308.48 458.60Z" fill="#929200"/><path d="M311.84 454.10L314.64 458.60L309.04 458.60Z" fill="#929200"/><path d="M312.40 454.10L315.20 458.60L309.60 458.60Z" fill="#929200"/><path d="M312.96 454.10L315.76 458.60L310.16 458.60Z" fill="#929200"/><path d="M313.52 454.10L316.32 458.60L310.72 458.60Z" fill="#929200"/><path d="M314.08 454.10L316.88 458.60L311.28 458.60Z" fill="#929200"/><path d="M314.64 454.10L317.44 458.60L311.84 458.60Z" fill="#929200"/><path d="M315.20 454.10L318.00 458.60L312.40 458.60Z" fill="#929200"/><path d="M315.76 454.10L318.56 458.60L312.96 458.60Z" fill="#929200"/><path d="M316.32 454.10L319.12 458.60L313.52 458.60Z" fill="#929200"/><path d="M316.88 454.10L319.68 458.60L314.08 458.60Z" fill="#929200"/><path d="M317.44 454.10L320.24 458.60L314.64 458.60Z" fill="#929200"/><path d="M318.00 454.10L320.80 458.60L315.20 458.60Z" fill="#929200"/><path d="M318.56 454.10L321.36 458.60L315.76 458.60Z" fill="#929200"/><path d="M319.12 454.10L321.92 458.60L316.32 458.60Z" fill="#929200"/><path d="M319.68 454.10L322.48 458.60L316.88 458.60Z" fill="#929200"/><path d="M320.24 454.10L323.04 458.60L317.44 458.60Z" fill="#929200"/><path d="M320.80 454.10L323.60 458.60L318.00 458.60Z" fill="#929200"/><path d="M321.36 454.10L324.16 458.60L318.56 458.60Z" fill="#929200"/><path d="M321.92 454.10L324.72 458.60L319.12 458.60Z" fill="#929200"/><path d="M322.48 454.10L325.28 458.60L319.68 458.60Z" fill="#929200"/><path d="M323.04 454.10L325.84 458.60L320.24 458.60Z" fill="#929200"/><path d="M323.61 454.10L326.41 458.60L320.81 458.60Z" fill="#929200"/><path d="M324.17 454.10L326.97 458.60L321.37 458.60Z" fill="#929200"/><path d="M324.73 454.10L327.53 458.60L321.93 458.60Z" fill="#929200"/><path d="M325.29 454.10L328.09 458.60L322.49 458.60Z" fill="#929200"/><path d="M325.85 454.10L328.65 458.60L323.05 458.60Z" fill="#929200"/><path d="M326.41 454.10L329.21 458.60L323.61 458.60Z" fill="#929200"/><path d="M326.97 454.10L329.77 458.60L324.17 458.60Z" fill="#929200"/><path d="M327.53 454.10L330.33 458.60L324.73 458.60Z" fill="#929200"/><path d="M328.09 454.10L330.89 458.60L325.29 458.60Z" fill="#929200"/><path d="M328.65 454.10L331.45 458.60L325.85 458.60Z" fill="#929200"/><path d="M329.21 454.10L332.01 458.60L326.41 458.60Z" fill="#929200"/><path d="M329.77 454.10L332.57 458.60L326.97 458.60Z" fill="#929200"/><path d="M330.33 454.10L333.13 458.60L327.53 458.60Z" fill="#929200"/><path d="M330.89 454.10L333.69 458.60L328.09 458.60Z" fill="#929200"/><path d="M331.45 454.10L334.25 458.60L328.65 458.60Z" fill="#929200"/><path d="M332.01 454.10L334.81 458.60L329.21 458.60Z" fill="#929200"/><path d="M332.57 454.10L335.37 458.60L329.77 458.60Z" fill="#929200"/><path d="M333.13 454.10L335.93 458.60L330.33 458.60Z" fill="#929200"/><path d="M333.69 454.10L336.49 458.60L330.89 458.60Z" fill="#929200"/><path d="M334.25 454.10L337.05 458.60L331.45 458.60Z" fill="#929200"/><path d="M334.81 454.10L337.61 458.60L332.01 458.60Z" fill="#929200"/><path d="M335.37 454.10L338.17 458.60L332.57 458.60Z" fill="#929200"/><path d="M335.93 454.10L338.73 458.60L333.13 458.60Z" fill="#929200"/><path d="M336.49 454.10L339.29 458.60L333.69 458.60Z" fill="#929200"/><path d="M337.05 454.10L339.85 458.60L334.25 458.60Z" fill="#929200"/><path d="M337.61 454.10L340.41 458.60L334.81 458.60Z" fill="#929200"/><path d="M338.17 454.10L340.97 458.60L335.37 458.60Z" fill="#929200"/><path d="M338.73 454.10L341.53 458.60L335.93 458.60Z" fill="#929200"/><path d="M339.29 454.10L342.09 458.60L336.49 458.60Z" fill="#929200"/><path d="M339.85 454.10L342.65 458.60L337.05 458.60Z" fill="#929200"/><path d="M340.41 454.10L343.21 458.60L337.61 458.60Z" fill="#929200"/><path d="M340.97 454.10L343.77 458.60L338.17 458.60Z" fill="#929200"/><path d="M341.53 454.10L344.33 458.60L338.73 458.60Z" fill="#929200"/><path d="M342.09 454.10L344.89 458.60L339.29 458.60Z" fill="#929200"/><path d="M342.65 454.10L345.45 458.60L339.85 458.60Z" fill="#929200"/><path d="M343.21 454.10L346.01 458.60L340.41 458.60Z" fill="#929200"/><path d="M343.77 454.10L346.57 458.60L340.97 458.60Z" fill="#929200"/><path d="M344.33 454.10L347.13 458.60L341.53 458.60Z" fill="#929200"/><path d="M344.89 454.10L347.69 458.60L342.09 458.60Z" fill="#929200"/><path d="M345.45 454.10L348.25 458.60L342.65 458.60Z" fill="#929200"/><path d="M346.01 454.10L348.81 458.60L343.21 458.60Z" fill="#929200"/><path d="M346.57 454.10L349.37 458.60L343.77 458.60Z" fill="#929200"/><path d="M347.13 454.10L349.93 458.60L344.33 458.60Z" fill="#929200"/><path d="M347.69 454.10L350.49 458.60L344.89 458.60Z" fill="#929200"/><path d="M348.26 454.10L351.06 458.60L345.46 458.60Z" fill="#929200"/><path d="M348.82 454.10L351.62 458.60L346.02 458.60Z" fill="#929200"/><path d="M349.38 454.10L352.18 458.60L346.58 458.60Z" fill="#929200"/><path d="M349.94 454.10L352.74 458.60L347.14 458.60Z" fill="#929200"/><path d="M350.50 454.10L353.30 458.60L347.70 458.60Z" fill="#929200"/><path d="M351.06 454.10L353.86 458.60L348.26 458.60Z" fill="#929200"/><path d="M351.62 454.10L354.42 458.60L348.82 458.60Z" fill="#929200"/><path d="M352.18 454.10L354.98 458.60L349.38 458.60Z" fill="#929200"/><path d="M352.74 454.10L355.54 458.60L349.94 458.60Z" fill="#929200"/><path d="M353.30 454.10L356.10 458.60L350.50 458.60Z" fill="#929200"/><path d="M353.86 454.10L356.66 458.60L351.06 458.60Z" fill="#929200"/><path d="M354.42 454.10L357.22 458.60L351.62 458.60Z" fill="#929200"/><path d="M354.98 454.10L357.78 458.60L352.18 458.60Z" fill="#929200"/><path d="M355.54 454.10L358.34 458.60L352.74 458.60Z" fill="#929200"/><path d="M356.10 454.10L358.90 458.60L353.30 458.60Z" fill="#929200"/><path d="M356.66 454.10L359.46 458.60L353.86 458.60Z" fill="#929200"/><path d="M357.22 454.10L360.02 458.60L354.42 458.60Z" fill="#929200"/><path d="M357.78 454.10L360.58 458.60L354.98 458.60Z" fill="#929200"/><path d="M358.34 454.10L361.14 458.60L355.54 458.60Z" fill="#929200"/><path d="M358.90 454.10L361.70 458.60L356.10 458.60Z" fill="#929200"/><path d="M359.46 454.10L362.26 458.60L356.66 458.60Z" fill="#929200"/><path d="M360.02 454.10L362.82 458.60L357.22 458.60Z" fill="#929200"/><path d="M360.58 454.10L363.38 458.60L357.78 458.60Z" fill="#929200"/><path d="M361.14 454.10L363.94 458.60L358.34 458.60Z" fill="#929200"/><path d="M361.70 454.10L364.50 458.60L358.90 458.60Z" fill="#929200"/><path d="M362.26 454.10L365.06 458.60L359.46 458.60Z" fill="#929200"/><path d="M362.82 454.10L365.62 458.60L360.02 458.60Z" fill="#929200"/><path d="M363.38 454.10L366.18 458.60L360.58 458.60Z" fill="#929200"/><path d="M363.94 454.10L366.74 458.60L361.14 458.60Z" fill="#929200"/><path d="M364.50 454.10L367.30 458.60L361.70 458.60Z" fill="#929200"/><path d="M365.06 454.10L367.86 458.60L362.26 458.60Z" fill="#929200"/><path d="M365.62 454.10L368.42 458.60L362.82 458.60Z" fill="#929200"/><path d="M366.18 454.10L368.98 458.60L363.38 458.60Z" fill="#929200"/><path d="M366.74 454.10L369.54 458.60L363.94 458.60Z" fill="#929200"/><path d="M367.30 454.10L370.10 458.60L364.50 458.60Z" fill="#929200"/><path d="M367.86 454.10L370.66 458.60L365.06 458.60Z" fill="#929200"/><path d="M368.42 454.10L371.22 458.60L365.62 458.60Z" fill="#929200"/><path d="M368.98 454.10L371.78 458.60L366.18 458.60Z" fill="#929200"/><path d="M369.54 454.10L372.34 458.60L366.74 458.60Z" fill="#929200"/><path d="M370.10 454.10L372.90 458.60L367.30 458.60Z" fill="#929200"/><path d="M370.66 454.10L373.46 458.60L367.86 458.60Z" fill="#929200"/><path d="M371.22 454.10L374.02 458.60L368.42 458.60Z" fill="#929200"/><path d="M371.78 454.10L374.58 458.60L368.98 458.60Z" fill="#929200"/><path d="M372.35 454.10L375.15 458.60L369.55 458.60Z" fill="#929200"/><path d="M372.91 454.10L375.71 458.60L370.11 458.60Z" fill="#929200"/><path d="M373.47 454.10L376.27 458.60L370.67 458.60Z" fill="#929200"/><path d="M374.03 454.10L376.83 458.60L371.23 458.60Z" fill="#929200"/><path d="M374.59 454.10L377.39 458.60L371.79 458.60Z" fill="#929200"/><path d="M375.15 454.10L377.95 458.60L372.35 458.60Z" fill="#929200"/><path d="M375.71 454.10L378.51 458.60L372.91 458.60Z" fill="#929200"/><path d="M376.27 454.10L379.07 458.60L373.47 458.60Z" fill="#929200"/><path d="M376.83 454.10L379.63 458.60L374.03 458.60Z" fill="#929200"/><path d="M377.39 454.10L380.19 458.60L374.59 458.60Z" fill="#929200"/><path d="M377.95 454.10L380.75 458.60L375.15 458.60Z" fill="#929200"/><path d="M378.51 454.10L381.31 458.60L375.71 458.60Z" fill="#929200"/><path d="M379.07 454.10L381.87 458.60L376.27 458.60Z" fill="#929200"/><path d="M379.63 454.10L382.43 458.60L376.83 458.60Z" fill="#929200"/><path d="M380.19 454.10L382.99 458.60L377.39 458.60Z" fill="#929200"/><path d="M380.75 454.10L383.55 458.60L377.95 458.60Z" fill="#929200"/><path d="M381.31 454.10L384.11 458.60L378.51 458.60Z" fill="#929200"/><path d="M381.87 454.10L384.67 458.60L379.07 458.60Z" fill="#929200"/><path d="M382.43 454.10L385.23 458.60L379.63 458.60Z" fill="#929200"/><path d="M382.99 454.10L385.79 458.60L380.19 458.60Z" fill="#929200"/><path d="M383.55 454.10L386.35 458.60L380.75 458.60Z" fill="#929200"/><path d="M384.11 454.10L386.91 458.60L381.31 458.60Z" fill="#929200"/><path d="M384.67 454.10L387.47 458.60L381.87 458.60Z" fill="#929200"/><path d="M385.23 454.10L388.03 458.60L382.43 458.60Z" fill="#929200"/><path d="M385.79 454.10L388.59 458.60L382.99 458.60Z" fill="#929200"/><path d="M386.35 454.10L389.15 458.60L383.55 458.60Z" fill="#929200"/><path d="M386.91 454.10L389.71 458.60L384.11 458.60Z" fill="#929200"/><path d="M387.47 454.10L390.27 458.60L384.67 458.60Z" fill="#929200"/><path d="M388.03 454.10L390.83 458.60L385.23 458.60Z" fill="#929200"/><path d="M388.59 454.10L391.39 458.60L385.79 458.60Z" fill="#929200"/><path d="M389.15 454.10L391.95 458.60L386.35 458.60Z" fill="#929200"/><path d="M389.71 454.10L392.51 458.60L386.91 458.60Z" fill="#929200"/><path d="M390.27 454.10L393.07 458.60L387.47 458.60Z" fill="#929200"/><path d="M390.83 454.10L393.63 458.60L388.03 458.60Z" fill="#929200"/><path d="M391.39 454.10L394.19 458.60L388.59 458.60Z" fill="#929200"/><path d="M391.95 454.10L394.75 458.60L389.15 458.60Z" fill="#929200"/><path d="M392.51 454.10L395.31 458.60L389.71 458.60Z" fill="#929200"/><path d="M393.07 454.10L395.87 458.60L390.27 458.60Z" fill="#929200"/><path d="M393.63 454.10L396.43 458.60L390.83 458.60Z" fill="#929200"/><path d="M394.19 454.10L396.99 458.60L391.39 458.60Z" fill="#929200"/><path d="M394.75 454.10L397.55 458.60L391.95 458.60Z" fill="#929200"/><path d="M395.31 454.10L398.11 458.60L392.51 458.60Z" fill="#929200"/><path d="M395.87 454.10L398.67 458.60L393.07 458.60Z" fill="#929200"/><path d="M396.44 454.10L399.24 458.60L393.64 458.60Z" fill="#929200"/><path d="M397.00 454.10L399.80 458.60L394.20 458.60Z" fill="#929200"/><path d="M397.56 454.10L400.36 458.60L394.76 458.60Z" fill="#929200"/><path d="M398.12 454.10L400.92 458.60L395.32 458.60Z" fill="#929200"/><path d="M398.68 454.10L401.48 458.60L395.88 458.60Z" fill="#929200"/><path d="M399.24 454.10L402.04 458.60L396.44 458.60Z" fill="#929200"/><path d="M399.80 454.10L402.60 458.60L397.00 458.60Z" fill="#929200"/><path d="M400.36 454.10L403.16 458.60L397.56 458.60Z" fill="#929200"/><path d="M400.92 454.10L403.72 458.60L398.12 458.60Z" fill="#929200"/><path d="M401.48 454.10L404.28 458.60L398.68 458.60Z" fill="#929200"/><path d="M402.04 454.10L404.84 458.60L399.24 458.60Z" fill="#929200"/><path d="M402.60 454.10L405.40 458.60L399.80 458.60Z" fill="#929200"/><path d="M403.16 454.10L405.96 458.60L400.36 458.60Z" fill="#929200"/><path d="M403.72 454.10L406.52 458.60L400.92 458.60Z" fill="#929200"/><path d="M404.28 454.10L407.08 458.60L401.48 458.60Z" fill="#929200"/><path d="M404.84 454.10L407.64 458.60L402.04 458.60Z" fill="#929200"/><path d="M405.40 454.10L408.20 458.60L402.60 458.60Z" fill="#929200"/><path d="M405.96 454.10L408.76 458.60L403.16 458.60Z" fill="#929200"/><path d="M406.52 454.10L409.32 458.60L403.72 458.60Z" fill="#929200"/><path d="M407.08 454.10L409.88 458.60L404.28 458.60Z" fill="#929200"/><path d="M407.64 454.10L410.44 458.60L404.84 458.60Z" fill="#929200"/><path d="M408.20 454.10L411.00 458.60L405.40 458.60Z" fill="#929200"/>
</g>
<rect x="263.10" y="384.50" width="145.10" height="144.60" fill="none" stroke="#505050" stroke-width="1.2"/>
<path d="M263.10 529.10v-4.5M263.10 384.50v4.5M279.89 529.10v-2.5M279.89 384.50v2.5M289.71 529.10v-2.5M289.71 384.50v2.5M296.67 529.10v-2.5M296.67 384.50v2.5M302.08 529.10v-2.5M302.08 384.50v2.5M306.49 529.10v-2.5M306.49 384.50v2.5M310.23 529.10v-2.5M310.23 384.50v2.5M313.46 529.10v-2.5M313.46 384.50v2.5M316.31 529.10v-2.5M316.31 384.50v2.5M318.86 529.10v-4.5M318.86 384.50v4.5M335.65 529.10v-2.5M335.65 384.50v2.5M345.47 529.10v-2.5M345.47 384.50v2.5M352.44 529.10v-2.5M352.44 384.50v2.5M357.84 529.10v-2.5M357.84 384.50v2.5M362.26 529.10v-2.5M362.26 384.50v2.5M365.99 529.10v-2.5M365.99 384.50v2.5M369.22 529.10v-2.5M369.22 384.50v2.5M372.08 529.10v-2.5M372.08 384.50v2.5M374.63 529.10v-4.5M374.63 384.50v4.5M391.41 529.10v-2.5M391.41 384.50v2.5M401.23 529.10v-2.5M401.23 384.50v2.5M408.20 529.10v-2.5M408.20 384.50v2.5" stroke="#505050" stroke-width="1" fill="none"/>
<text transform="translate(254.72 548.40) scale(0.89 1)" style="font-family:'Liberation Serif',serif;font-size:13.0px" fill="#111" stroke="#111" stroke-width="0.25">10</text><text transform="translate(265.83 541.70) scale(0.9 1)" style="font-family:'Liberation Serif',serif;font-size:8.2px" fill="#111" stroke="#111" stroke-width="0.25">-3</text>
<text transform="translate(310.54 548.40) scale(0.89 1)" style="font-family:'Liberation Serif',serif;font-size:13.0px" fill="#111" stroke="#111" stroke-width="0.25">10</text><text transform="translate(321.65 541.70) scale(0.9 1)" style="font-family:'Liberation Serif',serif;font-size:8.2px" fill="#111" stroke="#111" stroke-width="0.25">-2</text>
<text transform="translate(366.32 548.40) scale(0.89 1)" style="font-family:'Liberation Serif',serif;font-size:13.0px" fill="#111" stroke="#111" stroke-width="0.25">10</text><text transform="translate(377.43 541.70) scale(0.9 1)" style="font-family:'Liberation Serif',serif;font-size:8.2px" fill="#111" stroke="#111" stroke-width="0.25">-1</text>
<path d="M263.10 529.10h3.5M408.20 529.10h-3.5M263.10 492.95h3.5M408.20 492.95h-3.5M263.10 456.80h3.5M408.20 456.80h-3.5M263.10 420.65h3.5M408.20 420.65h-3.5M263.10 384.50h3.5M408.20 384.50h-3.5" stroke="#505050" stroke-width="1" fill="none"/>
<text transform="translate(257.10 388.10) scale(0.88 1)" text-anchor="end" style="font-family:'Liberation Serif',serif;font-size:13.0px" fill="#111" stroke="#111" stroke-width="0.25">0.10</text>
<text transform="translate(257.10 424.25) scale(0.88 1)" text-anchor="end" style="font-family:'Liberation Serif',serif;font-size:13.0px" fill="#111" stroke="#111" stroke-width="0.25">0.05</text>
<text transform="translate(257.10 460.40) scale(0.88 1)" text-anchor="end" style="font-family:'Liberation Serif',serif;font-size:13.0px" fill="#111" stroke="#111" stroke-width="0.25">0.00</text>
<text transform="translate(257.10 496.55) scale(0.88 1)" text-anchor="end" style="font-family:'Liberation Serif',serif;font-size:13.0px" fill="#111" stroke="#111" stroke-width="0.25">-0.05</text>
<text transform="translate(257.10 532.70) scale(0.88 1)" text-anchor="end" style="font-family:'Liberation Serif',serif;font-size:13.0px" fill="#111" stroke="#111" stroke-width="0.25">-0.10</text>
<text transform="translate(333.50 567.30) scale(0.95 1)" text-anchor="middle" style="font-family:'Liberation Serif',serif;font-size:13.0px" fill="#111" stroke="#111" stroke-width="0.25"><tspan font-style="italic">Q</tspan> / Å<tspan font-size="8.2px" dy="-6.8">-1</tspan></text>
<g transform="translate(225.50 456.60) rotate(-90) scale(0.8989 1)"><text x="0" y="0" text-anchor="middle" style="font-family:'Liberation Serif',serif;font-size:13.0px" fill="#111" stroke="#111" stroke-width="0.25"><tspan font-style="italic">S</tspan><tspan font-size="8.2px" dy="2.2">ii</tspan><tspan dy="-2.2"> / ×10</tspan><tspan font-size="8.2px" dy="-6.8">20</tspan><tspan dy="6.8"> cm</tspan><tspan font-size="8.2px" dy="-6.8">3</tspan></text></g>
<path d="M354.60 404.60L358.10 410.60L351.10 410.60Z" fill="#929200"/>
<text transform="translate(367.90 412.00) scale(0.95 1)" style="font-family:'Liberation Serif',serif;font-size:12.6px" fill="#111" stroke="#111" stroke-width="0.25">S<tspan font-size="9.4px" dy="2.1" letter-spacing="0.25">cp</tspan></text>
<text x="274.00" y="517.90" style="font-family:'Liberation Sans',sans-serif;font-size:15.75px" fill="#111">linear plot</text>
<g clip-path="url(#clc)">
<path d="M484.90 485.32L487.70 489.82L482.10 489.82Z" fill="#929200"/><path d="M485.46 485.32L488.26 489.82L482.66 489.82Z" fill="#929200"/><path d="M486.02 485.31L488.82 489.81L483.22 489.81Z" fill="#929200"/><path d="M486.58 485.31L489.38 489.81L483.78 489.81Z" fill="#929200"/><path d="M487.14 485.30L489.94 489.80L484.34 489.80Z" fill="#929200"/><path d="M487.70 485.29L490.50 489.79L484.90 489.79Z" fill="#929200"/><path d="M488.25 485.29L491.05 489.79L485.45 489.79Z" fill="#929200"/><path d="M488.81 485.28L491.61 489.78L486.01 489.78Z" fill="#929200"/><path d="M489.37 485.27L492.17 489.77L486.57 489.77Z" fill="#929200"/><path d="M489.93 485.27L492.73 489.77L487.13 489.77Z" fill="#929200"/><path d="M490.49 485.26L493.29 489.76L487.69 489.76Z" fill="#929200"/><path d="M491.05 485.25L493.85 489.75L488.25 489.75Z" fill="#929200"/><path d="M491.61 485.24L494.41 489.74L488.81 489.74Z" fill="#929200"/><path d="M492.17 485.24L494.97 489.74L489.37 489.74Z" fill="#929200"/><path d="M492.73 485.23L495.53 489.73L489.93 489.73Z" fill="#929200"/><path d="M493.29 485.22L496.09 489.72L490.49 489.72Z" fill="#929200"/><path d="M493.85 485.21L496.65 489.71L491.05 489.71Z" fill="#929200"/><path d="M494.40 485.20L497.20 489.70L491.60 489.70Z" fill="#929200"/><path d="M494.96 485.19L497.76 489.69L492.16 489.69Z" fill="#929200"/><path d="M495.52 485.18L498.32 489.68L492.72 489.68Z" fill="#929200"/><path d="M496.08 485.17L498.88 489.67L493.28 489.67Z" fill="#929200"/><path d="M496.64 485.17L499.44 489.67L493.84 489.67Z" fill="#929200"/><path d="M497.20 485.16L500.00 489.66L494.40 489.66Z" fill="#929200"/><path d="M497.76 485.15L500.56 489.65L494.96 489.65Z" fill="#929200"/><path d="M498.32 485.14L501.12 489.64L495.52 489.64Z" fill="#929200"/><path d="M498.88 485.13L501.68 489.63L496.08 489.63Z" fill="#929200"/><path d="M499.44 485.12L502.24 489.62L496.64 489.62Z" fill="#929200"/><path d="M499.99 485.11L502.79 489.61L497.19 489.61Z" fill="#929200"/><path d="M500.55 485.10L503.35 489.60L497.75 489.60Z" fill="#929200"/><path d="M501.11 485.09L503.91 489.59L498.31 489.59Z" fill="#929200"/><path d="M501.67 485.07L504.47 489.57L498.87 489.57Z" fill="#929200"/><path d="M502.23 485.06L505.03 489.56L499.43 489.56Z" fill="#929200"/><path d="M502.79 485.05L505.59 489.55L499.99 489.55Z" fill="#929200"/><path d="M503.35 485.04L506.15 489.54L500.55 489.54Z" fill="#929200"/><path d="M503.91 485.03L506.71 489.53L501.11 489.53Z" fill="#929200"/><path d="M504.47 485.02L507.27 489.52L501.67 489.52Z" fill="#929200"/><path d="M505.03 485.01L507.83 489.51L502.23 489.51Z" fill="#929200"/><path d="M505.59 485.00L508.39 489.50L502.79 489.50Z" fill="#929200"/><path d="M506.14 484.99L508.94 489.49L503.34 489.49Z" fill="#929200"/><path d="M506.70 484.98L509.50 489.48L503.90 489.48Z" fill="#929200"/><path d="M507.26 484.96L510.06 489.46L504.46 489.46Z" fill="#929200"/><path d="M507.82 484.95L510.62 489.45L505.02 489.45Z" fill="#929200"/><path d="M508.38 484.94L511.18 489.44L505.58 489.44Z" fill="#929200"/><path d="M508.94 484.92L511.74 489.42L506.14 489.42Z" fill="#929200"/><path d="M509.50 484.91L512.30 489.41L506.70 489.41Z" fill="#929200"/><path d="M510.06 484.89L512.86 489.39L507.26 489.39Z" fill="#929200"/><path d="M510.62 484.87L513.42 489.37L507.82 489.37Z" fill="#929200"/><path d="M511.18 484.86L513.98 489.36L508.38 489.36Z" fill="#929200"/><path d="M511.74 484.84L514.54 489.34L508.94 489.34Z" fill="#929200"/><path d="M512.29 484.82L515.09 489.32L509.49 489.32Z" fill="#929200"/><path d="M512.85 484.80L515.65 489.30L510.05 489.30Z" fill="#929200"/><path d="M513.41 484.77L516.21 489.27L510.61 489.27Z" fill="#929200"/><path d="M513.97 484.75L516.77 489.25L511.17 489.25Z" fill="#929200"/><path d="M514.53 484.72L517.33 489.22L511.73 489.22Z" fill="#929200"/><path d="M515.09 484.69L517.89 489.19L512.29 489.19Z" fill="#929200"/><path d="M515.65 484.65L518.45 489.15L512.85 489.15Z" fill="#929200"/><path d="M516.21 484.61L519.01 489.11L513.41 489.11Z" fill="#929200"/><path d="M516.77 484.56L519.57 489.06L513.97 489.06Z" fill="#929200"/><path d="M517.33 484.50L520.13 489.00L514.53 489.00Z" fill="#929200"/><path d="M517.89 484.44L520.69 488.94L515.09 488.94Z" fill="#929200"/><path d="M518.44 484.37L521.24 488.87L515.64 488.87Z" fill="#929200"/><path d="M519.00 484.30L521.80 488.80L516.20 488.80Z" fill="#929200"/><path d="M519.56 484.23L522.36 488.73L516.76 488.73Z" fill="#929200"/><path d="M520.12 484.15L522.92 488.65L517.32 488.65Z" fill="#929200"/><path d="M520.68 484.06L523.48 488.56L517.88 488.56Z" fill="#929200"/><path d="M521.24 483.97L524.04 488.47L518.44 488.47Z" fill="#929200"/><path d="M521.80 483.88L524.60 488.38L519.00 488.38Z" fill="#929200"/><path d="M522.36 483.79L525.16 488.29L519.56 488.29Z" fill="#929200"/><path d="M522.92 483.69L525.72 488.19L520.12 488.19Z" fill="#929200"/><path d="M523.48 483.59L526.28 488.09L520.68 488.09Z" fill="#929200"/><path d="M524.04 483.48L526.84 487.98L521.24 487.98Z" fill="#929200"/><path d="M524.59 483.38L527.39 487.88L521.79 487.88Z" fill="#929200"/><path d="M525.15 483.27L527.95 487.77L522.35 487.77Z" fill="#929200"/><path d="M525.71 483.16L528.51 487.66L522.91 487.66Z" fill="#929200"/><path d="M526.27 483.05L529.07 487.55L523.47 487.55Z" fill="#929200"/><path d="M526.83 482.93L529.63 487.43L524.03 487.43Z" fill="#929200"/><path d="M527.39 482.82L530.19 487.32L524.59 487.32Z" fill="#929200"/><path d="M527.95 482.70L530.75 487.20L525.15 487.20Z" fill="#929200"/><path d="M528.51 482.58L531.31 487.08L525.71 487.08Z" fill="#929200"/><path d="M529.07 482.46L531.87 486.96L526.27 486.96Z" fill="#929200"/><path d="M529.63 482.32L532.43 486.82L526.83 486.82Z" fill="#929200"/><path d="M530.18 482.18L532.98 486.68L527.38 486.68Z" fill="#929200"/><path d="M530.74 482.03L533.54 486.53L527.94 486.53Z" fill="#929200"/><path d="M531.30 481.88L534.10 486.38L528.50 486.38Z" fill="#929200"/><path d="M531.86 481.72L534.66 486.22L529.06 486.22Z" fill="#929200"/><path d="M532.42 481.55L535.22 486.05L529.62 486.05Z" fill="#929200"/><path d="M532.98 481.37L535.78 485.87L530.18 485.87Z" fill="#929200"/><path d="M533.54 481.19L536.34 485.69L530.74 485.69Z" fill="#929200"/><path d="M534.10 481.00L536.90 485.50L531.30 485.50Z" fill="#929200"/><path d="M534.66 480.80L537.46 485.30L531.86 485.30Z" fill="#929200"/><path d="M535.22 480.60L538.02 485.10L532.42 485.10Z" fill="#929200"/><path d="M535.78 480.39L538.58 484.89L532.98 484.89Z" fill="#929200"/><path d="M536.33 480.18L539.13 484.68L533.53 484.68Z" fill="#929200"/><path d="M536.89 479.97L539.69 484.47L534.09 484.47Z" fill="#929200"/><path d="M537.45 479.75L540.25 484.25L534.65 484.25Z" fill="#929200"/><path d="M538.01 479.52L540.81 484.02L535.21 484.02Z" fill="#929200"/><path d="M538.57 479.29L541.37 483.79L535.77 483.79Z" fill="#929200"/><path d="M539.13 479.06L541.93 483.56L536.33 483.56Z" fill="#929200"/><path d="M539.69 478.82L542.49 483.32L536.89 483.32Z" fill="#929200"/><path d="M540.25 478.58L543.05 483.08L537.45 483.08Z" fill="#929200"/><path d="M540.81 478.33L543.61 482.83L538.01 482.83Z" fill="#929200"/><path d="M541.37 478.08L544.17 482.58L538.57 482.58Z" fill="#929200"/><path d="M541.93 477.83L544.73 482.33L539.13 482.33Z" fill="#929200"/><path d="M542.48 477.58L545.28 482.08L539.68 482.08Z" fill="#929200"/><path d="M543.04 477.31L545.84 481.81L540.24 481.81Z" fill="#929200"/><path d="M543.60 477.03L546.40 481.53L540.80 481.53Z" fill="#929200"/><path d="M544.16 476.73L546.96 481.23L541.36 481.23Z" fill="#929200"/><path d="M544.72 476.42L547.52 480.92L541.92 480.92Z" fill="#929200"/><path d="M545.28 476.10L548.08 480.60L542.48 480.60Z" fill="#929200"/><path d="M545.84 475.77L548.64 480.27L543.04 480.27Z" fill="#929200"/><path d="M546.40 475.43L549.20 479.93L543.60 479.93Z" fill="#929200"/><path d="M546.96 475.08L549.76 479.58L544.16 479.58Z" fill="#929200"/><path d="M547.52 474.72L550.32 479.22L544.72 479.22Z" fill="#929200"/><path d="M548.08 474.36L550.88 478.86L545.28 478.86Z" fill="#929200"/><path d="M548.63 473.99L551.43 478.49L545.83 478.49Z" fill="#929200"/><path d="M549.19 473.61L551.99 478.11L546.39 478.11Z" fill="#929200"/><path d="M549.75 473.22L552.55 477.72L546.95 477.72Z" fill="#929200"/><path d="M550.31 472.82L553.11 477.32L547.51 477.32Z" fill="#929200"/><path d="M550.87 472.40L553.67 476.90L548.07 476.90Z" fill="#929200"/><path d="M551.43 471.96L554.23 476.46L548.63 476.46Z" fill="#929200"/><path d="M551.99 471.51L554.79 476.01L549.19 476.01Z" fill="#929200"/><path d="M552.55 471.05L555.35 475.55L549.75 475.55Z" fill="#929200"/><path d="M553.11 470.59L555.91 475.09L550.31 475.09Z" fill="#929200"/><path d="M553.67 470.12L556.47 474.62L550.87 474.62Z" fill="#929200"/><path d="M554.23 469.65L557.03 474.15L551.43 474.15Z" fill="#929200"/><path d="M554.78 469.17L557.58 473.67L551.98 473.67Z" fill="#929200"/><path d="M555.34 468.71L558.14 473.21L552.54 473.21Z" fill="#929200"/><path d="M555.90 468.24L558.70 472.74L553.10 472.74Z" fill="#929200"/><path d="M556.46 467.79L559.26 472.29L553.66 472.29Z" fill="#929200"/><path d="M557.02 467.34L559.82 471.84L554.22 471.84Z" fill="#929200"/><path d="M557.58 466.88L560.38 471.38L554.78 471.38Z" fill="#929200"/><path d="M558.14 466.42L560.94 470.92L555.34 470.92Z" fill="#929200"/><path d="M558.70 465.96L561.50 470.46L555.90 470.46Z" fill="#929200"/><path d="M559.26 465.50L562.06 470.00L556.46 470.00Z" fill="#929200"/><path d="M559.82 465.04L562.62 469.54L557.02 469.54Z" fill="#929200"/><path d="M560.37 464.59L563.17 469.09L557.57 469.09Z" fill="#929200"/><path d="M560.93 464.13L563.73 468.63L558.13 468.63Z" fill="#929200"/><path d="M561.49 463.68L564.29 468.18L558.69 468.18Z" fill="#929200"/><path d="M562.05 463.24L564.85 467.74L559.25 467.74Z" fill="#929200"/><path d="M562.61 462.80L565.41 467.30L559.81 467.30Z" fill="#929200"/><path d="M563.17 462.37L565.97 466.87L560.37 466.87Z" fill="#929200"/><path d="M563.73 461.95L566.53 466.45L560.93 466.45Z" fill="#929200"/><path d="M564.29 461.53L567.09 466.03L561.49 466.03Z" fill="#929200"/><path d="M564.85 461.10L567.65 465.60L562.05 465.60Z" fill="#929200"/><path d="M565.41 460.67L568.21 465.17L562.61 465.17Z" fill="#929200"/><path d="M565.97 460.24L568.77 464.74L563.17 464.74Z" fill="#929200"/><path d="M566.52 459.81L569.32 464.31L563.72 464.31Z" fill="#929200"/><path d="M567.08 459.40L569.88 463.90L564.28 463.90Z" fill="#929200"/><path d="M567.64 458.99L570.44 463.49L564.84 463.49Z" fill="#929200"/><path d="M568.20 458.60L571.00 463.10L565.40 463.10Z" fill="#929200"/><path d="M568.76 458.23L571.56 462.73L565.96 462.73Z" fill="#929200"/><path d="M569.32 457.88L572.12 462.38L566.52 462.38Z" fill="#929200"/><path d="M569.88 457.55L572.68 462.05L567.08 462.05Z" fill="#929200"/><path d="M570.44 457.24L573.24 461.74L567.64 461.74Z" fill="#929200"/><path d="M571.00 456.93L573.80 461.43L568.20 461.43Z" fill="#929200"/><path d="M571.56 456.62L574.36 461.12L568.76 461.12Z" fill="#929200"/><path d="M572.12 456.40L574.92 460.90L569.32 460.90Z" fill="#929200"/><path d="M572.67 456.35L575.47 460.85L569.87 460.85Z" fill="#929200"/><path d="M573.23 456.35L576.03 460.85L570.43 460.85Z" fill="#929200"/><path d="M573.79 456.35L576.59 460.85L570.99 460.85Z" fill="#929200"/><path d="M574.35 456.35L577.15 460.85L571.55 460.85Z" fill="#929200"/><path d="M574.91 456.35L577.71 460.85L572.11 460.85Z" fill="#929200"/><path d="M575.47 456.35L578.27 460.85L572.67 460.85Z" fill="#929200"/><path d="M576.03 456.35L578.83 460.85L573.23 460.85Z" fill="#929200"/><path d="M576.59 456.35L579.39 460.85L573.79 460.85Z" fill="#929200"/><path d="M577.15 456.35L579.95 460.85L574.35 460.85Z" fill="#929200"/><path d="M577.71 456.35L580.51 460.85L574.91 460.85Z" fill="#929200"/><path d="M578.27 456.35L581.07 460.85L575.47 460.85Z" fill="#929200"/><path d="M578.82 456.35L581.62 460.85L576.02 460.85Z" fill="#929200"/><path d="M579.38 456.35L582.18 460.85L576.58 460.85Z" fill="#929200"/><path d="M579.94 456.35L582.74 460.85L577.14 460.85Z" fill="#929200"/><path d="M580.50 456.35L583.30 460.85L577.70 460.85Z" fill="#929200"/><path d="M581.06 456.35L583.86 460.85L578.26 460.85Z" fill="#929200"/><path d="M581.62 456.35L584.42 460.85L578.82 460.85Z" fill="#929200"/><path d="M582.18 456.35L584.98 460.85L579.38 460.85Z" fill="#929200"/><path d="M582.74 456.35L585.54 460.85L579.94 460.85Z" fill="#929200"/><path d="M583.30 456.35L586.10 460.85L580.50 460.85Z" fill="#929200"/><path d="M583.86 456.35L586.66 460.85L581.06 460.85Z" fill="#929200"/><path d="M584.42 456.35L587.22 460.85L581.62 460.85Z" fill="#929200"/><path d="M584.97 456.35L587.77 460.85L582.17 460.85Z" fill="#929200"/><path d="M585.53 456.35L588.33 460.85L582.73 460.85Z" fill="#929200"/><path d="M586.09 456.35L588.89 460.85L583.29 460.85Z" fill="#929200"/><path d="M586.65 456.35L589.45 460.85L583.85 460.85Z" fill="#929200"/><path d="M587.21 456.35L590.01 460.85L584.41 460.85Z" fill="#929200"/><path d="M587.77 456.35L590.57 460.85L584.97 460.85Z" fill="#929200"/><path d="M588.33 456.35L591.13 460.85L585.53 460.85Z" fill="#929200"/><path d="M588.89 456.35L591.69 460.85L586.09 460.85Z" fill="#929200"/><path d="M589.45 456.35L592.25 460.85L586.65 460.85Z" fill="#929200"/><path d="M590.01 456.35L592.81 460.85L587.21 460.85Z" fill="#929200"/><path d="M590.56 456.35L593.36 460.85L587.76 460.85Z" fill="#929200"/><path d="M591.12 456.35L593.92 460.85L588.32 460.85Z" fill="#929200"/><path d="M591.68 456.35L594.48 460.85L588.88 460.85Z" fill="#929200"/><path d="M592.24 456.35L595.04 460.85L589.44 460.85Z" fill="#929200"/><path d="M592.80 456.35L595.60 460.85L590.00 460.85Z" fill="#929200"/><path d="M593.36 456.35L596.16 460.85L590.56 460.85Z" fill="#929200"/><path d="M593.92 456.35L596.72 460.85L591.12 460.85Z" fill="#929200"/><path d="M594.48 456.35L597.28 460.85L591.68 460.85Z" fill="#929200"/><path d="M595.04 456.35L597.84 460.85L592.24 460.85Z" fill="#929200"/><path d="M595.60 456.35L598.40 460.85L592.80 460.85Z" fill="#929200"/><path d="M596.16 456.35L598.96 460.85L593.36 460.85Z" fill="#929200"/><path d="M596.71 456.35L599.51 460.85L593.91 460.85Z" fill="#929200"/><path d="M597.27 456.35L600.07 460.85L594.47 460.85Z" fill="#929200"/><path d="M597.83 456.35L600.63 460.85L595.03 460.85Z" fill="#929200"/><path d="M598.39 456.35L601.19 460.85L595.59 460.85Z" fill="#929200"/><path d="M598.95 456.35L601.75 460.85L596.15 460.85Z" fill="#929200"/><path d="M599.51 456.35L602.31 460.85L596.71 460.85Z" fill="#929200"/><path d="M600.07 456.35L602.87 460.85L597.27 460.85Z" fill="#929200"/><path d="M600.63 456.35L603.43 460.85L597.83 460.85Z" fill="#929200"/><path d="M601.19 456.35L603.99 460.85L598.39 460.85Z" fill="#929200"/><path d="M601.75 456.35L604.55 460.85L598.95 460.85Z" fill="#929200"/><path d="M602.31 456.35L605.11 460.85L599.51 460.85Z" fill="#929200"/><path d="M602.86 456.35L605.66 460.85L600.06 460.85Z" fill="#929200"/><path d="M603.42 456.35L606.22 460.85L600.62 460.85Z" fill="#929200"/><path d="M603.98 456.35L606.78 460.85L601.18 460.85Z" fill="#929200"/><path d="M604.54 456.35L607.34 460.85L601.74 460.85Z" fill="#929200"/><path d="M605.10 456.35L607.90 460.85L602.30 460.85Z" fill="#929200"/><path d="M605.66 456.35L608.46 460.85L602.86 460.85Z" fill="#929200"/><path d="M606.22 456.35L609.02 460.85L603.42 460.85Z" fill="#929200"/><path d="M606.78 456.35L609.58 460.85L603.98 460.85Z" fill="#929200"/><path d="M607.34 456.35L610.14 460.85L604.54 460.85Z" fill="#929200"/><path d="M607.90 456.35L610.70 460.85L605.10 460.85Z" fill="#929200"/><path d="M608.46 456.35L611.26 460.85L605.66 460.85Z" fill="#929200"/><path d="M609.01 456.35L611.81 460.85L606.21 460.85Z" fill="#929200"/><path d="M609.57 456.35L612.37 460.85L606.77 460.85Z" fill="#929200"/><path d="M610.13 456.35L612.93 460.85L607.33 460.85Z" fill="#929200"/><path d="M610.69 456.35L613.49 460.85L607.89 460.85Z" fill="#929200"/><path d="M611.25 456.35L614.05 460.85L608.45 460.85Z" fill="#929200"/><path d="M611.81 456.35L614.61 460.85L609.01 460.85Z" fill="#929200"/><path d="M612.37 456.35L615.17 460.85L609.57 460.85Z" fill="#929200"/><path d="M612.93 456.35L615.73 460.85L610.13 460.85Z" fill="#929200"/><path d="M613.49 456.35L616.29 460.85L610.69 460.85Z" fill="#929200"/><path d="M614.05 456.35L616.85 460.85L611.25 460.85Z" fill="#929200"/><path d="M614.61 456.35L617.41 460.85L611.81 460.85Z" fill="#929200"/><path d="M615.16 456.35L617.96 460.85L612.36 460.85Z" fill="#929200"/><path d="M615.72 456.35L618.52 460.85L612.92 460.85Z" fill="#929200"/><path d="M616.28 456.35L619.08 460.85L613.48 460.85Z" fill="#929200"/><path d="M616.84 456.35L619.64 460.85L614.04 460.85Z" fill="#929200"/><path d="M617.40 456.35L620.20 460.85L614.60 460.85Z" fill="#929200"/><path d="M617.96 456.35L620.76 460.85L615.16 460.85Z" fill="#929200"/><path d="M618.52 456.35L621.32 460.85L615.72 460.85Z" fill="#929200"/><path d="M619.08 456.35L621.88 460.85L616.28 460.85Z" fill="#929200"/><path d="M619.64 456.35L622.44 460.85L616.84 460.85Z" fill="#929200"/><path d="M620.20 456.35L623.00 460.85L617.40 460.85Z" fill="#929200"/><path d="M620.75 456.35L623.55 460.85L617.95 460.85Z" fill="#929200"/><path d="M621.31 456.35L624.11 460.85L618.51 460.85Z" fill="#929200"/><path d="M621.87 456.35L624.67 460.85L619.07 460.85Z" fill="#929200"/><path d="M622.43 456.35L625.23 460.85L619.63 460.85Z" fill="#929200"/><path d="M622.99 456.35L625.79 460.85L620.19 460.85Z" fill="#929200"/><path d="M623.55 456.35L626.35 460.85L620.75 460.85Z" fill="#929200"/><path d="M624.11 456.35L626.91 460.85L621.31 460.85Z" fill="#929200"/><path d="M624.67 456.35L627.47 460.85L621.87 460.85Z" fill="#929200"/><path d="M625.23 456.35L628.03 460.85L622.43 460.85Z" fill="#929200"/><path d="M625.79 456.35L628.59 460.85L622.99 460.85Z" fill="#929200"/><path d="M626.35 456.35L629.15 460.85L623.55 460.85Z" fill="#929200"/><path d="M626.90 456.35L629.70 460.85L624.10 460.85Z" fill="#929200"/><path d="M627.46 456.35L630.26 460.85L624.66 460.85Z" fill="#929200"/><path d="M628.02 456.35L630.82 460.85L625.22 460.85Z" fill="#929200"/><path d="M628.58 456.35L631.38 460.85L625.78 460.85Z" fill="#929200"/><path d="M629.14 456.35L631.94 460.85L626.34 460.85Z" fill="#929200"/><path d="M629.70 456.35L632.50 460.85L626.90 460.85Z" fill="#929200"/>
</g>
<rect x="484.90" y="386.80" width="144.80" height="144.50" fill="none" stroke="#505050" stroke-width="1.2"/>
<path d="M484.90 531.30v-4.5M484.90 386.80v4.5M501.65 531.30v-2.5M501.65 386.80v2.5M511.45 531.30v-2.5M511.45 386.80v2.5M518.40 531.30v-2.5M518.40 386.80v2.5M523.80 531.30v-2.5M523.80 386.80v2.5M528.20 531.30v-2.5M528.20 386.80v2.5M531.93 531.30v-2.5M531.93 386.80v2.5M535.16 531.30v-2.5M535.16 386.80v2.5M538.00 531.30v-2.5M538.00 386.80v2.5M540.55 531.30v-4.5M540.55 386.80v4.5M557.30 531.30v-2.5M557.30 386.80v2.5M567.10 531.30v-2.5M567.10 386.80v2.5M574.05 531.30v-2.5M574.05 386.80v2.5M579.44 531.30v-2.5M579.44 386.80v2.5M583.85 531.30v-2.5M583.85 386.80v2.5M587.58 531.30v-2.5M587.58 386.80v2.5M590.80 531.30v-2.5M590.80 386.80v2.5M593.65 531.30v-2.5M593.65 386.80v2.5M596.20 531.30v-4.5M596.20 386.80v4.5M612.95 531.30v-2.5M612.95 386.80v2.5M622.75 531.30v-2.5M622.75 386.80v2.5M629.70 531.30v-2.5M629.70 386.80v2.5" stroke="#505050" stroke-width="1" fill="none"/>
<text transform="translate(476.52 550.60) scale(0.89 1)" style="font-family:'Liberation Serif',serif;font-size:13.0px" fill="#111" stroke="#111" stroke-width="0.25">10</text><text transform="translate(487.63 543.90) scale(0.9 1)" style="font-family:'Liberation Serif',serif;font-size:8.2px" fill="#111" stroke="#111" stroke-width="0.25">-3</text>
<text transform="translate(532.22 550.60) scale(0.89 1)" style="font-family:'Liberation Serif',serif;font-size:13.0px" fill="#111" stroke="#111" stroke-width="0.25">10</text><text transform="translate(543.33 543.90) scale(0.9 1)" style="font-family:'Liberation Serif',serif;font-size:8.2px" fill="#111" stroke="#111" stroke-width="0.25">-2</text>
<text transform="translate(587.89 550.60) scale(0.89 1)" style="font-family:'Liberation Serif',serif;font-size:13.0px" fill="#111" stroke="#111" stroke-width="0.25">10</text><text transform="translate(599.00 543.90) scale(0.9 1)" style="font-family:'Liberation Serif',serif;font-size:8.2px" fill="#111" stroke="#111" stroke-width="0.25">-1</text>
<path d="M484.90 531.30h3.5M629.70 531.30h-3.5M484.90 495.17h3.5M629.70 495.17h-3.5M484.90 459.05h3.5M629.70 459.05h-3.5M484.90 422.92h3.5M629.70 422.92h-3.5M484.90 386.80h3.5M629.70 386.80h-3.5" stroke="#505050" stroke-width="1" fill="none"/>
<text transform="translate(478.90 390.40) scale(0.88 1)" text-anchor="end" style="font-family:'Liberation Serif',serif;font-size:13.0px" fill="#111" stroke="#111" stroke-width="0.25">0.10</text>
<text transform="translate(478.90 426.52) scale(0.88 1)" text-anchor="end" style="font-family:'Liberation Serif',serif;font-size:13.0px" fill="#111" stroke="#111" stroke-width="0.25">0.05</text>
<text transform="translate(478.90 462.65) scale(0.88 1)" text-anchor="end" style="font-family:'Liberation Serif',serif;font-size:13.0px" fill="#111" stroke="#111" stroke-width="0.25">0.00</text>
<text transform="translate(478.90 498.77) scale(0.88 1)" text-anchor="end" style="font-family:'Liberation Serif',serif;font-size:13.0px" fill="#111" stroke="#111" stroke-width="0.25">-0.05</text>
<text transform="translate(478.90 534.90) scale(0.88 1)" text-anchor="end" style="font-family:'Liberation Serif',serif;font-size:13.0px" fill="#111" stroke="#111" stroke-width="0.25">-0.10</text>
<text transform="translate(555.45 567.30) scale(0.95 1)" text-anchor="middle" style="font-family:'Liberation Serif',serif;font-size:13.0px" fill="#111" stroke="#111" stroke-width="0.25"><tspan font-style="italic">Q</tspan> / Å<tspan font-size="8.2px" dy="-6.8">-1</tspan></text>
<g transform="translate(444.30 455.80) rotate(-90) scale(0.9790 1)"><text x="0" y="0" text-anchor="middle" style="font-family:'Liberation Serif',serif;font-size:13.0px" fill="#111" stroke="#111" stroke-width="0.25"><tspan font-style="italic">S</tspan><tspan font-size="8.2px" dy="2.2">ii</tspan><tspan dy="-2.2"> / ×10</tspan><tspan font-size="8.2px" dy="-6.8">20</tspan><tspan dy="6.8"> cm</tspan><tspan font-size="8.2px" dy="-6.8">3</tspan></text></g>
<path d="M580.50 405.30L584.00 411.30L577.00 411.30Z" fill="#929200"/>
<text transform="translate(593.80 412.70) scale(0.95 1)" style="font-family:'Liberation Serif',serif;font-size:12.6px" fill="#111" stroke="#111" stroke-width="0.25">S<tspan font-size="9.4px" dy="2.1" letter-spacing="0.25">cp</tspan></text>
<text x="498.30" y="521.00" style="font-family:'Liberation Sans',sans-serif;font-size:15.75px" fill="#111">linear plot</text>
</svg></body></html>
